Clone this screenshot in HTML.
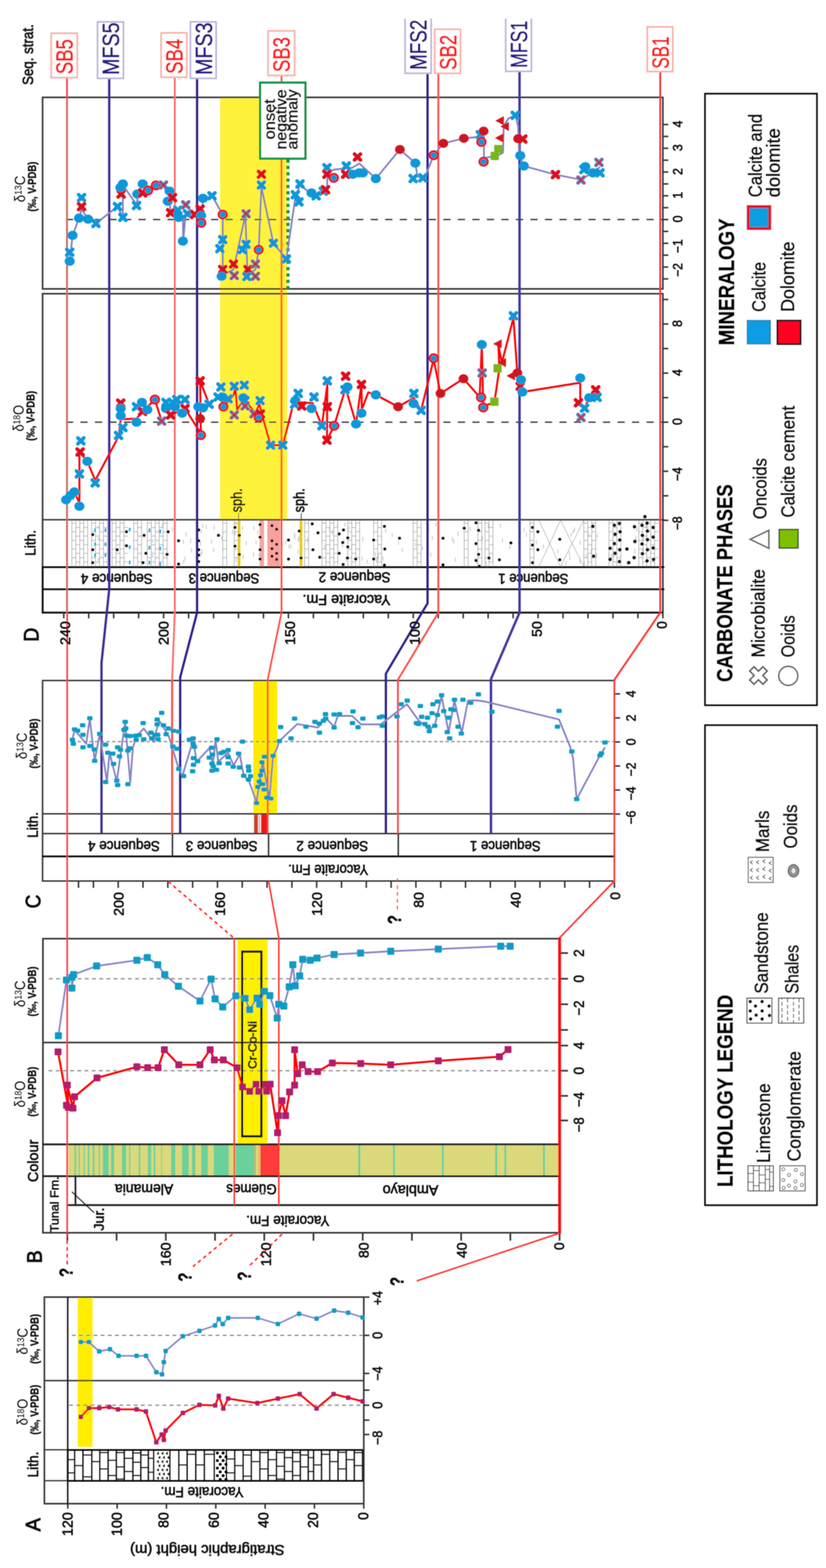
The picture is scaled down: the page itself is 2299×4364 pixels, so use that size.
<!DOCTYPE html>
<html lang="en">
<head>
<meta charset="utf-8">
<title>Stratigraphic isotope correlation</title>
<style>
html,body{margin:0;padding:0;background:#fff;}
body{width:2299px;height:4364px;overflow:hidden;}
svg{display:block;}
text{font-family:"Liberation Sans", "DejaVu Sans", sans-serif;}
</style>
</head>
<body>
<svg width="2299" height="4364" viewBox="0 0 2299 4364">
<defs><filter id="soft" x="0" y="0" width="2299" height="4364" filterUnits="userSpaceOnUse"><feGaussianBlur stdDeviation="1.3"/></filter></defs>
<rect x="0" y="0" width="2299" height="4364" fill="#ffffff"/>
<g filter="url(#soft)">
<rect x="612.5" y="271" width="186.5" height="1175.5" fill="#fff23a" stroke="none" stroke-width="0" />
<rect x="705" y="1894" width="66.5" height="371" fill="#ffea00" stroke="none" stroke-width="0" />
<rect x="661" y="2612.5" width="84" height="572.5" fill="#fff000" stroke="none" stroke-width="0" />
<rect x="216.5" y="3610" width="41" height="416.5" fill="#ffee00" stroke="none" stroke-width="0" />
<line x1="200" y1="1448" x2="200" y2="1577" stroke="#a4a4a4" stroke-width="1.7" />
<line x1="200" y1="1456" x2="211" y2="1456" stroke="#a4a4a4" stroke-width="1.6" />
<line x1="200" y1="1480" x2="211" y2="1480" stroke="#a4a4a4" stroke-width="1.6" />
<line x1="200" y1="1504" x2="211" y2="1504" stroke="#a4a4a4" stroke-width="1.6" />
<line x1="200" y1="1528" x2="211" y2="1528" stroke="#a4a4a4" stroke-width="1.6" />
<line x1="200" y1="1552" x2="211" y2="1552" stroke="#a4a4a4" stroke-width="1.6" />
<line x1="200" y1="1576" x2="211" y2="1576" stroke="#a4a4a4" stroke-width="1.6" />
<line x1="211" y1="1448" x2="211" y2="1577" stroke="#a4a4a4" stroke-width="1.7" />
<line x1="211" y1="1468" x2="222" y2="1468" stroke="#a4a4a4" stroke-width="1.6" />
<line x1="211" y1="1492" x2="222" y2="1492" stroke="#a4a4a4" stroke-width="1.6" />
<line x1="211" y1="1516" x2="222" y2="1516" stroke="#a4a4a4" stroke-width="1.6" />
<line x1="211" y1="1540" x2="222" y2="1540" stroke="#a4a4a4" stroke-width="1.6" />
<line x1="211" y1="1564" x2="222" y2="1564" stroke="#a4a4a4" stroke-width="1.6" />
<line x1="222" y1="1448" x2="222" y2="1577" stroke="#a4a4a4" stroke-width="1.7" />
<line x1="222" y1="1456" x2="233" y2="1456" stroke="#a4a4a4" stroke-width="1.6" />
<line x1="222" y1="1480" x2="233" y2="1480" stroke="#a4a4a4" stroke-width="1.6" />
<line x1="222" y1="1504" x2="233" y2="1504" stroke="#a4a4a4" stroke-width="1.6" />
<line x1="222" y1="1528" x2="233" y2="1528" stroke="#a4a4a4" stroke-width="1.6" />
<line x1="222" y1="1552" x2="233" y2="1552" stroke="#a4a4a4" stroke-width="1.6" />
<line x1="222" y1="1576" x2="233" y2="1576" stroke="#a4a4a4" stroke-width="1.6" />
<line x1="233" y1="1448" x2="233" y2="1577" stroke="#a4a4a4" stroke-width="1.7" />
<line x1="233" y1="1468" x2="244" y2="1468" stroke="#a4a4a4" stroke-width="1.6" />
<line x1="233" y1="1492" x2="244" y2="1492" stroke="#a4a4a4" stroke-width="1.6" />
<line x1="233" y1="1516" x2="244" y2="1516" stroke="#a4a4a4" stroke-width="1.6" />
<line x1="233" y1="1540" x2="244" y2="1540" stroke="#a4a4a4" stroke-width="1.6" />
<line x1="233" y1="1564" x2="244" y2="1564" stroke="#a4a4a4" stroke-width="1.6" />
<line x1="244" y1="1448" x2="244" y2="1577" stroke="#a4a4a4" stroke-width="1.7" />
<line x1="255" y1="1448" x2="255" y2="1577" stroke="#a4a4a4" stroke-width="1.7" />
<line x1="255" y1="1456" x2="266" y2="1456" stroke="#a4a4a4" stroke-width="1.6" />
<line x1="255" y1="1480" x2="266" y2="1480" stroke="#a4a4a4" stroke-width="1.6" />
<line x1="255" y1="1504" x2="266" y2="1504" stroke="#a4a4a4" stroke-width="1.6" />
<line x1="255" y1="1528" x2="266" y2="1528" stroke="#a4a4a4" stroke-width="1.6" />
<line x1="255" y1="1552" x2="266" y2="1552" stroke="#a4a4a4" stroke-width="1.6" />
<line x1="255" y1="1576" x2="266" y2="1576" stroke="#a4a4a4" stroke-width="1.6" />
<line x1="266" y1="1448" x2="266" y2="1577" stroke="#a4a4a4" stroke-width="1.7" />
<line x1="266" y1="1468" x2="277" y2="1468" stroke="#a4a4a4" stroke-width="1.6" />
<line x1="266" y1="1492" x2="277" y2="1492" stroke="#a4a4a4" stroke-width="1.6" />
<line x1="266" y1="1516" x2="277" y2="1516" stroke="#a4a4a4" stroke-width="1.6" />
<line x1="266" y1="1540" x2="277" y2="1540" stroke="#a4a4a4" stroke-width="1.6" />
<line x1="266" y1="1564" x2="277" y2="1564" stroke="#a4a4a4" stroke-width="1.6" />
<line x1="277" y1="1448" x2="277" y2="1577" stroke="#a4a4a4" stroke-width="1.7" />
<line x1="277" y1="1456" x2="288" y2="1456" stroke="#a4a4a4" stroke-width="1.6" />
<line x1="277" y1="1480" x2="288" y2="1480" stroke="#a4a4a4" stroke-width="1.6" />
<line x1="277" y1="1504" x2="288" y2="1504" stroke="#a4a4a4" stroke-width="1.6" />
<line x1="277" y1="1528" x2="288" y2="1528" stroke="#a4a4a4" stroke-width="1.6" />
<line x1="277" y1="1552" x2="288" y2="1552" stroke="#a4a4a4" stroke-width="1.6" />
<line x1="277" y1="1576" x2="288" y2="1576" stroke="#a4a4a4" stroke-width="1.6" />
<line x1="288" y1="1448" x2="288" y2="1577" stroke="#a4a4a4" stroke-width="1.7" />
<line x1="288" y1="1468" x2="299" y2="1468" stroke="#a4a4a4" stroke-width="1.6" />
<line x1="288" y1="1492" x2="299" y2="1492" stroke="#a4a4a4" stroke-width="1.6" />
<line x1="288" y1="1516" x2="299" y2="1516" stroke="#a4a4a4" stroke-width="1.6" />
<line x1="288" y1="1540" x2="299" y2="1540" stroke="#a4a4a4" stroke-width="1.6" />
<line x1="288" y1="1564" x2="299" y2="1564" stroke="#a4a4a4" stroke-width="1.6" />
<line x1="299" y1="1448" x2="299" y2="1577" stroke="#a4a4a4" stroke-width="1.7" />
<line x1="312" y1="1448" x2="312" y2="1577" stroke="#a4a4a4" stroke-width="1.7" />
<line x1="312" y1="1456" x2="323" y2="1456" stroke="#a4a4a4" stroke-width="1.6" />
<line x1="312" y1="1480" x2="323" y2="1480" stroke="#a4a4a4" stroke-width="1.6" />
<line x1="312" y1="1504" x2="323" y2="1504" stroke="#a4a4a4" stroke-width="1.6" />
<line x1="312" y1="1528" x2="323" y2="1528" stroke="#a4a4a4" stroke-width="1.6" />
<line x1="312" y1="1552" x2="323" y2="1552" stroke="#a4a4a4" stroke-width="1.6" />
<line x1="312" y1="1576" x2="323" y2="1576" stroke="#a4a4a4" stroke-width="1.6" />
<line x1="323" y1="1448" x2="323" y2="1577" stroke="#a4a4a4" stroke-width="1.7" />
<line x1="323" y1="1468" x2="334" y2="1468" stroke="#a4a4a4" stroke-width="1.6" />
<line x1="323" y1="1492" x2="334" y2="1492" stroke="#a4a4a4" stroke-width="1.6" />
<line x1="323" y1="1516" x2="334" y2="1516" stroke="#a4a4a4" stroke-width="1.6" />
<line x1="323" y1="1540" x2="334" y2="1540" stroke="#a4a4a4" stroke-width="1.6" />
<line x1="323" y1="1564" x2="334" y2="1564" stroke="#a4a4a4" stroke-width="1.6" />
<line x1="334" y1="1448" x2="334" y2="1577" stroke="#a4a4a4" stroke-width="1.7" />
<line x1="334" y1="1456" x2="345" y2="1456" stroke="#a4a4a4" stroke-width="1.6" />
<line x1="334" y1="1480" x2="345" y2="1480" stroke="#a4a4a4" stroke-width="1.6" />
<line x1="334" y1="1504" x2="345" y2="1504" stroke="#a4a4a4" stroke-width="1.6" />
<line x1="334" y1="1528" x2="345" y2="1528" stroke="#a4a4a4" stroke-width="1.6" />
<line x1="334" y1="1552" x2="345" y2="1552" stroke="#a4a4a4" stroke-width="1.6" />
<line x1="334" y1="1576" x2="345" y2="1576" stroke="#a4a4a4" stroke-width="1.6" />
<line x1="345" y1="1448" x2="345" y2="1577" stroke="#a4a4a4" stroke-width="1.7" />
<line x1="345" y1="1468" x2="356" y2="1468" stroke="#a4a4a4" stroke-width="1.6" />
<line x1="345" y1="1492" x2="356" y2="1492" stroke="#a4a4a4" stroke-width="1.6" />
<line x1="345" y1="1516" x2="356" y2="1516" stroke="#a4a4a4" stroke-width="1.6" />
<line x1="345" y1="1540" x2="356" y2="1540" stroke="#a4a4a4" stroke-width="1.6" />
<line x1="345" y1="1564" x2="356" y2="1564" stroke="#a4a4a4" stroke-width="1.6" />
<line x1="372" y1="1448" x2="372" y2="1577" stroke="#a4a4a4" stroke-width="1.7" />
<line x1="372" y1="1456" x2="383" y2="1456" stroke="#a4a4a4" stroke-width="1.6" />
<line x1="372" y1="1480" x2="383" y2="1480" stroke="#a4a4a4" stroke-width="1.6" />
<line x1="372" y1="1504" x2="383" y2="1504" stroke="#a4a4a4" stroke-width="1.6" />
<line x1="372" y1="1528" x2="383" y2="1528" stroke="#a4a4a4" stroke-width="1.6" />
<line x1="372" y1="1552" x2="383" y2="1552" stroke="#a4a4a4" stroke-width="1.6" />
<line x1="372" y1="1576" x2="383" y2="1576" stroke="#a4a4a4" stroke-width="1.6" />
<line x1="383" y1="1448" x2="383" y2="1577" stroke="#a4a4a4" stroke-width="1.7" />
<line x1="383" y1="1468" x2="394" y2="1468" stroke="#a4a4a4" stroke-width="1.6" />
<line x1="383" y1="1492" x2="394" y2="1492" stroke="#a4a4a4" stroke-width="1.6" />
<line x1="383" y1="1516" x2="394" y2="1516" stroke="#a4a4a4" stroke-width="1.6" />
<line x1="383" y1="1540" x2="394" y2="1540" stroke="#a4a4a4" stroke-width="1.6" />
<line x1="383" y1="1564" x2="394" y2="1564" stroke="#a4a4a4" stroke-width="1.6" />
<line x1="394" y1="1448" x2="394" y2="1577" stroke="#a4a4a4" stroke-width="1.7" />
<line x1="410" y1="1448" x2="410" y2="1577" stroke="#a4a4a4" stroke-width="1.7" />
<line x1="410" y1="1456" x2="421" y2="1456" stroke="#a4a4a4" stroke-width="1.6" />
<line x1="410" y1="1480" x2="421" y2="1480" stroke="#a4a4a4" stroke-width="1.6" />
<line x1="410" y1="1504" x2="421" y2="1504" stroke="#a4a4a4" stroke-width="1.6" />
<line x1="410" y1="1528" x2="421" y2="1528" stroke="#a4a4a4" stroke-width="1.6" />
<line x1="410" y1="1552" x2="421" y2="1552" stroke="#a4a4a4" stroke-width="1.6" />
<line x1="410" y1="1576" x2="421" y2="1576" stroke="#a4a4a4" stroke-width="1.6" />
<line x1="421" y1="1448" x2="421" y2="1577" stroke="#a4a4a4" stroke-width="1.7" />
<line x1="421" y1="1468" x2="432" y2="1468" stroke="#a4a4a4" stroke-width="1.6" />
<line x1="421" y1="1492" x2="432" y2="1492" stroke="#a4a4a4" stroke-width="1.6" />
<line x1="421" y1="1516" x2="432" y2="1516" stroke="#a4a4a4" stroke-width="1.6" />
<line x1="421" y1="1540" x2="432" y2="1540" stroke="#a4a4a4" stroke-width="1.6" />
<line x1="421" y1="1564" x2="432" y2="1564" stroke="#a4a4a4" stroke-width="1.6" />
<line x1="432" y1="1448" x2="432" y2="1577" stroke="#a4a4a4" stroke-width="1.7" />
<line x1="432" y1="1456" x2="443" y2="1456" stroke="#a4a4a4" stroke-width="1.6" />
<line x1="432" y1="1480" x2="443" y2="1480" stroke="#a4a4a4" stroke-width="1.6" />
<line x1="432" y1="1504" x2="443" y2="1504" stroke="#a4a4a4" stroke-width="1.6" />
<line x1="432" y1="1528" x2="443" y2="1528" stroke="#a4a4a4" stroke-width="1.6" />
<line x1="432" y1="1552" x2="443" y2="1552" stroke="#a4a4a4" stroke-width="1.6" />
<line x1="432" y1="1576" x2="443" y2="1576" stroke="#a4a4a4" stroke-width="1.6" />
<line x1="443" y1="1448" x2="443" y2="1577" stroke="#a4a4a4" stroke-width="1.7" />
<line x1="443" y1="1468" x2="454" y2="1468" stroke="#a4a4a4" stroke-width="1.6" />
<line x1="443" y1="1492" x2="454" y2="1492" stroke="#a4a4a4" stroke-width="1.6" />
<line x1="443" y1="1516" x2="454" y2="1516" stroke="#a4a4a4" stroke-width="1.6" />
<line x1="443" y1="1540" x2="454" y2="1540" stroke="#a4a4a4" stroke-width="1.6" />
<line x1="443" y1="1564" x2="454" y2="1564" stroke="#a4a4a4" stroke-width="1.6" />
<line x1="454" y1="1448" x2="454" y2="1577" stroke="#a4a4a4" stroke-width="1.7" />
<line x1="454" y1="1456" x2="465" y2="1456" stroke="#a4a4a4" stroke-width="1.6" />
<line x1="454" y1="1480" x2="465" y2="1480" stroke="#a4a4a4" stroke-width="1.6" />
<line x1="454" y1="1504" x2="465" y2="1504" stroke="#a4a4a4" stroke-width="1.6" />
<line x1="454" y1="1528" x2="465" y2="1528" stroke="#a4a4a4" stroke-width="1.6" />
<line x1="454" y1="1552" x2="465" y2="1552" stroke="#a4a4a4" stroke-width="1.6" />
<line x1="454" y1="1576" x2="465" y2="1576" stroke="#a4a4a4" stroke-width="1.6" />
<line x1="465" y1="1448" x2="465" y2="1577" stroke="#a4a4a4" stroke-width="1.7" />
<line x1="620" y1="1448" x2="620" y2="1577" stroke="#a4a4a4" stroke-width="1.7" />
<line x1="620" y1="1456" x2="631" y2="1456" stroke="#a4a4a4" stroke-width="1.6" />
<line x1="620" y1="1480" x2="631" y2="1480" stroke="#a4a4a4" stroke-width="1.6" />
<line x1="620" y1="1504" x2="631" y2="1504" stroke="#a4a4a4" stroke-width="1.6" />
<line x1="620" y1="1528" x2="631" y2="1528" stroke="#a4a4a4" stroke-width="1.6" />
<line x1="620" y1="1552" x2="631" y2="1552" stroke="#a4a4a4" stroke-width="1.6" />
<line x1="620" y1="1576" x2="631" y2="1576" stroke="#a4a4a4" stroke-width="1.6" />
<line x1="631" y1="1448" x2="631" y2="1577" stroke="#a4a4a4" stroke-width="1.7" />
<line x1="652" y1="1448" x2="652" y2="1577" stroke="#a4a4a4" stroke-width="1.7" />
<line x1="652" y1="1456" x2="663" y2="1456" stroke="#a4a4a4" stroke-width="1.6" />
<line x1="652" y1="1480" x2="663" y2="1480" stroke="#a4a4a4" stroke-width="1.6" />
<line x1="652" y1="1504" x2="663" y2="1504" stroke="#a4a4a4" stroke-width="1.6" />
<line x1="652" y1="1528" x2="663" y2="1528" stroke="#a4a4a4" stroke-width="1.6" />
<line x1="652" y1="1552" x2="663" y2="1552" stroke="#a4a4a4" stroke-width="1.6" />
<line x1="652" y1="1576" x2="663" y2="1576" stroke="#a4a4a4" stroke-width="1.6" />
<line x1="848" y1="1448" x2="848" y2="1577" stroke="#a4a4a4" stroke-width="1.7" />
<line x1="848" y1="1456" x2="859" y2="1456" stroke="#a4a4a4" stroke-width="1.6" />
<line x1="848" y1="1480" x2="859" y2="1480" stroke="#a4a4a4" stroke-width="1.6" />
<line x1="848" y1="1504" x2="859" y2="1504" stroke="#a4a4a4" stroke-width="1.6" />
<line x1="848" y1="1528" x2="859" y2="1528" stroke="#a4a4a4" stroke-width="1.6" />
<line x1="848" y1="1552" x2="859" y2="1552" stroke="#a4a4a4" stroke-width="1.6" />
<line x1="848" y1="1576" x2="859" y2="1576" stroke="#a4a4a4" stroke-width="1.6" />
<line x1="859" y1="1448" x2="859" y2="1577" stroke="#a4a4a4" stroke-width="1.7" />
<line x1="896" y1="1448" x2="896" y2="1577" stroke="#a4a4a4" stroke-width="1.7" />
<line x1="896" y1="1456" x2="907" y2="1456" stroke="#a4a4a4" stroke-width="1.6" />
<line x1="896" y1="1480" x2="907" y2="1480" stroke="#a4a4a4" stroke-width="1.6" />
<line x1="896" y1="1504" x2="907" y2="1504" stroke="#a4a4a4" stroke-width="1.6" />
<line x1="896" y1="1528" x2="907" y2="1528" stroke="#a4a4a4" stroke-width="1.6" />
<line x1="896" y1="1552" x2="907" y2="1552" stroke="#a4a4a4" stroke-width="1.6" />
<line x1="896" y1="1576" x2="907" y2="1576" stroke="#a4a4a4" stroke-width="1.6" />
<line x1="907" y1="1448" x2="907" y2="1577" stroke="#a4a4a4" stroke-width="1.7" />
<line x1="907" y1="1468" x2="918" y2="1468" stroke="#a4a4a4" stroke-width="1.6" />
<line x1="907" y1="1492" x2="918" y2="1492" stroke="#a4a4a4" stroke-width="1.6" />
<line x1="907" y1="1516" x2="918" y2="1516" stroke="#a4a4a4" stroke-width="1.6" />
<line x1="907" y1="1540" x2="918" y2="1540" stroke="#a4a4a4" stroke-width="1.6" />
<line x1="907" y1="1564" x2="918" y2="1564" stroke="#a4a4a4" stroke-width="1.6" />
<line x1="918" y1="1448" x2="918" y2="1577" stroke="#a4a4a4" stroke-width="1.7" />
<line x1="918" y1="1456" x2="929" y2="1456" stroke="#a4a4a4" stroke-width="1.6" />
<line x1="918" y1="1480" x2="929" y2="1480" stroke="#a4a4a4" stroke-width="1.6" />
<line x1="918" y1="1504" x2="929" y2="1504" stroke="#a4a4a4" stroke-width="1.6" />
<line x1="918" y1="1528" x2="929" y2="1528" stroke="#a4a4a4" stroke-width="1.6" />
<line x1="918" y1="1552" x2="929" y2="1552" stroke="#a4a4a4" stroke-width="1.6" />
<line x1="918" y1="1576" x2="929" y2="1576" stroke="#a4a4a4" stroke-width="1.6" />
<line x1="929" y1="1448" x2="929" y2="1577" stroke="#a4a4a4" stroke-width="1.7" />
<line x1="929" y1="1468" x2="940" y2="1468" stroke="#a4a4a4" stroke-width="1.6" />
<line x1="929" y1="1492" x2="940" y2="1492" stroke="#a4a4a4" stroke-width="1.6" />
<line x1="929" y1="1516" x2="940" y2="1516" stroke="#a4a4a4" stroke-width="1.6" />
<line x1="929" y1="1540" x2="940" y2="1540" stroke="#a4a4a4" stroke-width="1.6" />
<line x1="929" y1="1564" x2="940" y2="1564" stroke="#a4a4a4" stroke-width="1.6" />
<line x1="940" y1="1448" x2="940" y2="1577" stroke="#a4a4a4" stroke-width="1.7" />
<line x1="968" y1="1448" x2="968" y2="1577" stroke="#a4a4a4" stroke-width="1.7" />
<line x1="968" y1="1456" x2="979" y2="1456" stroke="#a4a4a4" stroke-width="1.6" />
<line x1="968" y1="1480" x2="979" y2="1480" stroke="#a4a4a4" stroke-width="1.6" />
<line x1="968" y1="1504" x2="979" y2="1504" stroke="#a4a4a4" stroke-width="1.6" />
<line x1="968" y1="1528" x2="979" y2="1528" stroke="#a4a4a4" stroke-width="1.6" />
<line x1="968" y1="1552" x2="979" y2="1552" stroke="#a4a4a4" stroke-width="1.6" />
<line x1="968" y1="1576" x2="979" y2="1576" stroke="#a4a4a4" stroke-width="1.6" />
<line x1="979" y1="1448" x2="979" y2="1577" stroke="#a4a4a4" stroke-width="1.7" />
<line x1="979" y1="1468" x2="990" y2="1468" stroke="#a4a4a4" stroke-width="1.6" />
<line x1="979" y1="1492" x2="990" y2="1492" stroke="#a4a4a4" stroke-width="1.6" />
<line x1="979" y1="1516" x2="990" y2="1516" stroke="#a4a4a4" stroke-width="1.6" />
<line x1="979" y1="1540" x2="990" y2="1540" stroke="#a4a4a4" stroke-width="1.6" />
<line x1="979" y1="1564" x2="990" y2="1564" stroke="#a4a4a4" stroke-width="1.6" />
<line x1="990" y1="1448" x2="990" y2="1577" stroke="#a4a4a4" stroke-width="1.7" />
<line x1="990" y1="1456" x2="1001" y2="1456" stroke="#a4a4a4" stroke-width="1.6" />
<line x1="990" y1="1480" x2="1001" y2="1480" stroke="#a4a4a4" stroke-width="1.6" />
<line x1="990" y1="1504" x2="1001" y2="1504" stroke="#a4a4a4" stroke-width="1.6" />
<line x1="990" y1="1528" x2="1001" y2="1528" stroke="#a4a4a4" stroke-width="1.6" />
<line x1="990" y1="1552" x2="1001" y2="1552" stroke="#a4a4a4" stroke-width="1.6" />
<line x1="990" y1="1576" x2="1001" y2="1576" stroke="#a4a4a4" stroke-width="1.6" />
<line x1="1001" y1="1448" x2="1001" y2="1577" stroke="#a4a4a4" stroke-width="1.7" />
<line x1="1040" y1="1448" x2="1040" y2="1577" stroke="#a4a4a4" stroke-width="1.7" />
<line x1="1040" y1="1456" x2="1051" y2="1456" stroke="#a4a4a4" stroke-width="1.6" />
<line x1="1040" y1="1480" x2="1051" y2="1480" stroke="#a4a4a4" stroke-width="1.6" />
<line x1="1040" y1="1504" x2="1051" y2="1504" stroke="#a4a4a4" stroke-width="1.6" />
<line x1="1040" y1="1528" x2="1051" y2="1528" stroke="#a4a4a4" stroke-width="1.6" />
<line x1="1040" y1="1552" x2="1051" y2="1552" stroke="#a4a4a4" stroke-width="1.6" />
<line x1="1040" y1="1576" x2="1051" y2="1576" stroke="#a4a4a4" stroke-width="1.6" />
<line x1="1051" y1="1448" x2="1051" y2="1577" stroke="#a4a4a4" stroke-width="1.7" />
<line x1="1051" y1="1468" x2="1062" y2="1468" stroke="#a4a4a4" stroke-width="1.6" />
<line x1="1051" y1="1492" x2="1062" y2="1492" stroke="#a4a4a4" stroke-width="1.6" />
<line x1="1051" y1="1516" x2="1062" y2="1516" stroke="#a4a4a4" stroke-width="1.6" />
<line x1="1051" y1="1540" x2="1062" y2="1540" stroke="#a4a4a4" stroke-width="1.6" />
<line x1="1051" y1="1564" x2="1062" y2="1564" stroke="#a4a4a4" stroke-width="1.6" />
<line x1="1062" y1="1448" x2="1062" y2="1577" stroke="#a4a4a4" stroke-width="1.7" />
<line x1="1150" y1="1448" x2="1150" y2="1577" stroke="#a4a4a4" stroke-width="1.7" />
<line x1="1150" y1="1456" x2="1161" y2="1456" stroke="#a4a4a4" stroke-width="1.6" />
<line x1="1150" y1="1480" x2="1161" y2="1480" stroke="#a4a4a4" stroke-width="1.6" />
<line x1="1150" y1="1504" x2="1161" y2="1504" stroke="#a4a4a4" stroke-width="1.6" />
<line x1="1150" y1="1528" x2="1161" y2="1528" stroke="#a4a4a4" stroke-width="1.6" />
<line x1="1150" y1="1552" x2="1161" y2="1552" stroke="#a4a4a4" stroke-width="1.6" />
<line x1="1150" y1="1576" x2="1161" y2="1576" stroke="#a4a4a4" stroke-width="1.6" />
<line x1="1161" y1="1448" x2="1161" y2="1577" stroke="#a4a4a4" stroke-width="1.7" />
<line x1="1161" y1="1468" x2="1172" y2="1468" stroke="#a4a4a4" stroke-width="1.6" />
<line x1="1161" y1="1492" x2="1172" y2="1492" stroke="#a4a4a4" stroke-width="1.6" />
<line x1="1161" y1="1516" x2="1172" y2="1516" stroke="#a4a4a4" stroke-width="1.6" />
<line x1="1161" y1="1540" x2="1172" y2="1540" stroke="#a4a4a4" stroke-width="1.6" />
<line x1="1161" y1="1564" x2="1172" y2="1564" stroke="#a4a4a4" stroke-width="1.6" />
<line x1="1172" y1="1448" x2="1172" y2="1577" stroke="#a4a4a4" stroke-width="1.7" />
<line x1="1292" y1="1448" x2="1292" y2="1577" stroke="#a4a4a4" stroke-width="1.7" />
<line x1="1292" y1="1456" x2="1303" y2="1456" stroke="#a4a4a4" stroke-width="1.6" />
<line x1="1292" y1="1480" x2="1303" y2="1480" stroke="#a4a4a4" stroke-width="1.6" />
<line x1="1292" y1="1504" x2="1303" y2="1504" stroke="#a4a4a4" stroke-width="1.6" />
<line x1="1292" y1="1528" x2="1303" y2="1528" stroke="#a4a4a4" stroke-width="1.6" />
<line x1="1292" y1="1552" x2="1303" y2="1552" stroke="#a4a4a4" stroke-width="1.6" />
<line x1="1292" y1="1576" x2="1303" y2="1576" stroke="#a4a4a4" stroke-width="1.6" />
<line x1="1303" y1="1448" x2="1303" y2="1577" stroke="#a4a4a4" stroke-width="1.7" />
<line x1="1330" y1="1448" x2="1330" y2="1577" stroke="#a4a4a4" stroke-width="1.7" />
<line x1="1330" y1="1456" x2="1341" y2="1456" stroke="#a4a4a4" stroke-width="1.6" />
<line x1="1330" y1="1480" x2="1341" y2="1480" stroke="#a4a4a4" stroke-width="1.6" />
<line x1="1330" y1="1504" x2="1341" y2="1504" stroke="#a4a4a4" stroke-width="1.6" />
<line x1="1330" y1="1528" x2="1341" y2="1528" stroke="#a4a4a4" stroke-width="1.6" />
<line x1="1330" y1="1552" x2="1341" y2="1552" stroke="#a4a4a4" stroke-width="1.6" />
<line x1="1330" y1="1576" x2="1341" y2="1576" stroke="#a4a4a4" stroke-width="1.6" />
<line x1="1341" y1="1448" x2="1341" y2="1577" stroke="#a4a4a4" stroke-width="1.7" />
<line x1="1350" y1="1448" x2="1350" y2="1577" stroke="#a4a4a4" stroke-width="1.7" />
<line x1="1350" y1="1456" x2="1361" y2="1456" stroke="#a4a4a4" stroke-width="1.6" />
<line x1="1350" y1="1480" x2="1361" y2="1480" stroke="#a4a4a4" stroke-width="1.6" />
<line x1="1350" y1="1504" x2="1361" y2="1504" stroke="#a4a4a4" stroke-width="1.6" />
<line x1="1350" y1="1528" x2="1361" y2="1528" stroke="#a4a4a4" stroke-width="1.6" />
<line x1="1350" y1="1552" x2="1361" y2="1552" stroke="#a4a4a4" stroke-width="1.6" />
<line x1="1350" y1="1576" x2="1361" y2="1576" stroke="#a4a4a4" stroke-width="1.6" />
<line x1="1361" y1="1448" x2="1361" y2="1577" stroke="#a4a4a4" stroke-width="1.7" />
<line x1="1361" y1="1468" x2="1372" y2="1468" stroke="#a4a4a4" stroke-width="1.6" />
<line x1="1361" y1="1492" x2="1372" y2="1492" stroke="#a4a4a4" stroke-width="1.6" />
<line x1="1361" y1="1516" x2="1372" y2="1516" stroke="#a4a4a4" stroke-width="1.6" />
<line x1="1361" y1="1540" x2="1372" y2="1540" stroke="#a4a4a4" stroke-width="1.6" />
<line x1="1361" y1="1564" x2="1372" y2="1564" stroke="#a4a4a4" stroke-width="1.6" />
<line x1="1372" y1="1448" x2="1372" y2="1577" stroke="#a4a4a4" stroke-width="1.7" />
<line x1="1475" y1="1448" x2="1475" y2="1577" stroke="#a4a4a4" stroke-width="1.7" />
<line x1="1475" y1="1456" x2="1486" y2="1456" stroke="#a4a4a4" stroke-width="1.6" />
<line x1="1475" y1="1480" x2="1486" y2="1480" stroke="#a4a4a4" stroke-width="1.6" />
<line x1="1475" y1="1504" x2="1486" y2="1504" stroke="#a4a4a4" stroke-width="1.6" />
<line x1="1475" y1="1528" x2="1486" y2="1528" stroke="#a4a4a4" stroke-width="1.6" />
<line x1="1475" y1="1552" x2="1486" y2="1552" stroke="#a4a4a4" stroke-width="1.6" />
<line x1="1475" y1="1576" x2="1486" y2="1576" stroke="#a4a4a4" stroke-width="1.6" />
<line x1="1486" y1="1448" x2="1486" y2="1577" stroke="#a4a4a4" stroke-width="1.7" />
<line x1="1625" y1="1448" x2="1625" y2="1577" stroke="#a4a4a4" stroke-width="1.7" />
<line x1="1625" y1="1456" x2="1636" y2="1456" stroke="#a4a4a4" stroke-width="1.6" />
<line x1="1625" y1="1480" x2="1636" y2="1480" stroke="#a4a4a4" stroke-width="1.6" />
<line x1="1625" y1="1504" x2="1636" y2="1504" stroke="#a4a4a4" stroke-width="1.6" />
<line x1="1625" y1="1528" x2="1636" y2="1528" stroke="#a4a4a4" stroke-width="1.6" />
<line x1="1625" y1="1552" x2="1636" y2="1552" stroke="#a4a4a4" stroke-width="1.6" />
<line x1="1625" y1="1576" x2="1636" y2="1576" stroke="#a4a4a4" stroke-width="1.6" />
<line x1="1636" y1="1448" x2="1636" y2="1577" stroke="#a4a4a4" stroke-width="1.7" />
<line x1="1636" y1="1468" x2="1647" y2="1468" stroke="#a4a4a4" stroke-width="1.6" />
<line x1="1636" y1="1492" x2="1647" y2="1492" stroke="#a4a4a4" stroke-width="1.6" />
<line x1="1636" y1="1516" x2="1647" y2="1516" stroke="#a4a4a4" stroke-width="1.6" />
<line x1="1636" y1="1540" x2="1647" y2="1540" stroke="#a4a4a4" stroke-width="1.6" />
<line x1="1636" y1="1564" x2="1647" y2="1564" stroke="#a4a4a4" stroke-width="1.6" />
<line x1="1647" y1="1448" x2="1647" y2="1577" stroke="#a4a4a4" stroke-width="1.7" />
<line x1="1647" y1="1456" x2="1658" y2="1456" stroke="#a4a4a4" stroke-width="1.6" />
<line x1="1647" y1="1480" x2="1658" y2="1480" stroke="#a4a4a4" stroke-width="1.6" />
<line x1="1647" y1="1504" x2="1658" y2="1504" stroke="#a4a4a4" stroke-width="1.6" />
<line x1="1647" y1="1528" x2="1658" y2="1528" stroke="#a4a4a4" stroke-width="1.6" />
<line x1="1647" y1="1552" x2="1658" y2="1552" stroke="#a4a4a4" stroke-width="1.6" />
<line x1="1647" y1="1576" x2="1658" y2="1576" stroke="#a4a4a4" stroke-width="1.6" />
<line x1="1658" y1="1448" x2="1658" y2="1577" stroke="#a4a4a4" stroke-width="1.7" />
<line x1="1695" y1="1448" x2="1695" y2="1577" stroke="#a4a4a4" stroke-width="1.7" />
<line x1="1695" y1="1456" x2="1706" y2="1456" stroke="#a4a4a4" stroke-width="1.6" />
<line x1="1695" y1="1480" x2="1706" y2="1480" stroke="#a4a4a4" stroke-width="1.6" />
<line x1="1695" y1="1504" x2="1706" y2="1504" stroke="#a4a4a4" stroke-width="1.6" />
<line x1="1695" y1="1528" x2="1706" y2="1528" stroke="#a4a4a4" stroke-width="1.6" />
<line x1="1695" y1="1552" x2="1706" y2="1552" stroke="#a4a4a4" stroke-width="1.6" />
<line x1="1695" y1="1576" x2="1706" y2="1576" stroke="#a4a4a4" stroke-width="1.6" />
<line x1="1706" y1="1448" x2="1706" y2="1577" stroke="#a4a4a4" stroke-width="1.7" />
<line x1="1706" y1="1468" x2="1717" y2="1468" stroke="#a4a4a4" stroke-width="1.6" />
<line x1="1706" y1="1492" x2="1717" y2="1492" stroke="#a4a4a4" stroke-width="1.6" />
<line x1="1706" y1="1516" x2="1717" y2="1516" stroke="#a4a4a4" stroke-width="1.6" />
<line x1="1706" y1="1540" x2="1717" y2="1540" stroke="#a4a4a4" stroke-width="1.6" />
<line x1="1706" y1="1564" x2="1717" y2="1564" stroke="#a4a4a4" stroke-width="1.6" />
<line x1="1717" y1="1448" x2="1717" y2="1577" stroke="#a4a4a4" stroke-width="1.7" />
<line x1="1717" y1="1456" x2="1728" y2="1456" stroke="#a4a4a4" stroke-width="1.6" />
<line x1="1717" y1="1480" x2="1728" y2="1480" stroke="#a4a4a4" stroke-width="1.6" />
<line x1="1717" y1="1504" x2="1728" y2="1504" stroke="#a4a4a4" stroke-width="1.6" />
<line x1="1717" y1="1528" x2="1728" y2="1528" stroke="#a4a4a4" stroke-width="1.6" />
<line x1="1717" y1="1552" x2="1728" y2="1552" stroke="#a4a4a4" stroke-width="1.6" />
<line x1="1717" y1="1576" x2="1728" y2="1576" stroke="#a4a4a4" stroke-width="1.6" />
<line x1="1728" y1="1448" x2="1728" y2="1577" stroke="#a4a4a4" stroke-width="1.7" />
<line x1="1778" y1="1448" x2="1778" y2="1577" stroke="#a4a4a4" stroke-width="1.7" />
<line x1="1778" y1="1456" x2="1789" y2="1456" stroke="#a4a4a4" stroke-width="1.6" />
<line x1="1778" y1="1480" x2="1789" y2="1480" stroke="#a4a4a4" stroke-width="1.6" />
<line x1="1778" y1="1504" x2="1789" y2="1504" stroke="#a4a4a4" stroke-width="1.6" />
<line x1="1778" y1="1528" x2="1789" y2="1528" stroke="#a4a4a4" stroke-width="1.6" />
<line x1="1778" y1="1552" x2="1789" y2="1552" stroke="#a4a4a4" stroke-width="1.6" />
<line x1="1778" y1="1576" x2="1789" y2="1576" stroke="#a4a4a4" stroke-width="1.6" />
<line x1="1789" y1="1448" x2="1789" y2="1577" stroke="#a4a4a4" stroke-width="1.7" />
<line x1="1789" y1="1468" x2="1800" y2="1468" stroke="#a4a4a4" stroke-width="1.6" />
<line x1="1789" y1="1492" x2="1800" y2="1492" stroke="#a4a4a4" stroke-width="1.6" />
<line x1="1789" y1="1516" x2="1800" y2="1516" stroke="#a4a4a4" stroke-width="1.6" />
<line x1="1789" y1="1540" x2="1800" y2="1540" stroke="#a4a4a4" stroke-width="1.6" />
<line x1="1789" y1="1564" x2="1800" y2="1564" stroke="#a4a4a4" stroke-width="1.6" />
<line x1="1800" y1="1448" x2="1800" y2="1577" stroke="#a4a4a4" stroke-width="1.7" />
<line x1="1800" y1="1456" x2="1811" y2="1456" stroke="#a4a4a4" stroke-width="1.6" />
<line x1="1800" y1="1480" x2="1811" y2="1480" stroke="#a4a4a4" stroke-width="1.6" />
<line x1="1800" y1="1504" x2="1811" y2="1504" stroke="#a4a4a4" stroke-width="1.6" />
<line x1="1800" y1="1528" x2="1811" y2="1528" stroke="#a4a4a4" stroke-width="1.6" />
<line x1="1800" y1="1552" x2="1811" y2="1552" stroke="#a4a4a4" stroke-width="1.6" />
<line x1="1800" y1="1576" x2="1811" y2="1576" stroke="#a4a4a4" stroke-width="1.6" />
<line x1="1811" y1="1448" x2="1811" y2="1577" stroke="#a4a4a4" stroke-width="1.7" />
<line x1="1811" y1="1468" x2="1822" y2="1468" stroke="#a4a4a4" stroke-width="1.6" />
<line x1="1811" y1="1492" x2="1822" y2="1492" stroke="#a4a4a4" stroke-width="1.6" />
<line x1="1811" y1="1516" x2="1822" y2="1516" stroke="#a4a4a4" stroke-width="1.6" />
<line x1="1811" y1="1540" x2="1822" y2="1540" stroke="#a4a4a4" stroke-width="1.6" />
<line x1="1811" y1="1564" x2="1822" y2="1564" stroke="#a4a4a4" stroke-width="1.6" />
<line x1="1822" y1="1448" x2="1822" y2="1577" stroke="#a4a4a4" stroke-width="1.7" />
<line x1="1822" y1="1456" x2="1833" y2="1456" stroke="#a4a4a4" stroke-width="1.6" />
<line x1="1822" y1="1480" x2="1833" y2="1480" stroke="#a4a4a4" stroke-width="1.6" />
<line x1="1822" y1="1504" x2="1833" y2="1504" stroke="#a4a4a4" stroke-width="1.6" />
<line x1="1822" y1="1528" x2="1833" y2="1528" stroke="#a4a4a4" stroke-width="1.6" />
<line x1="1822" y1="1552" x2="1833" y2="1552" stroke="#a4a4a4" stroke-width="1.6" />
<line x1="1822" y1="1576" x2="1833" y2="1576" stroke="#a4a4a4" stroke-width="1.6" />
<line x1="1500" y1="1448" x2="1560" y2="1577" stroke="#999" stroke-width="1.3" />
<line x1="1500" y1="1577" x2="1560" y2="1448" stroke="#999" stroke-width="1.3" />
<line x1="1560" y1="1448" x2="1625" y2="1577" stroke="#999" stroke-width="1.3" />
<line x1="1560" y1="1577" x2="1625" y2="1448" stroke="#999" stroke-width="1.3" />
<rect x="722.5" y="1448" width="12.5" height="129" fill="#f3a7a0" stroke="none" stroke-width="0" />
<rect x="744" y="1448" width="36" height="129" fill="#f9a19c" stroke="none" stroke-width="0" />
<rect x="661.5" y="1448" width="7.5" height="129" fill="#ecc915" stroke="none" stroke-width="0" />
<rect x="834" y="1448" width="7.5" height="129" fill="#ecc915" stroke="none" stroke-width="0" />
<line x1="917.1742325247692" y1="1467.0459566534687" x2="917.1742325247692" y2="1479.0459566534687" stroke="#aaa" stroke-width="1.6" />
<line x1="1358.7615386038026" y1="1458.1853003934323" x2="1358.7615386038026" y2="1470.1853003934323" stroke="#aaa" stroke-width="1.6" />
<line x1="1203.4407058140305" y1="1491.3228476111221" x2="1203.4407058140305" y2="1503.3228476111221" stroke="#aaa" stroke-width="1.6" />
<line x1="558.2985484458542" y1="1507.3402378504045" x2="558.2985484458542" y2="1519.3402378504045" stroke="#aaa" stroke-width="1.6" />
<line x1="530.6191388966796" y1="1499.0019622538496" x2="530.6191388966796" y2="1511.0019622538496" stroke="#aaa" stroke-width="1.6" />
<line x1="574.3048218257355" y1="1460.2505705078568" x2="574.3048218257355" y2="1472.2505705078568" stroke="#aaa" stroke-width="1.6" />
<line x1="1053.1009053423938" y1="1543.4342900879403" x2="1053.1009053423938" y2="1555.4342900879403" stroke="#aaa" stroke-width="1.6" />
<line x1="647.1326475520216" y1="1475.2260030005928" x2="647.1326475520216" y2="1487.2260030005928" stroke="#aaa" stroke-width="1.6" />
<line x1="1327.0348502475456" y1="1557.0911104976417" x2="1327.0348502475456" y2="1569.0911104976417" stroke="#aaa" stroke-width="1.6" />
<line x1="1259.0889806336231" y1="1494.824893635538" x2="1259.0889806336231" y2="1506.824893635538" stroke="#aaa" stroke-width="1.6" />
<line x1="1797.944392550442" y1="1455.2638429098065" x2="1797.944392550442" y2="1467.2638429098065" stroke="#aaa" stroke-width="1.6" />
<line x1="1638.9324197157173" y1="1482.7258493554793" x2="1638.9324197157173" y2="1494.7258493554793" stroke="#aaa" stroke-width="1.6" />
<line x1="674.7443625325407" y1="1463.3105229028556" x2="674.7443625325407" y2="1475.3105229028556" stroke="#aaa" stroke-width="1.6" />
<line x1="896.4504625376114" y1="1542.2222785805636" x2="896.4504625376114" y2="1554.2222785805636" stroke="#aaa" stroke-width="1.6" />
<line x1="723.9806128973156" y1="1515.7208184938586" x2="723.9806128973156" y2="1527.7208184938586" stroke="#aaa" stroke-width="1.6" />
<line x1="1342.5331830503485" y1="1492.0809223280075" x2="1342.5331830503485" y2="1504.0809223280075" stroke="#aaa" stroke-width="1.6" />
<line x1="1219.455028707903" y1="1457.0951541719855" x2="1219.455028707903" y2="1469.0951541719855" stroke="#aaa" stroke-width="1.6" />
<line x1="560.461579454414" y1="1473.273334548584" x2="560.461579454414" y2="1485.273334548584" stroke="#aaa" stroke-width="1.6" />
<line x1="1398.539963795411" y1="1498.3179305406425" x2="1398.539963795411" y2="1510.3179305406425" stroke="#aaa" stroke-width="1.6" />
<line x1="904.0986800086686" y1="1516.1684905763632" x2="904.0986800086686" y2="1528.1684905763632" stroke="#aaa" stroke-width="1.6" />
<line x1="1091.7989081005467" y1="1483.8736706455961" x2="1091.7989081005467" y2="1495.8736706455961" stroke="#aaa" stroke-width="1.6" />
<line x1="1552.4123000553632" y1="1528.9863710114416" x2="1552.4123000553632" y2="1540.9863710114416" stroke="#aaa" stroke-width="1.6" />
<line x1="809.5302894749063" y1="1514.90987925923" x2="809.5302894749063" y2="1526.90987925923" stroke="#aaa" stroke-width="1.6" />
<line x1="1189.0152801454594" y1="1548.8905369997974" x2="1189.0152801454594" y2="1560.8905369997974" stroke="#aaa" stroke-width="1.6" />
<line x1="1464.7511407429438" y1="1482.5369674325912" x2="1464.7511407429438" y2="1494.5369674325912" stroke="#aaa" stroke-width="1.6" />
<line x1="1803.2360441149858" y1="1463.3414329428108" x2="1803.2360441149858" y2="1475.3414329428108" stroke="#aaa" stroke-width="1.6" />
<line x1="1044.4658094100569" y1="1535.5569250408732" x2="1044.4658094100569" y2="1547.5569250408732" stroke="#aaa" stroke-width="1.6" />
<line x1="685.1791217916814" y1="1505.252830353766" x2="685.1791217916814" y2="1517.252830353766" stroke="#aaa" stroke-width="1.6" />
<line x1="532.9297970140408" y1="1525.5083917883867" x2="532.9297970140408" y2="1537.5083917883867" stroke="#aaa" stroke-width="1.6" />
<line x1="1512.1706693872977" y1="1514.7519312513443" x2="1512.1706693872977" y2="1526.7519312513443" stroke="#aaa" stroke-width="1.6" />
<line x1="1661.8950459716991" y1="1485.453468951835" x2="1661.8950459716991" y2="1497.453468951835" stroke="#aaa" stroke-width="1.6" />
<line x1="1418.64874446944" y1="1517.1637961128672" x2="1418.64874446944" y2="1529.1637961128672" stroke="#aaa" stroke-width="1.6" />
<line x1="1262.8585257813645" y1="1501.5512024370596" x2="1262.8585257813645" y2="1513.5512024370596" stroke="#aaa" stroke-width="1.6" />
<line x1="1613.956503691931" y1="1556.748963747197" x2="1613.956503691931" y2="1568.748963747197" stroke="#aaa" stroke-width="1.6" />
<line x1="1120.03275551652" y1="1525.0491992186383" x2="1120.03275551652" y2="1537.0491992186383" stroke="#aaa" stroke-width="1.6" />
<line x1="561.9037272562466" y1="1529.2685984073998" x2="561.9037272562466" y2="1541.2685984073998" stroke="#aaa" stroke-width="1.6" />
<line x1="1353.6239536123528" y1="1562.2198411597296" x2="1353.6239536123528" y2="1574.2198411597296" stroke="#aaa" stroke-width="1.6" />
<line x1="1589.598461923115" y1="1482.1592951266389" x2="1589.598461923115" y2="1494.1592951266389" stroke="#aaa" stroke-width="1.6" />
<line x1="1000.8184473030597" y1="1525.5577568949134" x2="1000.8184473030597" y2="1537.5577568949134" stroke="#aaa" stroke-width="1.6" />
<line x1="510.45995287504456" y1="1502.1715673518736" x2="510.45995287504456" y2="1514.1715673518736" stroke="#aaa" stroke-width="1.6" />
<line x1="706.8653115238351" y1="1463.2318247764358" x2="706.8653115238351" y2="1475.2318247764358" stroke="#aaa" stroke-width="1.6" />
<line x1="559.588466097269" y1="1536.8103276973948" x2="559.588466097269" y2="1548.8103276973948" stroke="#aaa" stroke-width="1.6" />
<line x1="654.6092997252238" y1="1477.9804762077513" x2="654.6092997252238" y2="1489.9804762077513" stroke="#aaa" stroke-width="1.6" />
<line x1="1007.7820992298565" y1="1548.4706830762718" x2="1007.7820992298565" y2="1560.4706830762718" stroke="#aaa" stroke-width="1.6" />
<line x1="588.7847566201872" y1="1500.7581763072744" x2="588.7847566201872" y2="1512.7581763072744" stroke="#aaa" stroke-width="1.6" />
<line x1="1221.7438773444505" y1="1549.822372387891" x2="1221.7438773444505" y2="1561.822372387891" stroke="#aaa" stroke-width="1.6" />
<line x1="1586.0277810782509" y1="1547.6302450759322" x2="1586.0277810782509" y2="1559.6302450759322" stroke="#aaa" stroke-width="1.6" />
<line x1="855.8684370937611" y1="1496.9285064449218" x2="855.8684370937611" y2="1508.9285064449218" stroke="#aaa" stroke-width="1.6" />
<line x1="964.3410731976935" y1="1549.9137894733985" x2="964.3410731976935" y2="1561.9137894733985" stroke="#aaa" stroke-width="1.6" />
<line x1="1772.9371253513882" y1="1467.0540623543952" x2="1772.9371253513882" y2="1479.0540623543952" stroke="#aaa" stroke-width="1.6" />
<line x1="717.893933462" y1="1476.2111259506075" x2="717.893933462" y2="1488.2111259506075" stroke="#aaa" stroke-width="1.6" />
<line x1="795.0037129691625" y1="1504.8007885285733" x2="795.0037129691625" y2="1516.8007885285733" stroke="#aaa" stroke-width="1.6" />
<line x1="1275.316730038545" y1="1479.690367980735" x2="1275.316730038545" y2="1491.690367980735" stroke="#aaa" stroke-width="1.6" />
<line x1="485.5263645698363" y1="1497.340954627162" x2="485.5263645698363" y2="1509.340954627162" stroke="#aaa" stroke-width="1.6" />
<line x1="978.4923234078792" y1="1513.9965582788222" x2="978.4923234078792" y2="1525.9965582788222" stroke="#aaa" stroke-width="1.6" />
<line x1="1766.6821994588786" y1="1528.0257832563655" x2="1766.6821994588786" y2="1540.0257832563655" stroke="#aaa" stroke-width="1.6" />
<line x1="1175.9134346455508" y1="1519.7879806832314" x2="1175.9134346455508" y2="1531.7879806832314" stroke="#aaa" stroke-width="1.6" />
<line x1="1392.8701113068269" y1="1456.1011969342883" x2="1392.8701113068269" y2="1468.1011969342883" stroke="#aaa" stroke-width="1.6" />
<line x1="1694.3695635782353" y1="1538.1365524497862" x2="1694.3695635782353" y2="1550.1365524497862" stroke="#aaa" stroke-width="1.6" />
<line x1="1660.5927985815433" y1="1540.1596626952119" x2="1660.5927985815433" y2="1552.1596626952119" stroke="#aaa" stroke-width="1.6" />
<line x1="1009.7115243032126" y1="1495.0846080521908" x2="1009.7115243032126" y2="1507.0846080521908" stroke="#aaa" stroke-width="1.6" />
<line x1="619.7750765089378" y1="1521.6747209224852" x2="619.7750765089378" y2="1533.6747209224852" stroke="#aaa" stroke-width="1.6" />
<line x1="564.0345591852282" y1="1457.6102805902617" x2="564.0345591852282" y2="1469.6102805902617" stroke="#aaa" stroke-width="1.6" />
<line x1="761.830300352322" y1="1468.340260218247" x2="761.830300352322" y2="1480.340260218247" stroke="#aaa" stroke-width="1.6" />
<line x1="939.0724305136637" y1="1455.9410432396003" x2="939.0724305136637" y2="1467.9410432396003" stroke="#aaa" stroke-width="1.6" />
<line x1="480.31493056683144" y1="1467.0929373475753" x2="480.31493056683144" y2="1479.0929373475753" stroke="#aaa" stroke-width="1.6" />
<line x1="616.9768968305053" y1="1491.0879211899064" x2="616.9768968305053" y2="1503.0879211899064" stroke="#aaa" stroke-width="1.6" />
<line x1="514.4261969992967" y1="1548.7995586432417" x2="514.4261969992967" y2="1560.7995586432417" stroke="#aaa" stroke-width="1.6" />
<line x1="1308.9931335144463" y1="1466.7862048423908" x2="1308.9931335144463" y2="1478.7862048423908" stroke="#aaa" stroke-width="1.6" />
<line x1="820.5479713520543" y1="1489.2550187040683" x2="820.5479713520543" y2="1501.2550187040683" stroke="#aaa" stroke-width="1.6" />
<line x1="971.6206433631813" y1="1463.881172076128" x2="971.6206433631813" y2="1475.881172076128" stroke="#aaa" stroke-width="1.6" />
<line x1="1626.06485075423" y1="1562.2206075526326" x2="1626.06485075423" y2="1574.2206075526326" stroke="#aaa" stroke-width="1.6" />
<line x1="1109.0857698659106" y1="1504.6733161750385" x2="1109.0857698659106" y2="1516.6733161750385" stroke="#aaa" stroke-width="1.6" />
<line x1="595.9442931008235" y1="1461.5472006925431" x2="595.9442931008235" y2="1473.5472006925431" stroke="#aaa" stroke-width="1.6" />
<line x1="942.5583816280525" y1="1479.9175287640414" x2="942.5583816280525" y2="1491.9175287640414" stroke="#aaa" stroke-width="1.6" />
<line x1="1598.9547604641066" y1="1468.2425629894867" x2="1598.9547604641066" y2="1480.2425629894867" stroke="#aaa" stroke-width="1.6" />
<line x1="511.179223411085" y1="1557.4613697348414" x2="511.179223411085" y2="1569.4613697348414" stroke="#aaa" stroke-width="1.6" />
<line x1="1193.1474833068685" y1="1466.5660868955972" x2="1193.1474833068685" y2="1478.5660868955972" stroke="#aaa" stroke-width="1.6" />
<line x1="1213.2827749408543" y1="1453.0558015307051" x2="1213.2827749408543" y2="1465.0558015307051" stroke="#aaa" stroke-width="1.6" />
<line x1="1192.9477452667138" y1="1560.570640427244" x2="1192.9477452667138" y2="1572.570640427244" stroke="#aaa" stroke-width="1.6" />
<line x1="1645.488790891053" y1="1528.6702368075817" x2="1645.488790891053" y2="1540.6702368075817" stroke="#aaa" stroke-width="1.6" />
<line x1="832.5055162596386" y1="1491.4370764690132" x2="832.5055162596386" y2="1503.4370764690132" stroke="#aaa" stroke-width="1.6" />
<line x1="705.5067466213541" y1="1537.2289836494294" x2="705.5067466213541" y2="1549.2289836494294" stroke="#aaa" stroke-width="1.6" />
<line x1="1198.9997366153866" y1="1538.033202721214" x2="1198.9997366153866" y2="1550.033202721214" stroke="#aaa" stroke-width="1.6" />
<line x1="925.0477433144792" y1="1475.20370906066" x2="925.0477433144792" y2="1487.20370906066" stroke="#aaa" stroke-width="1.6" />
<line x1="1575.5401831443533" y1="1561.2966437167706" x2="1575.5401831443533" y2="1573.2966437167706" stroke="#aaa" stroke-width="1.6" />
<line x1="1631.0488783079918" y1="1541.0868800807805" x2="1631.0488783079918" y2="1553.0868800807805" stroke="#aaa" stroke-width="1.6" />
<line x1="1584.749473489254" y1="1533.6056513024557" x2="1584.749473489254" y2="1545.6056513024557" stroke="#aaa" stroke-width="1.6" />
<line x1="786.0983115426395" y1="1508.4931758395162" x2="786.0983115426395" y2="1520.4931758395162" stroke="#aaa" stroke-width="1.6" />
<line x1="960.0094335291935" y1="1453.2747570337742" x2="960.0094335291935" y2="1465.2747570337742" stroke="#aaa" stroke-width="1.6" />
<line x1="517.715051819787" y1="1481.5742949125404" x2="517.715051819787" y2="1493.5742949125404" stroke="#aaa" stroke-width="1.6" />
<line x1="829.8853904114713" y1="1528.254979412114" x2="829.8853904114713" y2="1540.254979412114" stroke="#aaa" stroke-width="1.6" />
<line x1="1771.295353060806" y1="1500.5367275876397" x2="1771.295353060806" y2="1512.5367275876397" stroke="#aaa" stroke-width="1.6" />
<line x1="1744.978621722927" y1="1561.6483005769232" x2="1744.978621722927" y2="1573.6483005769232" stroke="#aaa" stroke-width="1.6" />
<line x1="1769.2508522837998" y1="1491.2038550458908" x2="1769.2508522837998" y2="1503.2038550458908" stroke="#aaa" stroke-width="1.6" />
<line x1="777.6241360449205" y1="1475.6335784205723" x2="777.6241360449205" y2="1487.6335784205723" stroke="#aaa" stroke-width="1.6" />
<line x1="745.5533206160783" y1="1473.0941900502132" x2="745.5533206160783" y2="1485.0941900502132" stroke="#aaa" stroke-width="1.6" />
<line x1="1322.4896365410546" y1="1551.734842180905" x2="1322.4896365410546" y2="1563.734842180905" stroke="#aaa" stroke-width="1.6" />
<line x1="1614.5879618270412" y1="1504.1804971675538" x2="1614.5879618270412" y2="1516.1804971675538" stroke="#aaa" stroke-width="1.6" />
<line x1="1361.5203578353621" y1="1540.3597431680116" x2="1361.5203578353621" y2="1552.3597431680116" stroke="#aaa" stroke-width="1.6" />
<line x1="594.4509567080131" y1="1524.646178473153" x2="594.4509567080131" y2="1536.646178473153" stroke="#aaa" stroke-width="1.6" />
<line x1="1708.199135694826" y1="1538.4002259030842" x2="1708.199135694826" y2="1550.4002259030842" stroke="#aaa" stroke-width="1.6" />
<line x1="1492.6896207711188" y1="1504.017700139122" x2="1492.6896207711188" y2="1516.017700139122" stroke="#aaa" stroke-width="1.6" />
<line x1="721.0043197557243" y1="1539.1723037052911" x2="721.0043197557243" y2="1551.1723037052911" stroke="#aaa" stroke-width="1.6" />
<line x1="928.8982198172234" y1="1540.4930632853261" x2="928.8982198172234" y2="1552.4930632853261" stroke="#aaa" stroke-width="1.6" />
<line x1="1791.7373401259138" y1="1494.7297499428475" x2="1791.7373401259138" y2="1506.7297499428475" stroke="#aaa" stroke-width="1.6" />
<line x1="1021.872204121397" y1="1556.988061730533" x2="1021.872204121397" y2="1568.988061730533" stroke="#aaa" stroke-width="1.6" />
<line x1="1458.4781986061907" y1="1469.2104135768243" x2="1458.4781986061907" y2="1481.2104135768243" stroke="#aaa" stroke-width="1.6" />
<line x1="651.5017958521169" y1="1467.0800291431083" x2="651.5017958521169" y2="1479.0800291431083" stroke="#aaa" stroke-width="1.6" />
<line x1="1701.550329239873" y1="1541.1347239696381" x2="1701.550329239873" y2="1553.1347239696381" stroke="#aaa" stroke-width="1.6" />
<line x1="677.3353168042302" y1="1543.3956840733688" x2="677.3353168042302" y2="1555.3956840733688" stroke="#aaa" stroke-width="1.6" />
<line x1="1803.413023653491" y1="1524.2713170791703" x2="1803.413023653491" y2="1536.2713170791703" stroke="#aaa" stroke-width="1.6" />
<line x1="953.0501414126288" y1="1511.998584970506" x2="953.0501414126288" y2="1523.998584970506" stroke="#aaa" stroke-width="1.6" />
<line x1="656.828200212758" y1="1451.6094520116399" x2="656.828200212758" y2="1463.6094520116399" stroke="#aaa" stroke-width="1.6" />
<line x1="1790.701739270982" y1="1523.413237673143" x2="1790.701739270982" y2="1535.413237673143" stroke="#aaa" stroke-width="1.6" />
<line x1="1190.8844135837248" y1="1555.4996029714891" x2="1190.8844135837248" y2="1567.4996029714891" stroke="#aaa" stroke-width="1.6" />
<line x1="1065.6427396226056" y1="1548.5069508628026" x2="1065.6427396226056" y2="1560.5069508628026" stroke="#aaa" stroke-width="1.6" />
<line x1="1595.3095899505486" y1="1473.8477841180809" x2="1595.3095899505486" y2="1485.8477841180809" stroke="#aaa" stroke-width="1.6" />
<line x1="819.9769953433627" y1="1483.1052317517347" x2="819.9769953433627" y2="1495.1052317517347" stroke="#aaa" stroke-width="1.6" />
<line x1="804.7281799537516" y1="1516.2674000027537" x2="804.7281799537516" y2="1528.2674000027537" stroke="#aaa" stroke-width="1.6" />
<line x1="830.1424736147837" y1="1497.3484184612635" x2="830.1424736147837" y2="1509.3484184612635" stroke="#aaa" stroke-width="1.6" />
<line x1="656.9494632797025" y1="1552.831927363658" x2="656.9494632797025" y2="1564.831927363658" stroke="#aaa" stroke-width="1.6" />
<line x1="957.6084323368996" y1="1501.7721914713059" x2="957.6084323368996" y2="1513.7721914713059" stroke="#aaa" stroke-width="1.6" />
<line x1="1267.5208422564974" y1="1552.1855355232506" x2="1267.5208422564974" y2="1564.1855355232506" stroke="#aaa" stroke-width="1.6" />
<line x1="1047.8481654572379" y1="1553.702482530721" x2="1047.8481654572379" y2="1565.702482530721" stroke="#aaa" stroke-width="1.6" />
<line x1="1157.2260705123126" y1="1510.0962207552604" x2="1157.2260705123126" y2="1522.0962207552604" stroke="#aaa" stroke-width="1.6" />
<line x1="1186.7338905426745" y1="1452.1136500733126" x2="1186.7338905426745" y2="1464.1136500733126" stroke="#aaa" stroke-width="1.6" />
<line x1="1074.1686317196736" y1="1470.6911912617584" x2="1074.1686317196736" y2="1482.6911912617584" stroke="#aaa" stroke-width="1.6" />
<line x1="485.3088504646167" y1="1540.306260905621" x2="485.3088504646167" y2="1552.306260905621" stroke="#aaa" stroke-width="1.6" />
<line x1="712.668061488156" y1="1503.504701368201" x2="712.668061488156" y2="1515.504701368201" stroke="#aaa" stroke-width="1.6" />
<line x1="264.7" y1="1470.7" x2="264.7" y2="1480.7" stroke="#1fb0e0" stroke-width="4.6" />
<line x1="264.7" y1="1509.7" x2="264.7" y2="1519.7" stroke="#1fb0e0" stroke-width="4.6" />
<line x1="264.7" y1="1540.2" x2="264.7" y2="1550.2" stroke="#1fb0e0" stroke-width="4.6" />
<line x1="293.5" y1="1470.7" x2="293.5" y2="1480.7" stroke="#1fb0e0" stroke-width="4.6" />
<line x1="293.5" y1="1509.7" x2="293.5" y2="1519.7" stroke="#1fb0e0" stroke-width="4.6" />
<line x1="293.5" y1="1540.2" x2="293.5" y2="1550.2" stroke="#1fb0e0" stroke-width="4.6" />
<line x1="361" y1="1469" x2="361" y2="1479" stroke="#1fb0e0" stroke-width="4.6" />
<line x1="361" y1="1518" x2="361" y2="1528" stroke="#1fb0e0" stroke-width="4.6" />
<line x1="361" y1="1560.5" x2="361" y2="1570.5" stroke="#1fb0e0" stroke-width="4.6" />
<line x1="416" y1="1470.7" x2="416" y2="1480.7" stroke="#1fb0e0" stroke-width="4.6" />
<line x1="416" y1="1518.8" x2="416" y2="1528.8" stroke="#1fb0e0" stroke-width="4.6" />
<line x1="416" y1="1560.5" x2="416" y2="1570.5" stroke="#1fb0e0" stroke-width="4.6" />
<line x1="446" y1="1474" x2="446" y2="1484" stroke="#1fb0e0" stroke-width="4.6" />
<line x1="446" y1="1521.5" x2="446" y2="1531.5" stroke="#1fb0e0" stroke-width="4.6" />
<line x1="446" y1="1565.6" x2="446" y2="1575.6" stroke="#1fb0e0" stroke-width="4.6" />
<line x1="274" y1="1464" x2="274" y2="1472" stroke="#9cd8ee" stroke-width="3" />
<line x1="274" y1="1496" x2="274" y2="1504" stroke="#9cd8ee" stroke-width="3" />
<line x1="274" y1="1554" x2="274" y2="1562" stroke="#9cd8ee" stroke-width="3" />
<line x1="425" y1="1501" x2="425" y2="1509" stroke="#9cd8ee" stroke-width="3" />
<line x1="425" y1="1544" x2="425" y2="1552" stroke="#9cd8ee" stroke-width="3" />
<line x1="452" y1="1458" x2="452" y2="1466" stroke="#9cd8ee" stroke-width="3" />
<line x1="452" y1="1514" x2="452" y2="1522" stroke="#9cd8ee" stroke-width="3" />
<circle cx="258" cy="1488" r="4.1" fill="#0a0a0a"/>
<circle cx="258" cy="1530" r="4.1" fill="#0a0a0a"/>
<circle cx="258" cy="1566" r="4.1" fill="#0a0a0a"/>
<circle cx="326" cy="1530" r="4.1" fill="#0a0a0a"/>
<circle cx="352" cy="1480" r="4.1" fill="#0a0a0a"/>
<circle cx="352" cy="1519" r="4.1" fill="#0a0a0a"/>
<circle cx="398" cy="1566" r="4.1" fill="#0a0a0a"/>
<circle cx="401" cy="1490" r="4.1" fill="#0a0a0a"/>
<circle cx="406" cy="1540" r="4.1" fill="#0a0a0a"/>
<circle cx="468" cy="1480" r="4.1" fill="#0a0a0a"/>
<circle cx="465" cy="1543" r="4.1" fill="#0a0a0a"/>
<circle cx="497" cy="1505" r="4.1" fill="#0a0a0a"/>
<circle cx="497" cy="1570" r="4.1" fill="#0a0a0a"/>
<circle cx="553" cy="1475" r="4.1" fill="#0a0a0a"/>
<circle cx="553" cy="1505" r="4.1" fill="#0a0a0a"/>
<circle cx="553" cy="1530" r="4.1" fill="#0a0a0a"/>
<circle cx="553" cy="1545" r="4.1" fill="#0a0a0a"/>
<circle cx="553" cy="1563" r="4.1" fill="#0a0a0a"/>
<circle cx="608" cy="1490" r="4.1" fill="#0a0a0a"/>
<circle cx="654" cy="1468" r="4.1" fill="#0a0a0a"/>
<circle cx="654" cy="1520" r="4.1" fill="#0a0a0a"/>
<circle cx="666" cy="1490" r="4.1" fill="#0a0a0a"/>
<circle cx="666" cy="1543" r="4.1" fill="#0a0a0a"/>
<circle cx="724" cy="1460" r="4.1" fill="#0a0a0a"/>
<circle cx="724" cy="1495" r="4.1" fill="#0a0a0a"/>
<circle cx="724" cy="1530" r="4.1" fill="#0a0a0a"/>
<circle cx="724" cy="1556" r="4.1" fill="#0a0a0a"/>
<circle cx="757" cy="1463" r="4.1" fill="#0a0a0a"/>
<circle cx="770" cy="1473" r="4.1" fill="#0a0a0a"/>
<circle cx="757" cy="1505" r="4.1" fill="#0a0a0a"/>
<circle cx="770" cy="1515" r="4.1" fill="#0a0a0a"/>
<circle cx="757" cy="1527" r="4.1" fill="#0a0a0a"/>
<circle cx="770" cy="1540" r="4.1" fill="#0a0a0a"/>
<circle cx="757" cy="1548" r="4.1" fill="#0a0a0a"/>
<circle cx="770" cy="1557" r="4.1" fill="#0a0a0a"/>
<circle cx="803" cy="1503" r="4.1" fill="#0a0a0a"/>
<circle cx="803" cy="1556" r="4.1" fill="#0a0a0a"/>
<circle cx="833" cy="1478" r="4.1" fill="#0a0a0a"/>
<circle cx="838" cy="1553" r="4.1" fill="#0a0a0a"/>
<circle cx="869" cy="1458" r="4.1" fill="#0a0a0a"/>
<circle cx="885" cy="1483" r="4.1" fill="#0a0a0a"/>
<circle cx="871" cy="1530" r="4.1" fill="#0a0a0a"/>
<circle cx="890" cy="1551" r="4.1" fill="#0a0a0a"/>
<circle cx="944" cy="1486" r="4.1" fill="#0a0a0a"/>
<circle cx="956" cy="1475" r="4.1" fill="#0a0a0a"/>
<circle cx="954" cy="1510" r="4.1" fill="#0a0a0a"/>
<circle cx="968" cy="1497" r="4.1" fill="#0a0a0a"/>
<circle cx="968" cy="1522" r="4.1" fill="#0a0a0a"/>
<circle cx="944" cy="1540" r="4.1" fill="#0a0a0a"/>
<circle cx="967" cy="1553" r="4.1" fill="#0a0a0a"/>
<circle cx="955" cy="1571" r="4.1" fill="#0a0a0a"/>
<circle cx="990" cy="1556" r="4.1" fill="#0a0a0a"/>
<circle cx="1040" cy="1556" r="4.1" fill="#0a0a0a"/>
<circle cx="1070" cy="1465" r="4.1" fill="#0a0a0a"/>
<circle cx="1040" cy="1503" r="4.1" fill="#0a0a0a"/>
<circle cx="1071" cy="1528" r="4.1" fill="#0a0a0a"/>
<circle cx="1070" cy="1573" r="4.1" fill="#0a0a0a"/>
<circle cx="1112" cy="1498" r="4.1" fill="#0a0a0a"/>
<circle cx="1233" cy="1498" r="4.1" fill="#0a0a0a"/>
<circle cx="1233" cy="1572" r="4.1" fill="#0a0a0a"/>
<circle cx="1325" cy="1455" r="4.1" fill="#0a0a0a"/>
<circle cx="1332" cy="1476" r="4.1" fill="#0a0a0a"/>
<circle cx="1325" cy="1513" r="4.1" fill="#0a0a0a"/>
<circle cx="1332" cy="1543" r="4.1" fill="#0a0a0a"/>
<circle cx="1325" cy="1560" r="4.1" fill="#0a0a0a"/>
<circle cx="1334" cy="1576" r="4.1" fill="#0a0a0a"/>
<circle cx="1292" cy="1470" r="4.1" fill="#0a0a0a"/>
<circle cx="1361" cy="1553" r="4.1" fill="#0a0a0a"/>
<circle cx="1422" cy="1511" r="4.1" fill="#0a0a0a"/>
<circle cx="1390" cy="1558" r="4.1" fill="#0a0a0a"/>
<circle cx="1482" cy="1468" r="4.1" fill="#0a0a0a"/>
<circle cx="1497" cy="1480" r="4.1" fill="#0a0a0a"/>
<circle cx="1482" cy="1517" r="4.1" fill="#0a0a0a"/>
<circle cx="1497" cy="1530" r="4.1" fill="#0a0a0a"/>
<circle cx="1482" cy="1566" r="4.1" fill="#0a0a0a"/>
<circle cx="1558" cy="1501" r="4.1" fill="#0a0a0a"/>
<circle cx="1558" cy="1558" r="4.1" fill="#0a0a0a"/>
<circle cx="1650" cy="1465" r="4.7" fill="#0a0a0a"/>
<circle cx="1652" cy="1548" r="4.7" fill="#0a0a0a"/>
<circle cx="1710" cy="1462" r="4.7" fill="#0a0a0a"/>
<circle cx="1724" cy="1457" r="4.7" fill="#0a0a0a"/>
<circle cx="1712" cy="1487" r="4.7" fill="#0a0a0a"/>
<circle cx="1726" cy="1480" r="4.7" fill="#0a0a0a"/>
<circle cx="1698" cy="1526" r="4.7" fill="#0a0a0a"/>
<circle cx="1710" cy="1513" r="4.7" fill="#0a0a0a"/>
<circle cx="1725" cy="1503" r="4.7" fill="#0a0a0a"/>
<circle cx="1712" cy="1540" r="4.7" fill="#0a0a0a"/>
<circle cx="1698" cy="1557" r="4.7" fill="#0a0a0a"/>
<circle cx="1725" cy="1530" r="4.7" fill="#0a0a0a"/>
<circle cx="1724" cy="1563" r="4.7" fill="#0a0a0a"/>
<circle cx="1745" cy="1528" r="4.7" fill="#0a0a0a"/>
<circle cx="1750" cy="1566" r="4.7" fill="#0a0a0a"/>
<circle cx="1766" cy="1466" r="4.7" fill="#0a0a0a"/>
<circle cx="1767" cy="1507" r="4.7" fill="#0a0a0a"/>
<circle cx="1765" cy="1552" r="4.7" fill="#0a0a0a"/>
<circle cx="1787" cy="1462" r="4.7" fill="#0a0a0a"/>
<circle cx="1801" cy="1456" r="4.7" fill="#0a0a0a"/>
<circle cx="1788" cy="1490" r="4.7" fill="#0a0a0a"/>
<circle cx="1802" cy="1478" r="4.7" fill="#0a0a0a"/>
<circle cx="1787" cy="1514" r="4.7" fill="#0a0a0a"/>
<circle cx="1802" cy="1502" r="4.7" fill="#0a0a0a"/>
<circle cx="1788" cy="1541" r="4.7" fill="#0a0a0a"/>
<circle cx="1802" cy="1530" r="4.7" fill="#0a0a0a"/>
<circle cx="1801" cy="1561" r="4.7" fill="#0a0a0a"/>
<circle cx="1818" cy="1468" r="4.7" fill="#0a0a0a"/>
<circle cx="1818" cy="1495" r="4.7" fill="#0a0a0a"/>
<circle cx="1818" cy="1525" r="4.7" fill="#0a0a0a"/>
<circle cx="1819" cy="1557" r="4.7" fill="#0a0a0a"/>
<circle cx="1795" cy="1438" r="4.7" fill="#0a0a0a"/>
<rect x="190" y="3186" width="1366" height="87" fill="#dcd87b" stroke="none" stroke-width="0" />
<rect x="207.1" y="3186" width="4.6" height="87" fill="#6bd19b" stroke="none" stroke-width="0" />
<rect x="218.7" y="3186" width="3.2" height="87" fill="#6bd19b" stroke="none" stroke-width="0" />
<rect x="232.7" y="3186" width="3.2" height="87" fill="#6bd19b" stroke="none" stroke-width="0" />
<rect x="244.3" y="3186" width="4.6" height="87" fill="#6bd19b" stroke="none" stroke-width="0" />
<rect x="258.2" y="3186" width="4.6" height="87" fill="#6bd19b" stroke="none" stroke-width="0" />
<rect x="274.5" y="3186" width="3.2" height="87" fill="#6bd19b" stroke="none" stroke-width="0" />
<rect x="286.1" y="3186" width="16.2" height="87" fill="#6bd19b" stroke="none" stroke-width="0" />
<rect x="309.3" y="3186" width="8.4" height="87" fill="#6bd19b" stroke="none" stroke-width="0" />
<rect x="339.5" y="3186" width="11.6" height="87" fill="#6bd19b" stroke="none" stroke-width="0" />
<rect x="359.4" y="3186" width="3.2" height="87" fill="#6bd19b" stroke="none" stroke-width="0" />
<rect x="385.9" y="3186" width="4.6" height="87" fill="#6bd19b" stroke="none" stroke-width="0" />
<rect x="411.4" y="3186" width="9.3" height="87" fill="#6bd19b" stroke="none" stroke-width="0" />
<rect x="427.7" y="3186" width="4.6" height="87" fill="#6bd19b" stroke="none" stroke-width="0" />
<rect x="448.6" y="3186" width="2.3" height="87" fill="#6bd19b" stroke="none" stroke-width="0" />
<rect x="476.4" y="3186" width="11.6" height="87" fill="#6bd19b" stroke="none" stroke-width="0" />
<rect x="506.6" y="3186" width="18.6" height="87" fill="#6bd19b" stroke="none" stroke-width="0" />
<rect x="534.4" y="3186" width="9.3" height="87" fill="#6bd19b" stroke="none" stroke-width="0" />
<rect x="560.0" y="3186" width="18.6" height="87" fill="#6bd19b" stroke="none" stroke-width="0" />
<rect x="594.8" y="3186" width="41.8" height="87" fill="#6bd19b" stroke="none" stroke-width="0" />
<rect x="655.1" y="3186" width="53.4" height="87" fill="#6bd19b" stroke="none" stroke-width="0" />
<rect x="709" y="3186" width="2.5" height="87" fill="#f08a3c" stroke="none" stroke-width="0" />
<rect x="719.5" y="3186" width="2" height="87" fill="#f0a050" stroke="none" stroke-width="0" />
<rect x="724.5" y="3186" width="52.5" height="87" fill="#ff3a3a" stroke="none" stroke-width="0" />
<rect x="997.4" y="3186" width="5.2" height="87" fill="#62d2a0" stroke="none" stroke-width="0" />
<rect x="1093.9" y="3186" width="5.2" height="87" fill="#62d2a0" stroke="none" stroke-width="0" />
<rect x="1229.9" y="3186" width="5.2" height="87" fill="#62d2a0" stroke="none" stroke-width="0" />
<rect x="1378.4" y="3186" width="5.2" height="87" fill="#62d2a0" stroke="none" stroke-width="0" />
<rect x="1403.9" y="3186" width="5.2" height="87" fill="#62d2a0" stroke="none" stroke-width="0" />
<rect x="1511.4" y="3186" width="5.2" height="87" fill="#62d2a0" stroke="none" stroke-width="0" />
<rect x="707.5" y="2267" width="10" height="52" fill="#e0301e" stroke="#9a8a80" stroke-width="1.5" />
<rect x="720" y="2267" width="5" height="52" fill="#c9c9c9" stroke="none" stroke-width="0" />
<rect x="727" y="2267" width="20" height="52" fill="#f01818" stroke="none" stroke-width="0" />
<line x1="188.1" y1="4036" x2="188.1" y2="4121" stroke="#0c0c0c" stroke-width="3.2" />
<line x1="207.6" y1="4036" x2="207.6" y2="4121" stroke="#0c0c0c" stroke-width="3.2" />
<line x1="188.1" y1="4062.4" x2="207.6" y2="4062.4" stroke="#0c0c0c" stroke-width="2.8" />
<line x1="188.1" y1="4099.2" x2="207.6" y2="4099.2" stroke="#0c0c0c" stroke-width="2.8" />
<line x1="207.6" y1="4036" x2="207.6" y2="4121" stroke="#0c0c0c" stroke-width="3.2" />
<line x1="230.8" y1="4036" x2="230.8" y2="4121" stroke="#0c0c0c" stroke-width="3.2" />
<line x1="207.6" y1="4079.0" x2="230.8" y2="4079.0" stroke="#0c0c0c" stroke-width="2.8" />
<line x1="230.8" y1="4036" x2="230.8" y2="4121" stroke="#0c0c0c" stroke-width="3.2" />
<line x1="255.5" y1="4036" x2="255.5" y2="4121" stroke="#0c0c0c" stroke-width="3.2" />
<line x1="230.8" y1="4049.5" x2="255.5" y2="4049.5" stroke="#0c0c0c" stroke-width="2.8" />
<line x1="230.8" y1="4110.3" x2="255.5" y2="4110.3" stroke="#0c0c0c" stroke-width="2.8" />
<line x1="255.5" y1="4036" x2="255.5" y2="4121" stroke="#0c0c0c" stroke-width="3.2" />
<line x1="277.6" y1="4036" x2="277.6" y2="4121" stroke="#0c0c0c" stroke-width="3.2" />
<line x1="255.5" y1="4067.9" x2="277.6" y2="4067.9" stroke="#0c0c0c" stroke-width="2.8" />
<line x1="277.6" y1="4036" x2="277.6" y2="4121" stroke="#0c0c0c" stroke-width="3.2" />
<line x1="300.9" y1="4036" x2="300.9" y2="4121" stroke="#0c0c0c" stroke-width="3.2" />
<line x1="277.6" y1="4042.8" x2="300.9" y2="4042.8" stroke="#0c0c0c" stroke-width="2.8" />
<line x1="277.6" y1="4088.2" x2="300.9" y2="4088.2" stroke="#0c0c0c" stroke-width="2.8" />
<line x1="300.9" y1="4036" x2="300.9" y2="4121" stroke="#0c0c0c" stroke-width="3.2" />
<line x1="323.7" y1="4036" x2="323.7" y2="4121" stroke="#0c0c0c" stroke-width="3.2" />
<line x1="300.9" y1="4064.2" x2="323.7" y2="4064.2" stroke="#0c0c0c" stroke-width="2.8" />
<line x1="300.9" y1="4106.6" x2="323.7" y2="4106.6" stroke="#0c0c0c" stroke-width="2.8" />
<line x1="323.7" y1="4036" x2="323.7" y2="4121" stroke="#0c0c0c" stroke-width="3.2" />
<line x1="345.8" y1="4036" x2="345.8" y2="4121" stroke="#0c0c0c" stroke-width="3.2" />
<line x1="323.7" y1="4042.8" x2="345.8" y2="4042.8" stroke="#0c0c0c" stroke-width="2.8" />
<line x1="323.7" y1="4082.6" x2="345.8" y2="4082.6" stroke="#0c0c0c" stroke-width="2.8" />
<line x1="323.7" y1="4116.5" x2="345.8" y2="4116.5" stroke="#0c0c0c" stroke-width="2.8" />
<line x1="345.8" y1="4036" x2="345.8" y2="4121" stroke="#0c0c0c" stroke-width="3.2" />
<line x1="369.8" y1="4036" x2="369.8" y2="4121" stroke="#0c0c0c" stroke-width="3.2" />
<line x1="345.8" y1="4058.7" x2="369.8" y2="4058.7" stroke="#0c0c0c" stroke-width="2.8" />
<line x1="345.8" y1="4095.5" x2="369.8" y2="4095.5" stroke="#0c0c0c" stroke-width="2.8" />
<line x1="369.8" y1="4036" x2="369.8" y2="4121" stroke="#0c0c0c" stroke-width="3.2" />
<line x1="391.9" y1="4036" x2="391.9" y2="4121" stroke="#0c0c0c" stroke-width="3.2" />
<line x1="369.8" y1="4043.9" x2="391.9" y2="4043.9" stroke="#0c0c0c" stroke-width="2.8" />
<line x1="369.8" y1="4069.7" x2="391.9" y2="4069.7" stroke="#0c0c0c" stroke-width="2.8" />
<line x1="369.8" y1="4106.6" x2="391.9" y2="4106.6" stroke="#0c0c0c" stroke-width="2.8" />
<line x1="391.9" y1="4036" x2="391.9" y2="4121" stroke="#0c0c0c" stroke-width="3.2" />
<line x1="412.9" y1="4036" x2="412.9" y2="4121" stroke="#0c0c0c" stroke-width="3.2" />
<line x1="391.9" y1="4049.5" x2="412.9" y2="4049.5" stroke="#0c0c0c" stroke-width="2.8" />
<line x1="391.9" y1="4084.5" x2="412.9" y2="4084.5" stroke="#0c0c0c" stroke-width="2.8" />
<line x1="412.9" y1="4036" x2="412.9" y2="4121" stroke="#0c0c0c" stroke-width="3.2" />
<line x1="427.6" y1="4036" x2="427.6" y2="4121" stroke="#0c0c0c" stroke-width="3.2" />
<line x1="412.9" y1="4058.7" x2="427.6" y2="4058.7" stroke="#0c0c0c" stroke-width="2.8" />
<line x1="412.9" y1="4097.4" x2="427.6" y2="4097.4" stroke="#0c0c0c" stroke-width="2.8" />
<line x1="472.9" y1="4036" x2="472.9" y2="4121" stroke="#0c0c0c" stroke-width="3.2" />
<line x1="497.6" y1="4036" x2="497.6" y2="4121" stroke="#0c0c0c" stroke-width="3.2" />
<line x1="497.6" y1="4036" x2="497.6" y2="4121" stroke="#0c0c0c" stroke-width="3.2" />
<line x1="520.8" y1="4036" x2="520.8" y2="4121" stroke="#0c0c0c" stroke-width="3.2" />
<line x1="497.6" y1="4077.1" x2="520.8" y2="4077.1" stroke="#0c0c0c" stroke-width="2.8" />
<line x1="520.8" y1="4036" x2="520.8" y2="4121" stroke="#0c0c0c" stroke-width="3.2" />
<line x1="544.8" y1="4036" x2="544.8" y2="4121" stroke="#0c0c0c" stroke-width="3.2" />
<line x1="520.8" y1="4047.6" x2="544.8" y2="4047.6" stroke="#0c0c0c" stroke-width="2.8" />
<line x1="544.8" y1="4036" x2="544.8" y2="4121" stroke="#0c0c0c" stroke-width="3.2" />
<line x1="568.7" y1="4036" x2="568.7" y2="4121" stroke="#0c0c0c" stroke-width="3.2" />
<line x1="544.8" y1="4077.1" x2="568.7" y2="4077.1" stroke="#0c0c0c" stroke-width="2.8" />
<line x1="568.7" y1="4036" x2="568.7" y2="4121" stroke="#0c0c0c" stroke-width="3.2" />
<line x1="596.4" y1="4036" x2="596.4" y2="4121" stroke="#0c0c0c" stroke-width="3.2" />
<line x1="568.7" y1="4047.6" x2="596.4" y2="4047.6" stroke="#0c0c0c" stroke-width="2.8" />
<line x1="630.2" y1="4036" x2="630.2" y2="4121" stroke="#0c0c0c" stroke-width="3.2" />
<line x1="653.4" y1="4036" x2="653.4" y2="4121" stroke="#0c0c0c" stroke-width="3.2" />
<line x1="630.2" y1="4060.5" x2="653.4" y2="4060.5" stroke="#0c0c0c" stroke-width="2.8" />
<line x1="630.2" y1="4099.2" x2="653.4" y2="4099.2" stroke="#0c0c0c" stroke-width="2.8" />
<line x1="653.4" y1="4036" x2="653.4" y2="4121" stroke="#0c0c0c" stroke-width="3.2" />
<line x1="676.6" y1="4036" x2="676.6" y2="4121" stroke="#0c0c0c" stroke-width="3.2" />
<line x1="653.4" y1="4079.0" x2="676.6" y2="4079.0" stroke="#0c0c0c" stroke-width="2.8" />
<line x1="676.6" y1="4036" x2="676.6" y2="4121" stroke="#0c0c0c" stroke-width="3.2" />
<line x1="699.5" y1="4036" x2="699.5" y2="4121" stroke="#0c0c0c" stroke-width="3.2" />
<line x1="676.6" y1="4049.5" x2="699.5" y2="4049.5" stroke="#0c0c0c" stroke-width="2.8" />
<line x1="676.6" y1="4108.4" x2="699.5" y2="4108.4" stroke="#0c0c0c" stroke-width="2.8" />
<line x1="699.5" y1="4036" x2="699.5" y2="4121" stroke="#0c0c0c" stroke-width="3.2" />
<line x1="723.4" y1="4036" x2="723.4" y2="4121" stroke="#0c0c0c" stroke-width="3.2" />
<line x1="699.5" y1="4067.9" x2="723.4" y2="4067.9" stroke="#0c0c0c" stroke-width="2.8" />
<line x1="723.4" y1="4036" x2="723.4" y2="4121" stroke="#0c0c0c" stroke-width="3.2" />
<line x1="746.3" y1="4036" x2="746.3" y2="4121" stroke="#0c0c0c" stroke-width="3.2" />
<line x1="723.4" y1="4042.8" x2="746.3" y2="4042.8" stroke="#0c0c0c" stroke-width="2.8" />
<line x1="723.4" y1="4088.2" x2="746.3" y2="4088.2" stroke="#0c0c0c" stroke-width="2.8" />
<line x1="746.3" y1="4036" x2="746.3" y2="4121" stroke="#0c0c0c" stroke-width="3.2" />
<line x1="769.5" y1="4036" x2="769.5" y2="4121" stroke="#0c0c0c" stroke-width="3.2" />
<line x1="746.3" y1="4062.4" x2="769.5" y2="4062.4" stroke="#0c0c0c" stroke-width="2.8" />
<line x1="746.3" y1="4106.6" x2="769.5" y2="4106.6" stroke="#0c0c0c" stroke-width="2.8" />
<line x1="769.5" y1="4036" x2="769.5" y2="4121" stroke="#0c0c0c" stroke-width="3.2" />
<line x1="791.6" y1="4036" x2="791.6" y2="4121" stroke="#0c0c0c" stroke-width="3.2" />
<line x1="769.5" y1="4042.8" x2="791.6" y2="4042.8" stroke="#0c0c0c" stroke-width="2.8" />
<line x1="769.5" y1="4080.8" x2="791.6" y2="4080.8" stroke="#0c0c0c" stroke-width="2.8" />
<line x1="769.5" y1="4116.5" x2="791.6" y2="4116.5" stroke="#0c0c0c" stroke-width="2.8" />
<line x1="791.6" y1="4036" x2="791.6" y2="4121" stroke="#0c0c0c" stroke-width="3.2" />
<line x1="814.4" y1="4036" x2="814.4" y2="4121" stroke="#0c0c0c" stroke-width="3.2" />
<line x1="791.6" y1="4056.8" x2="814.4" y2="4056.8" stroke="#0c0c0c" stroke-width="2.8" />
<line x1="791.6" y1="4095.5" x2="814.4" y2="4095.5" stroke="#0c0c0c" stroke-width="2.8" />
<line x1="814.4" y1="4036" x2="814.4" y2="4121" stroke="#0c0c0c" stroke-width="3.2" />
<line x1="835.8" y1="4036" x2="835.8" y2="4121" stroke="#0c0c0c" stroke-width="3.2" />
<line x1="814.4" y1="4042.8" x2="835.8" y2="4042.8" stroke="#0c0c0c" stroke-width="2.8" />
<line x1="814.4" y1="4067.9" x2="835.8" y2="4067.9" stroke="#0c0c0c" stroke-width="2.8" />
<line x1="814.4" y1="4106.6" x2="835.8" y2="4106.6" stroke="#0c0c0c" stroke-width="2.8" />
<line x1="835.8" y1="4036" x2="835.8" y2="4121" stroke="#0c0c0c" stroke-width="3.2" />
<line x1="857.9" y1="4036" x2="857.9" y2="4121" stroke="#0c0c0c" stroke-width="3.2" />
<line x1="835.8" y1="4049.5" x2="857.9" y2="4049.5" stroke="#0c0c0c" stroke-width="2.8" />
<line x1="835.8" y1="4082.6" x2="857.9" y2="4082.6" stroke="#0c0c0c" stroke-width="2.8" />
<line x1="857.9" y1="4036" x2="857.9" y2="4121" stroke="#0c0c0c" stroke-width="3.2" />
<line x1="872.7" y1="4036" x2="872.7" y2="4121" stroke="#0c0c0c" stroke-width="3.2" />
<line x1="857.9" y1="4056.8" x2="872.7" y2="4056.8" stroke="#0c0c0c" stroke-width="2.8" />
<line x1="857.9" y1="4095.5" x2="872.7" y2="4095.5" stroke="#0c0c0c" stroke-width="2.8" />
<line x1="872.7" y1="4036" x2="872.7" y2="4121" stroke="#0c0c0c" stroke-width="3.2" />
<line x1="894.8" y1="4036" x2="894.8" y2="4121" stroke="#0c0c0c" stroke-width="3.2" />
<line x1="872.7" y1="4077.1" x2="894.8" y2="4077.1" stroke="#0c0c0c" stroke-width="2.8" />
<line x1="894.8" y1="4036" x2="894.8" y2="4121" stroke="#0c0c0c" stroke-width="3.2" />
<line x1="917.6" y1="4036" x2="917.6" y2="4121" stroke="#0c0c0c" stroke-width="3.2" />
<line x1="894.8" y1="4047.6" x2="917.6" y2="4047.6" stroke="#0c0c0c" stroke-width="2.8" />
<line x1="917.6" y1="4036" x2="917.6" y2="4121" stroke="#0c0c0c" stroke-width="3.2" />
<line x1="940.8" y1="4036" x2="940.8" y2="4121" stroke="#0c0c0c" stroke-width="3.2" />
<line x1="917.6" y1="4067.9" x2="940.8" y2="4067.9" stroke="#0c0c0c" stroke-width="2.8" />
<line x1="940.8" y1="4036" x2="940.8" y2="4121" stroke="#0c0c0c" stroke-width="3.2" />
<line x1="963.7" y1="4036" x2="963.7" y2="4121" stroke="#0c0c0c" stroke-width="3.2" />
<line x1="940.8" y1="4042.1" x2="963.7" y2="4042.1" stroke="#0c0c0c" stroke-width="2.8" />
<line x1="940.8" y1="4088.2" x2="963.7" y2="4088.2" stroke="#0c0c0c" stroke-width="2.8" />
<line x1="963.7" y1="4036" x2="963.7" y2="4121" stroke="#0c0c0c" stroke-width="3.2" />
<line x1="986.1" y1="4036" x2="986.1" y2="4121" stroke="#0c0c0c" stroke-width="3.2" />
<line x1="963.7" y1="4062.4" x2="986.1" y2="4062.4" stroke="#0c0c0c" stroke-width="2.8" />
<line x1="986.1" y1="4036" x2="986.1" y2="4121" stroke="#0c0c0c" stroke-width="3.2" />
<line x1="1009.0" y1="4036" x2="1009.0" y2="4121" stroke="#0c0c0c" stroke-width="3.2" />
<line x1="986.1" y1="4042.8" x2="1009.0" y2="4042.8" stroke="#0c0c0c" stroke-width="2.8" />
<line x1="986.1" y1="4079.0" x2="1009.0" y2="4079.0" stroke="#0c0c0c" stroke-width="2.8" />
<path d="M442.0,4040.5L436.0,4045.0L442.0,4049.5Z" fill="#111"/>
<path d="M454.5,4040.5L448.5,4045.0L454.5,4049.5Z" fill="#111"/>
<path d="M467.0,4040.5L461.0,4045.0L467.0,4049.5Z" fill="#111"/>
<path d="M446.0,4052.0L440.0,4056.5L446.0,4061.0Z" fill="#111"/>
<path d="M458.5,4052.0L452.5,4056.5L458.5,4061.0Z" fill="#111"/>
<path d="M471.0,4052.0L465.0,4056.5L471.0,4061.0Z" fill="#111"/>
<path d="M442.0,4063.5L436.0,4068.0L442.0,4072.5Z" fill="#111"/>
<path d="M454.5,4063.5L448.5,4068.0L454.5,4072.5Z" fill="#111"/>
<path d="M467.0,4063.5L461.0,4068.0L467.0,4072.5Z" fill="#111"/>
<path d="M446.0,4075.0L440.0,4079.5L446.0,4084.0Z" fill="#111"/>
<path d="M458.5,4075.0L452.5,4079.5L458.5,4084.0Z" fill="#111"/>
<path d="M471.0,4075.0L465.0,4079.5L471.0,4084.0Z" fill="#111"/>
<path d="M442.0,4086.5L436.0,4091.0L442.0,4095.5Z" fill="#111"/>
<path d="M454.5,4086.5L448.5,4091.0L454.5,4095.5Z" fill="#111"/>
<path d="M467.0,4086.5L461.0,4091.0L467.0,4095.5Z" fill="#111"/>
<path d="M446.0,4098.0L440.0,4102.5L446.0,4107.0Z" fill="#111"/>
<path d="M458.5,4098.0L452.5,4102.5L458.5,4107.0Z" fill="#111"/>
<path d="M471.0,4098.0L465.0,4102.5L471.0,4107.0Z" fill="#111"/>
<path d="M442.0,4109.5L436.0,4114.0L442.0,4118.5Z" fill="#111"/>
<path d="M454.5,4109.5L448.5,4114.0L454.5,4118.5Z" fill="#111"/>
<path d="M467.0,4109.5L461.0,4114.0L467.0,4118.5Z" fill="#111"/>
<circle cx="605" cy="4044.0" r="4" fill="#000"/>
<circle cx="621" cy="4044.0" r="4" fill="#000"/>
<circle cx="613" cy="4054.5" r="4" fill="#000"/>
<circle cx="629" cy="4054.5" r="4" fill="#000"/>
<circle cx="605" cy="4065.0" r="4" fill="#000"/>
<circle cx="621" cy="4065.0" r="4" fill="#000"/>
<circle cx="613" cy="4075.5" r="4" fill="#000"/>
<circle cx="629" cy="4075.5" r="4" fill="#000"/>
<circle cx="605" cy="4086.0" r="4" fill="#000"/>
<circle cx="621" cy="4086.0" r="4" fill="#000"/>
<circle cx="613" cy="4096.5" r="4" fill="#000"/>
<circle cx="629" cy="4096.5" r="4" fill="#000"/>
<circle cx="605" cy="4107.0" r="4" fill="#000"/>
<circle cx="621" cy="4107.0" r="4" fill="#000"/>
<circle cx="613" cy="4117.5" r="4" fill="#000"/>
<circle cx="629" cy="4117.5" r="4" fill="#000"/>
<rect x="188.5" y="4035.5" width="822" height="86" fill="none" stroke="#000" stroke-width="4.5" />
<rect x="118.5" y="271" width="1726.5" height="533" fill="none" stroke="#363636" stroke-width="4.4" />
<rect x="118.5" y="817.5" width="1726.5" height="887.5" fill="none" stroke="#363636" stroke-width="4.4" />
<line x1="118.5" y1="1446.5" x2="1849" y2="1446.5" stroke="#363636" stroke-width="4.2" />
<line x1="116.5" y1="1578.5" x2="1849" y2="1578.5" stroke="#111" stroke-width="5" />
<line x1="118.8" y1="1576" x2="118.8" y2="1707.5" stroke="#111" stroke-width="5" />
<line x1="116.5" y1="1705" x2="1847" y2="1705" stroke="#111" stroke-width="5" />
<line x1="118.5" y1="1640" x2="1849" y2="1640" stroke="#111" stroke-width="5" />
<line x1="1845.0" y1="1705" x2="1845.0" y2="1721" stroke="#363636" stroke-width="4.2" />
<line x1="1775.5" y1="1705" x2="1775.5" y2="1721" stroke="#363636" stroke-width="4.2" />
<line x1="1706.0" y1="1705" x2="1706.0" y2="1721" stroke="#363636" stroke-width="4.2" />
<line x1="1636.6" y1="1705" x2="1636.6" y2="1721" stroke="#363636" stroke-width="4.2" />
<line x1="1567.1" y1="1705" x2="1567.1" y2="1721" stroke="#363636" stroke-width="4.2" />
<line x1="1497.6" y1="1705" x2="1497.6" y2="1721" stroke="#363636" stroke-width="4.2" />
<line x1="1428.1" y1="1705" x2="1428.1" y2="1721" stroke="#363636" stroke-width="4.2" />
<line x1="1358.6" y1="1705" x2="1358.6" y2="1721" stroke="#363636" stroke-width="4.2" />
<line x1="1289.2" y1="1705" x2="1289.2" y2="1721" stroke="#363636" stroke-width="4.2" />
<line x1="1219.7" y1="1705" x2="1219.7" y2="1721" stroke="#363636" stroke-width="4.2" />
<line x1="1150.2" y1="1705" x2="1150.2" y2="1721" stroke="#363636" stroke-width="4.2" />
<line x1="1080.7" y1="1705" x2="1080.7" y2="1721" stroke="#363636" stroke-width="4.2" />
<line x1="1011.2" y1="1705" x2="1011.2" y2="1721" stroke="#363636" stroke-width="4.2" />
<line x1="941.8" y1="1705" x2="941.8" y2="1721" stroke="#363636" stroke-width="4.2" />
<line x1="872.3" y1="1705" x2="872.3" y2="1721" stroke="#363636" stroke-width="4.2" />
<line x1="802.8" y1="1705" x2="802.8" y2="1721" stroke="#363636" stroke-width="4.2" />
<line x1="733.3" y1="1705" x2="733.3" y2="1721" stroke="#363636" stroke-width="4.2" />
<line x1="663.8" y1="1705" x2="663.8" y2="1721" stroke="#363636" stroke-width="4.2" />
<line x1="594.4" y1="1705" x2="594.4" y2="1721" stroke="#363636" stroke-width="4.2" />
<line x1="524.9" y1="1705" x2="524.9" y2="1721" stroke="#363636" stroke-width="4.2" />
<line x1="455.4" y1="1705" x2="455.4" y2="1721" stroke="#363636" stroke-width="4.2" />
<line x1="385.9" y1="1705" x2="385.9" y2="1721" stroke="#363636" stroke-width="4.2" />
<line x1="316.4" y1="1705" x2="316.4" y2="1721" stroke="#363636" stroke-width="4.2" />
<line x1="247.0" y1="1705" x2="247.0" y2="1721" stroke="#363636" stroke-width="4.2" />
<line x1="177.5" y1="1705" x2="177.5" y2="1721" stroke="#363636" stroke-width="4.2" />
<line x1="1845" y1="776.2" x2="1860" y2="776.2" stroke="#363636" stroke-width="4.2" />
<line x1="1845" y1="743.2" x2="1860" y2="743.2" stroke="#363636" stroke-width="4.2" />
<line x1="1845" y1="710.1" x2="1860" y2="710.1" stroke="#363636" stroke-width="4.2" />
<line x1="1845" y1="677.1" x2="1860" y2="677.1" stroke="#363636" stroke-width="4.2" />
<line x1="1845" y1="644.0" x2="1860" y2="644.0" stroke="#363636" stroke-width="4.2" />
<line x1="1845" y1="611.0" x2="1860" y2="611.0" stroke="#363636" stroke-width="4.2" />
<line x1="1845" y1="578.0" x2="1860" y2="578.0" stroke="#363636" stroke-width="4.2" />
<line x1="1845" y1="544.9" x2="1860" y2="544.9" stroke="#363636" stroke-width="4.2" />
<line x1="1845" y1="511.9" x2="1860" y2="511.9" stroke="#363636" stroke-width="4.2" />
<line x1="1845" y1="478.8" x2="1860" y2="478.8" stroke="#363636" stroke-width="4.2" />
<line x1="1845" y1="445.8" x2="1860" y2="445.8" stroke="#363636" stroke-width="4.2" />
<line x1="1845" y1="412.7" x2="1860" y2="412.7" stroke="#363636" stroke-width="4.2" />
<line x1="1845" y1="379.7" x2="1860" y2="379.7" stroke="#363636" stroke-width="4.2" />
<line x1="1845" y1="346.6" x2="1860" y2="346.6" stroke="#363636" stroke-width="4.2" />
<line x1="1845" y1="1448.2" x2="1860" y2="1448.2" stroke="#363636" stroke-width="4.2" />
<line x1="1845" y1="1379.9" x2="1860" y2="1379.9" stroke="#363636" stroke-width="4.2" />
<line x1="1845" y1="1311.6" x2="1860" y2="1311.6" stroke="#363636" stroke-width="4.2" />
<line x1="1845" y1="1243.3" x2="1860" y2="1243.3" stroke="#363636" stroke-width="4.2" />
<line x1="1845" y1="1175.0" x2="1860" y2="1175.0" stroke="#363636" stroke-width="4.2" />
<line x1="1845" y1="1106.7" x2="1860" y2="1106.7" stroke="#363636" stroke-width="4.2" />
<line x1="1845" y1="1038.4" x2="1860" y2="1038.4" stroke="#363636" stroke-width="4.2" />
<line x1="1845" y1="970.1" x2="1860" y2="970.1" stroke="#363636" stroke-width="4.2" />
<line x1="1845" y1="901.8" x2="1860" y2="901.8" stroke="#363636" stroke-width="4.2" />
<line x1="1845" y1="833.5" x2="1860" y2="833.5" stroke="#363636" stroke-width="4.2" />
<line x1="118.5" y1="1892.5" x2="118.5" y2="2454" stroke="#363636" stroke-width="4.2" />
<line x1="117" y1="1894" x2="1710" y2="1894" stroke="#363636" stroke-width="4.2" />
<line x1="117" y1="2265" x2="1710" y2="2265" stroke="#363636" stroke-width="4.2" />
<line x1="117" y1="2320" x2="1710" y2="2320" stroke="#363636" stroke-width="4.2" />
<line x1="117" y1="2452" x2="1710" y2="2452" stroke="#363636" stroke-width="4.2" />
<line x1="117" y1="2383.5" x2="1710" y2="2383.5" stroke="#111" stroke-width="5" />
<line x1="480" y1="2320" x2="480" y2="2383.5" stroke="#363636" stroke-width="4.2" />
<line x1="747.5" y1="2320" x2="747.5" y2="2383.5" stroke="#363636" stroke-width="4.2" />
<line x1="1108.5" y1="2320" x2="1108.5" y2="2383.5" stroke="#363636" stroke-width="4.2" />
<line x1="1710.0" y1="2452" x2="1710.0" y2="2471" stroke="#363636" stroke-width="4.2" />
<line x1="1641.0" y1="2452" x2="1641.0" y2="2471" stroke="#363636" stroke-width="4.2" />
<line x1="1571.9" y1="2452" x2="1571.9" y2="2471" stroke="#363636" stroke-width="4.2" />
<line x1="1502.8" y1="2452" x2="1502.8" y2="2471" stroke="#363636" stroke-width="4.2" />
<line x1="1433.8" y1="2452" x2="1433.8" y2="2471" stroke="#363636" stroke-width="4.2" />
<line x1="1364.8" y1="2452" x2="1364.8" y2="2471" stroke="#363636" stroke-width="4.2" />
<line x1="1295.7" y1="2452" x2="1295.7" y2="2471" stroke="#363636" stroke-width="4.2" />
<line x1="1226.7" y1="2452" x2="1226.7" y2="2471" stroke="#363636" stroke-width="4.2" />
<line x1="1157.6" y1="2452" x2="1157.6" y2="2471" stroke="#363636" stroke-width="4.2" />
<line x1="1088.6" y1="2452" x2="1088.6" y2="2471" stroke="#363636" stroke-width="4.2" />
<line x1="1019.5" y1="2452" x2="1019.5" y2="2471" stroke="#363636" stroke-width="4.2" />
<line x1="950.5" y1="2452" x2="950.5" y2="2471" stroke="#363636" stroke-width="4.2" />
<line x1="881.4" y1="2452" x2="881.4" y2="2471" stroke="#363636" stroke-width="4.2" />
<line x1="812.4" y1="2452" x2="812.4" y2="2471" stroke="#363636" stroke-width="4.2" />
<line x1="743.3" y1="2452" x2="743.3" y2="2471" stroke="#363636" stroke-width="4.2" />
<line x1="674.2" y1="2452" x2="674.2" y2="2471" stroke="#363636" stroke-width="4.2" />
<line x1="605.2" y1="2452" x2="605.2" y2="2471" stroke="#363636" stroke-width="4.2" />
<line x1="536.2" y1="2452" x2="536.2" y2="2471" stroke="#363636" stroke-width="4.2" />
<line x1="467.1" y1="2452" x2="467.1" y2="2471" stroke="#363636" stroke-width="4.2" />
<line x1="398.0" y1="2452" x2="398.0" y2="2471" stroke="#363636" stroke-width="4.2" />
<line x1="329.0" y1="2452" x2="329.0" y2="2471" stroke="#363636" stroke-width="4.2" />
<line x1="260.0" y1="2452" x2="260.0" y2="2471" stroke="#363636" stroke-width="4.2" />
<line x1="218.5" y1="2452" x2="218.5" y2="2471" stroke="#363636" stroke-width="4.2" />
<line x1="1710" y1="2265.7" x2="1726" y2="2265.7" stroke="#363636" stroke-width="4.2" />
<line x1="1710" y1="2198.8" x2="1726" y2="2198.8" stroke="#363636" stroke-width="4.2" />
<line x1="1710" y1="2131.9" x2="1726" y2="2131.9" stroke="#363636" stroke-width="4.2" />
<line x1="1710" y1="2065.0" x2="1726" y2="2065.0" stroke="#363636" stroke-width="4.2" />
<line x1="1710" y1="1998.1" x2="1726" y2="1998.1" stroke="#363636" stroke-width="4.2" />
<line x1="1710" y1="1931.2" x2="1726" y2="1931.2" stroke="#363636" stroke-width="4.2" />
<line x1="119.5" y1="2611" x2="119.5" y2="3433" stroke="#363636" stroke-width="4.6" />
<line x1="118.5" y1="2612.5" x2="1557" y2="2612.5" stroke="#363636" stroke-width="4.6" />
<line x1="118.5" y1="2901.5" x2="1557" y2="2901.5" stroke="#363636" stroke-width="4.6" />
<line x1="118.5" y1="3431" x2="1557" y2="3431" stroke="#363636" stroke-width="4.6" />
<line x1="118.5" y1="3185" x2="1557" y2="3185" stroke="#1a1a1a" stroke-width="5" />
<line x1="118.5" y1="3273.5" x2="1557" y2="3273.5" stroke="#1a1a1a" stroke-width="5" />
<line x1="189" y1="3354" x2="1557" y2="3354" stroke="#1a1a1a" stroke-width="5" />
<line x1="210" y1="3273.5" x2="210" y2="3354" stroke="#1a1a1a" stroke-width="4.6" />
<line x1="1557.5" y1="3431" x2="1557.5" y2="3453" stroke="#363636" stroke-width="4.6" />
<line x1="1420.5" y1="3431" x2="1420.5" y2="3453" stroke="#363636" stroke-width="4.6" />
<line x1="1283.5" y1="3431" x2="1283.5" y2="3453" stroke="#363636" stroke-width="4.6" />
<line x1="1146.5" y1="3431" x2="1146.5" y2="3453" stroke="#363636" stroke-width="4.6" />
<line x1="1009.5" y1="3431" x2="1009.5" y2="3453" stroke="#363636" stroke-width="4.6" />
<line x1="872.5" y1="3431" x2="872.5" y2="3453" stroke="#363636" stroke-width="4.6" />
<line x1="735.5" y1="3431" x2="735.5" y2="3453" stroke="#363636" stroke-width="4.6" />
<line x1="598.5" y1="3431" x2="598.5" y2="3453" stroke="#363636" stroke-width="4.6" />
<line x1="461.5" y1="3431" x2="461.5" y2="3453" stroke="#363636" stroke-width="4.6" />
<line x1="324.5" y1="3431" x2="324.5" y2="3453" stroke="#363636" stroke-width="4.6" />
<line x1="187.5" y1="3431" x2="187.5" y2="3453" stroke="#363636" stroke-width="4.6" />
<line x1="1557" y1="2652.5" x2="1581" y2="2652.5" stroke="#363636" stroke-width="4.6" />
<line x1="1557" y1="2724" x2="1581" y2="2724" stroke="#363636" stroke-width="4.6" />
<line x1="1557" y1="2795" x2="1581" y2="2795" stroke="#363636" stroke-width="4.6" />
<line x1="1557" y1="2866.5" x2="1581" y2="2866.5" stroke="#363636" stroke-width="4.6" />
<line x1="1557" y1="2910" x2="1581" y2="2910" stroke="#363636" stroke-width="4.6" />
<line x1="1557" y1="2980" x2="1581" y2="2980" stroke="#363636" stroke-width="4.6" />
<line x1="1557" y1="3050" x2="1581" y2="3050" stroke="#363636" stroke-width="4.6" />
<line x1="1557" y1="3118.5" x2="1581" y2="3118.5" stroke="#363636" stroke-width="4.6" />
<rect x="123.5" y="3610" width="889" height="575" fill="none" stroke="#363636" stroke-width="4.4" />
<line x1="123.5" y1="3842.5" x2="1012.5" y2="3842.5" stroke="#363636" stroke-width="4.2" />
<line x1="123.5" y1="4035" x2="190" y2="4035" stroke="#363636" stroke-width="3.6" />
<line x1="123.5" y1="4121" x2="190" y2="4121" stroke="#363636" stroke-width="3.6" />
<line x1="188.5" y1="3610" x2="188.5" y2="4190" stroke="#111" stroke-width="4" />
<line x1="1012.5" y1="4185" x2="1012.5" y2="4199" stroke="#363636" stroke-width="4.2" />
<line x1="875.2" y1="4185" x2="875.2" y2="4199" stroke="#363636" stroke-width="4.2" />
<line x1="737.9" y1="4185" x2="737.9" y2="4199" stroke="#363636" stroke-width="4.2" />
<line x1="600.6" y1="4185" x2="600.6" y2="4199" stroke="#363636" stroke-width="4.2" />
<line x1="463.3" y1="4185" x2="463.3" y2="4199" stroke="#363636" stroke-width="4.2" />
<line x1="326.0" y1="4185" x2="326.0" y2="4199" stroke="#363636" stroke-width="4.2" />
<line x1="188.7" y1="4185" x2="188.7" y2="4199" stroke="#363636" stroke-width="4.2" />
<line x1="1012.5" y1="3610" x2="1028" y2="3610" stroke="#363636" stroke-width="4.2" />
<line x1="1012.5" y1="3716.5" x2="1028" y2="3716.5" stroke="#363636" stroke-width="4.2" />
<line x1="1012.5" y1="3822.5" x2="1028" y2="3822.5" stroke="#363636" stroke-width="4.2" />
<line x1="1012.5" y1="3869" x2="1028" y2="3869" stroke="#363636" stroke-width="4.2" />
<line x1="1012.5" y1="3911" x2="1028" y2="3911" stroke="#363636" stroke-width="4.2" />
<line x1="1012.5" y1="3952.5" x2="1028" y2="3952.5" stroke="#363636" stroke-width="4.2" />
<line x1="1012.5" y1="3992.5" x2="1028" y2="3992.5" stroke="#363636" stroke-width="4.2" />
<line x1="183.5" y1="611" x2="1845" y2="611" stroke="#333" stroke-width="3.4" stroke-dasharray="20 20.4"/>
<line x1="183.5" y1="1175" x2="1845" y2="1175" stroke="#333" stroke-width="3.4" stroke-dasharray="20 20.4"/>
<line x1="200" y1="2064" x2="1710" y2="2064" stroke="#808080" stroke-width="3" stroke-dasharray="9 7"/>
<line x1="136" y1="2724" x2="1557" y2="2724" stroke="#808080" stroke-width="3.2" stroke-dasharray="11 9"/>
<line x1="135" y1="2980" x2="1557" y2="2980" stroke="#808080" stroke-width="3.2" stroke-dasharray="11 9"/>
<line x1="200" y1="3716.5" x2="1012" y2="3716.5" stroke="#808080" stroke-width="3.2" stroke-dasharray="11 9"/>
<line x1="192" y1="3911" x2="1012" y2="3911" stroke="#808080" stroke-width="3.2" stroke-dasharray="11 9"/>
<g font-family='"Liberation Sans", "DejaVu Sans", sans-serif'>
<text transform="translate(425,1597.0) rotate(180)" font-size="41" fill="#111" stroke="#111" stroke-width="1.48" font-weight="normal" text-anchor="start" textLength="200" lengthAdjust="spacingAndGlyphs" >Sequence 4</text>
<text transform="translate(722,1596.0) rotate(180)" font-size="41" fill="#111" stroke="#111" stroke-width="1.48" font-weight="normal" text-anchor="start" textLength="197" lengthAdjust="spacingAndGlyphs" >Sequence 3</text>
<text transform="translate(1087,1593.0) rotate(180)" font-size="41" fill="#111" stroke="#111" stroke-width="1.48" font-weight="normal" text-anchor="start" textLength="200" lengthAdjust="spacingAndGlyphs" >Sequence 2</text>
<text transform="translate(1582,1597.0) rotate(180)" font-size="41" fill="#111" stroke="#111" stroke-width="1.48" font-weight="normal" text-anchor="start" textLength="195" lengthAdjust="spacingAndGlyphs" >Sequence 1</text>
<text transform="translate(1087,1656.0) rotate(180)" font-size="41" fill="#111" stroke="#111" stroke-width="1.48" font-weight="normal" text-anchor="start" textLength="245" lengthAdjust="spacingAndGlyphs" >Yacoraite Fm.</text>
<text transform="translate(445,2340.5) rotate(180)" font-size="41" fill="#111" stroke="#111" stroke-width="1.48" font-weight="normal" text-anchor="start" textLength="200" lengthAdjust="spacingAndGlyphs" >Sequence 4</text>
<text transform="translate(717,2340.5) rotate(180)" font-size="41" fill="#111" stroke="#111" stroke-width="1.48" font-weight="normal" text-anchor="start" textLength="200" lengthAdjust="spacingAndGlyphs" >Sequence 3</text>
<text transform="translate(1025,2340.5) rotate(180)" font-size="41" fill="#111" stroke="#111" stroke-width="1.48" font-weight="normal" text-anchor="start" textLength="200" lengthAdjust="spacingAndGlyphs" >Sequence 2</text>
<text transform="translate(1505,2341.0) rotate(180)" font-size="41" fill="#111" stroke="#111" stroke-width="1.48" font-weight="normal" text-anchor="start" textLength="197" lengthAdjust="spacingAndGlyphs" >Sequence 1</text>
<text transform="translate(1025,2407.0) rotate(180)" font-size="41" fill="#111" stroke="#111" stroke-width="1.48" font-weight="normal" text-anchor="start" textLength="223" lengthAdjust="spacingAndGlyphs" >Yacoraite Fm.</text>
<text transform="translate(482,3296.0) rotate(180)" font-size="41" fill="#111" stroke="#111" stroke-width="1.48" font-weight="normal" text-anchor="start" textLength="162" lengthAdjust="spacingAndGlyphs" >Alemania</text>
<text transform="translate(770,3296.0) rotate(180)" font-size="41" fill="#111" stroke="#111" stroke-width="1.48" font-weight="normal" text-anchor="start" textLength="140" lengthAdjust="spacingAndGlyphs" >Güemes</text>
<text transform="translate(1220,3299.0) rotate(180)" font-size="41" fill="#111" stroke="#111" stroke-width="1.48" font-weight="normal" text-anchor="start" textLength="155" lengthAdjust="spacingAndGlyphs" >Amblayo</text>
<text transform="translate(917,3384.0) rotate(180)" font-size="41" fill="#111" stroke="#111" stroke-width="1.48" font-weight="normal" text-anchor="start" textLength="232" lengthAdjust="spacingAndGlyphs" >Yacoraite Fm.</text>
<text transform="translate(163,3430) rotate(-90)" font-size="34" fill="#111" stroke="#111" stroke-width="1.22" font-weight="normal" text-anchor="start" textLength="156" lengthAdjust="spacingAndGlyphs" >Tunal Fm.</text>
<text transform="translate(289,3425) rotate(-90)" font-size="38" fill="#111" stroke="#111" stroke-width="1.37" font-weight="normal" text-anchor="start" textLength="64" lengthAdjust="spacingAndGlyphs" >Jur.</text>
<line x1="200" y1="3317" x2="262" y2="3375" stroke="#111" stroke-width="2.5" />
<text transform="translate(678,4139.0) rotate(180)" font-size="41" fill="#111" stroke="#111" stroke-width="1.48" font-weight="normal" text-anchor="start" textLength="231" lengthAdjust="spacingAndGlyphs" >Yacoraite Fm.</text>
<text transform="translate(792,4300) rotate(180)" font-size="41" fill="#111" stroke="#111" stroke-width="1.48" font-weight="normal" text-anchor="start" textLength="430" lengthAdjust="spacingAndGlyphs" >Stratigraphic height (m)</text>
</g>
<line x1="186.5" y1="217" x2="186.5" y2="272" stroke="#ff3a44" stroke-width="4.6" />
<line x1="186.5" y1="272" x2="186.5" y2="1705" stroke="#c8705e" stroke-width="5.2" />
<line x1="187" y1="1705" x2="187" y2="3431" stroke="#ff3a44" stroke-width="4.4" />
<line x1="187" y1="3433" x2="187" y2="3522" stroke="#ff3030" stroke-width="4.4" stroke-dasharray="10 9"/>
<polyline points="304,218 304,1640 282.5,1845 282.5,2318" fill="none" stroke="#3a2f92" stroke-width="6.4" stroke-linejoin="round" />
<polyline points="486.5,216 486.5,1705 479,1892 479,2320" fill="none" stroke="#ff6a6a" stroke-width="5" stroke-linejoin="round" />
<line x1="479" y1="1892" x2="479" y2="2320" stroke="#ff4a40" stroke-width="5" />
<line x1="468" y1="2453" x2="650" y2="2610" stroke="#ff3030" stroke-width="4.4" stroke-dasharray="10 9"/>
<line x1="652" y1="2611" x2="652" y2="3354" stroke="#ff3030" stroke-width="4" />
<line x1="647" y1="3435" x2="537" y2="3525" stroke="#ff3030" stroke-width="4.4" stroke-dasharray="10 9"/>
<polyline points="548.5,218 548.5,1705 501.5,1885 501.5,2318" fill="none" stroke="#2a2088" stroke-width="6.2" stroke-linejoin="round" />
<polyline points="783.5,210 783.5,1705 745,1892 745,2320" fill="none" stroke="#ff4a3a" stroke-width="4.6" stroke-linejoin="round" />
<polyline points="747.5,2452 776,2610 776,3354" fill="none" stroke="#ff3030" stroke-width="4.2" stroke-linejoin="round" />
<line x1="785" y1="3435" x2="692" y2="3525" stroke="#ff3030" stroke-width="4.4" stroke-dasharray="10 9"/>
<line x1="783.5" y1="271" x2="783.5" y2="1446" stroke="#ff6a1e" stroke-width="5.4" />
<polyline points="1190,204 1190,1679 1074,1875 1074,2318" fill="none" stroke="#2a2088" stroke-width="6.2" stroke-linejoin="round" />
<polyline points="1220,204 1220,1705 1107.5,1892 1107.5,2320" fill="none" stroke="#ff4a4a" stroke-width="5" stroke-linejoin="round" />
<line x1="1106" y1="2445" x2="1106" y2="2537" stroke="#ff3030" stroke-width="2.6" stroke-dasharray="10 9"/>
<polyline points="1446,198 1446,1705 1366.5,1890 1366.5,2318" fill="none" stroke="#4038a0" stroke-width="6.8" stroke-linejoin="round" />
<polyline points="1837.5,199 1837.5,1705 1710,1892" fill="none" stroke="#ff3030" stroke-width="5" stroke-linejoin="round" />
<polyline points="1710,1890 1710,2452 1557.5,2610" fill="none" stroke="#ff3030" stroke-width="4.6" stroke-linejoin="round" />
<line x1="1557.5" y1="2609" x2="1557.5" y2="3434" stroke="#ff0000" stroke-width="7.5" />
<line x1="1557.5" y1="3432" x2="1160" y2="3565" stroke="#ff3030" stroke-width="4.2" />
<line x1="801.3" y1="444" x2="801.3" y2="804" stroke="#0f9a38" stroke-width="9" stroke-dasharray="9 8.6"/>
<rect x="674" y="2648.5" width="53.5" height="514" fill="none" stroke="#0a0a0a" stroke-width="6" />
<polyline points="194,727 202,655 220,607 227,582 245,610 267,622 327,575 342,605 342,515 380,570 385,540 397,512 412,530 434,516 455,517 470,545 475,590 497,605 509,600 510,670 517,590 542,597 560,610 565,552 590,545 620,597 620,765 650,750 683,598 689,765 711,750 720,695 727.5,520 761,677 797,721 822,550 835,515 867,540 885,542 910,525 912,480 930,472 980,467 1000,455 1046,497 1113,416 1156,454 1162,492 1182,495 1207,432 1234,399 1291,385 1342,380 1347,395 1347,440 1387,432 1400,425 1402,350 1415,330 1434,321 1442,350 1445,430 1458,462 1546,486 1617,500 1650,480 1670,465" fill="none" stroke="#8280bf" stroke-width="4.8" stroke-linejoin="round" />
<polyline points="184,1391 207,1369 221,1400 221,1257 243,1284 265,1337 330,1215 336,1167 380,1165 397,1145 431,1112 450,1172 475,1155 515,1137 555,1200 559,1211 557,1060 582,1125 607,1105 615,1110 622,1132 650,1100 655,1080 660,1140 680,1110 710,1150 722,1125 735,1175 753,1239 787,1239 815,1130 835,1120 870,1122 896,1185 911,1070 910,1225 930,1185 962,1080 991,1180 1006,1070 1007,1140 1025,1092 1046,1099 1108,1132 1152,1107 1172,1142 1207,1000 1226,1095 1290,1054 1335,1105 1341,960 1345,1130 1376,1120 1390,1025 1387,960 1397,1009 1429,885 1440,1040 1454,1091 1615,1065 1615,1125 1627,1136 1640,1107 1662,1095" fill="none" stroke="#ff0000" stroke-width="5.4" stroke-linejoin="round" />
<ellipse cx="194" cy="727" rx="14.0" ry="12.7" fill="#0a97d9"/>
<path d="M185.7,693.7L202.3,710.3M185.7,710.3L202.3,693.7" stroke="#0a97d9" stroke-width="10" stroke-linecap="round" fill="none"/>
<ellipse cx="202" cy="655" rx="14.0" ry="12.7" fill="#0a97d9"/>
<ellipse cx="220" cy="607" rx="14.0" ry="12.7" fill="#0a97d9"/>
<path d="M218.7,541.7L235.3,558.3M218.7,558.3L235.3,541.7" stroke="#0a97d9" stroke-width="10" stroke-linecap="round" fill="none"/>
<path d="M218.7,566.7L235.3,583.3M218.7,583.3L235.3,566.7" stroke="#dc101e" stroke-width="10" stroke-linecap="round" fill="none"/>
<ellipse cx="245" cy="610" rx="14.0" ry="12.7" fill="#0a97d9"/>
<path d="M258.7,613.7L275.3,630.3M258.7,630.3L275.3,613.7" stroke="#0a97d9" stroke-width="10" stroke-linecap="round" fill="none"/>
<path d="M318.7,566.7L335.3,583.3M318.7,583.3L335.3,566.7" stroke="#0a97d9" stroke-width="10" stroke-linecap="round" fill="none"/>
<path d="M328.7,531.7L345.3,548.3M328.7,548.3L345.3,531.7" stroke="#dc101e" stroke-width="10" stroke-linecap="round" fill="none"/>
<ellipse cx="335" cy="522" rx="14.0" ry="12.7" fill="#0a97d9"/>
<ellipse cx="342" cy="512" rx="14.0" ry="12.7" fill="#0a97d9"/>
<path d="M333.7,596.7L350.3,613.3M333.7,613.3L350.3,596.7" stroke="#0a97d9" stroke-width="10" stroke-linecap="round" fill="none"/>
<path d="M371.7,563.7L388.3,580.3M371.7,580.3L388.3,563.7" stroke="#0a97d9" stroke-width="10" stroke-linecap="round" fill="none"/>
<ellipse cx="382" cy="540" rx="14.0" ry="12.7" fill="#0a97d9"/>
<path d="M388.7,528.7L405.3,545.3M388.7,545.3L405.3,528.7" stroke="#dc101e" stroke-width="10" stroke-linecap="round" fill="none"/>
<ellipse cx="397" cy="512" rx="14.0" ry="12.7" fill="#0a97d9"/>
<ellipse cx="412" cy="530" rx="11.5" ry="11" fill="#0a97d9" stroke="#ee1020" stroke-width="5.5"/>
<ellipse cx="434" cy="516" rx="11.5" ry="11" fill="#0a97d9" stroke="#ee1020" stroke-width="5.5"/>
<path d="M446.7,506.7L463.3,523.3M446.7,523.3L463.3,506.7" stroke="#0a97d9" stroke-width="10" stroke-linecap="round" fill="none"/>
<path d="M445,505L465,525M445,525L465,505" stroke="#e0101e" stroke-width="4" stroke-linecap="round" fill="none"/>
<ellipse cx="472" cy="532" rx="14.0" ry="12.7" fill="#0a97d9"/>
<ellipse cx="467" cy="560" rx="14.0" ry="12.7" fill="#0a97d9"/>
<path d="M466.7,583.7L483.3,600.3M466.7,600.3L483.3,583.7" stroke="#dc101e" stroke-width="10" stroke-linecap="round" fill="none"/>
<path d="M471.7,541.7L488.3,558.3M471.7,558.3L488.3,541.7" stroke="#dc101e" stroke-width="10" stroke-linecap="round" fill="none"/>
<path d="M486.7,576.7L503.3,593.3M486.7,593.3L503.3,576.7" stroke="#0a97d9" stroke-width="10" stroke-linecap="round" fill="none"/>
<ellipse cx="497" cy="605" rx="14.0" ry="12.7" fill="#0a97d9"/>
<ellipse cx="509" cy="671" rx="14.0" ry="12.7" fill="#0a97d9"/>
<path d="M508.7,561.7L525.3,578.3M508.7,578.3L525.3,561.7" stroke="#0a97d9" stroke-width="10" stroke-linecap="round" fill="none"/>
<path d="M507,560L527,580M507,580L527,560" stroke="#e0101e" stroke-width="4" stroke-linecap="round" fill="none"/>
<path d="M513.7,586.7L530.3,603.3M513.7,603.3L530.3,586.7" stroke="#0a97d9" stroke-width="10" stroke-linecap="round" fill="none"/>
<path d="M533.7,588.7L550.3,605.3M533.7,605.3L550.3,588.7" stroke="#dc101e" stroke-width="10" stroke-linecap="round" fill="none"/>
<path d="M548.7,573.7L565.3,590.3M548.7,590.3L565.3,573.7" stroke="#dc101e" stroke-width="10" stroke-linecap="round" fill="none"/>
<ellipse cx="560" cy="600" rx="14.0" ry="12.7" fill="#0a97d9"/>
<ellipse cx="560" cy="620" rx="11.5" ry="11" fill="#0a97d9" stroke="#ee1020" stroke-width="5.5"/>
<ellipse cx="565" cy="552" rx="14.0" ry="12.7" fill="#0a97d9"/>
<path d="M581.7,536.7L598.3,553.3M581.7,553.3L598.3,536.7" stroke="#0a97d9" stroke-width="10" stroke-linecap="round" fill="none"/>
<ellipse cx="620" cy="597" rx="11.5" ry="11" fill="#0a97d9" stroke="#ee1020" stroke-width="5.5"/>
<path d="M611.7,658.7L628.3,675.3M611.7,675.3L628.3,658.7" stroke="#0a97d9" stroke-width="10" stroke-linecap="round" fill="none"/>
<path d="M603.7,683.7L620.3,700.3M603.7,700.3L620.3,683.7" stroke="#0a97d9" stroke-width="10" stroke-linecap="round" fill="none"/>
<path d="M611.7,741.7L628.3,758.3M611.7,758.3L628.3,741.7" stroke="#dc101e" stroke-width="10" stroke-linecap="round" fill="none"/>
<ellipse cx="617" cy="769" rx="14.0" ry="12.7" fill="#0a97d9"/>
<path d="M641.7,726.7L658.3,743.3M641.7,743.3L658.3,726.7" stroke="#dc101e" stroke-width="10" stroke-linecap="round" fill="none"/>
<path d="M643.7,758.7L660.3,775.3M643.7,775.3L660.3,758.7" stroke="#0a97d9" stroke-width="10" stroke-linecap="round" fill="none"/>
<path d="M642,757L662,777M642,777L662,757" stroke="#e0101e" stroke-width="4" stroke-linecap="round" fill="none"/>
<path d="M676.7,671.7L693.3,688.3M676.7,688.3L693.3,671.7" stroke="#0a97d9" stroke-width="10" stroke-linecap="round" fill="none"/>
<path d="M666.7,686.7L683.3,703.3M666.7,703.3L683.3,686.7" stroke="#0a97d9" stroke-width="10" stroke-linecap="round" fill="none"/>
<path d="M681.7,741.7L698.3,758.3M681.7,758.3L698.3,741.7" stroke="#dc101e" stroke-width="10" stroke-linecap="round" fill="none"/>
<path d="M678.7,761.7L695.3,778.3M678.7,778.3L695.3,761.7" stroke="#0a97d9" stroke-width="10" stroke-linecap="round" fill="none"/>
<path d="M702.7,726.7L719.3,743.3M702.7,743.3L719.3,726.7" stroke="#0a97d9" stroke-width="10" stroke-linecap="round" fill="none"/>
<path d="M701,725L721,745M701,745L721,725" stroke="#e0101e" stroke-width="4" stroke-linecap="round" fill="none"/>
<path d="M702.7,760.7L719.3,777.3M702.7,777.3L719.3,760.7" stroke="#0a97d9" stroke-width="10" stroke-linecap="round" fill="none"/>
<path d="M701,759L721,779M701,779L721,759" stroke="#e0101e" stroke-width="4" stroke-linecap="round" fill="none"/>
<ellipse cx="720" cy="695" rx="11.5" ry="11" fill="#0a97d9" stroke="#ee1020" stroke-width="5.5"/>
<path d="M752.7,668.7L769.3,685.3M752.7,685.3L769.3,668.7" stroke="#0a97d9" stroke-width="10" stroke-linecap="round" fill="none"/>
<path d="M788.7,712.7L805.3,729.3M788.7,729.3L805.3,712.7" stroke="#0a97d9" stroke-width="10" stroke-linecap="round" fill="none"/>
<path d="M676.7,586.7L693.3,603.3M676.7,603.3L693.3,586.7" stroke="#0a97d9" stroke-width="10" stroke-linecap="round" fill="none"/>
<path d="M675,585L695,605M675,605L695,585" stroke="#e0101e" stroke-width="4" stroke-linecap="round" fill="none"/>
<path d="M719.2,506.7L735.8,523.3M719.2,523.3L735.8,506.7" stroke="#0a97d9" stroke-width="10" stroke-linecap="round" fill="none"/>
<path d="M719.2,476.7L735.8,493.3M719.2,493.3L735.8,476.7" stroke="#dc101e" stroke-width="10" stroke-linecap="round" fill="none"/>
<path d="M813.7,533.7L830.3,550.3M813.7,550.3L830.3,533.7" stroke="#0a97d9" stroke-width="10" stroke-linecap="round" fill="none"/>
<path d="M823.7,553.7L840.3,570.3M823.7,570.3L840.3,553.7" stroke="#0a97d9" stroke-width="10" stroke-linecap="round" fill="none"/>
<path d="M826.7,503.7L843.3,520.3M826.7,520.3L843.3,503.7" stroke="#0a97d9" stroke-width="10" stroke-linecap="round" fill="none"/>
<ellipse cx="867" cy="537" rx="14.0" ry="12.7" fill="#0a97d9"/>
<path d="M871.7,536.7L888.3,553.3M871.7,553.3L888.3,536.7" stroke="#0a97d9" stroke-width="10" stroke-linecap="round" fill="none"/>
<path d="M891.7,523.7L908.3,540.3M891.7,540.3L908.3,523.7" stroke="#0a97d9" stroke-width="10" stroke-linecap="round" fill="none"/>
<path d="M897.7,519.7L914.3,536.3M897.7,536.3L914.3,519.7" stroke="#dc101e" stroke-width="10" stroke-linecap="round" fill="none"/>
<path d="M901.7,458.7L918.3,475.3M901.7,475.3L918.3,458.7" stroke="#0a97d9" stroke-width="10" stroke-linecap="round" fill="none"/>
<path d="M901.7,476.7L918.3,493.3M901.7,493.3L918.3,476.7" stroke="#dc101e" stroke-width="10" stroke-linecap="round" fill="none"/>
<ellipse cx="929" cy="495" rx="11.5" ry="11" fill="#0a97d9" stroke="#ee1020" stroke-width="5.5"/>
<path d="M955.7,453.7L972.3,470.3M955.7,470.3L972.3,453.7" stroke="#0a97d9" stroke-width="10" stroke-linecap="round" fill="none"/>
<path d="M953.7,476.7L970.3,493.3M953.7,493.3L970.3,476.7" stroke="#dc101e" stroke-width="10" stroke-linecap="round" fill="none"/>
<ellipse cx="982" cy="485" rx="14.0" ry="12.7" fill="#0a97d9"/>
<path d="M986.7,428.7L1003.3,445.3M986.7,445.3L1003.3,428.7" stroke="#dc101e" stroke-width="10" stroke-linecap="round" fill="none"/>
<ellipse cx="1000" cy="481" rx="14.0" ry="12.7" fill="#0a97d9"/>
<ellipse cx="1010" cy="481" rx="14.0" ry="12.7" fill="#0a97d9"/>
<ellipse cx="1046" cy="497" rx="14.0" ry="12.7" fill="#0a97d9"/>
<ellipse cx="1113" cy="416" rx="13.5" ry="12.5" fill="#cc1622"/>
<ellipse cx="1156" cy="454" rx="14.0" ry="12.7" fill="#0a97d9"/>
<path d="M1141.7,488.7L1158.3,505.3M1141.7,505.3L1158.3,488.7" stroke="#0a97d9" stroke-width="10" stroke-linecap="round" fill="none"/>
<path d="M1168.7,486.7L1185.3,503.3M1168.7,503.3L1185.3,486.7" stroke="#0a97d9" stroke-width="10" stroke-linecap="round" fill="none"/>
<ellipse cx="1207" cy="432" rx="11.5" ry="11" fill="#0a97d9" stroke="#ee1020" stroke-width="5.5"/>
<ellipse cx="1234" cy="399" rx="13.5" ry="12.5" fill="#cc1622"/>
<ellipse cx="1291" cy="385" rx="13.5" ry="12.5" fill="#cc1622"/>
<path d="M1328.7,366.7L1345.3,383.3M1328.7,383.3L1345.3,366.7" stroke="#0a97d9" stroke-width="10" stroke-linecap="round" fill="none"/>
<ellipse cx="1346" cy="365" rx="13.5" ry="12.5" fill="#cc1622"/>
<ellipse cx="1340" cy="395" rx="11.5" ry="11" fill="#0a97d9" stroke="#ee1020" stroke-width="5.5"/>
<ellipse cx="1346" cy="450" rx="11.5" ry="11" fill="#0a97d9" stroke="#ee1020" stroke-width="5.5"/>
<rect x="1375.5" y="403.5" width="23.0" height="23.0" fill="#79b51c"/>
<rect x="1365.5" y="422.5" width="23.0" height="23.0" fill="#79b51c"/>
<path d="M1378.5,336L1402.25,323.5L1402.25,348.5Z" fill="#d4141f"/>
<path d="M1392.5,352L1416.25,339.5L1416.25,364.5Z" fill="#d4141f"/>
<path d="M1377.5,384L1401.25,371.5L1401.25,396.5Z" fill="#d4141f"/>
<path d="M1425.7,312.7L1442.3,329.3M1425.7,329.3L1442.3,312.7" stroke="#0a97d9" stroke-width="10" stroke-linecap="round" fill="none"/>
<ellipse cx="1442" cy="386" rx="13.5" ry="12.5" fill="#cc1622"/>
<path d="M1446.7,378.7L1463.3,395.3M1446.7,395.3L1463.3,378.7" stroke="#dc101e" stroke-width="10" stroke-linecap="round" fill="none"/>
<ellipse cx="1448" cy="433" rx="14.0" ry="12.7" fill="#0a97d9"/>
<ellipse cx="1458" cy="462" rx="14.0" ry="12.7" fill="#0a97d9"/>
<path d="M1537.7,477.7L1554.3,494.3M1537.7,494.3L1554.3,477.7" stroke="#dc101e" stroke-width="10" stroke-linecap="round" fill="none"/>
<path d="M1608.7,492.7L1625.3,509.3M1608.7,509.3L1625.3,492.7" stroke="#0a97d9" stroke-width="10" stroke-linecap="round" fill="none"/>
<path d="M1607,491L1627,511M1607,511L1627,491" stroke="#e0101e" stroke-width="4" stroke-linecap="round" fill="none"/>
<path d="M1616.7,463.7L1633.3,480.3M1616.7,480.3L1633.3,463.7" stroke="#0a97d9" stroke-width="10" stroke-linecap="round" fill="none"/>
<ellipse cx="1629" cy="464" rx="14.0" ry="12.7" fill="#0a97d9"/>
<ellipse cx="1650" cy="481" rx="14.0" ry="12.7" fill="#0a97d9"/>
<path d="M1661.7,472.7L1678.3,489.3M1661.7,489.3L1678.3,472.7" stroke="#0a97d9" stroke-width="10" stroke-linecap="round" fill="none"/>
<path d="M1658.7,443.7L1675.3,460.3M1658.7,460.3L1675.3,443.7" stroke="#0a97d9" stroke-width="10" stroke-linecap="round" fill="none"/>
<path d="M1657,442L1677,462M1657,462L1677,442" stroke="#e0101e" stroke-width="4" stroke-linecap="round" fill="none"/>
<path d="M216.7,1218.7L233.3,1235.3M216.7,1235.3L233.3,1218.7" stroke="#0a97d9" stroke-width="10" stroke-linecap="round" fill="none"/>
<path d="M214.7,1249.7L231.3,1266.3M214.7,1266.3L231.3,1249.7" stroke="#dc101e" stroke-width="10" stroke-linecap="round" fill="none"/>
<ellipse cx="243" cy="1284" rx="14.0" ry="12.7" fill="#0a97d9"/>
<path d="M212.7,1310.7L229.3,1327.3M212.7,1327.3L229.3,1310.7" stroke="#0a97d9" stroke-width="10" stroke-linecap="round" fill="none"/>
<path d="M256.7,1335.7L273.3,1352.3M256.7,1352.3L273.3,1335.7" stroke="#0a97d9" stroke-width="10" stroke-linecap="round" fill="none"/>
<ellipse cx="207" cy="1369" rx="14.0" ry="12.7" fill="#0a97d9"/>
<ellipse cx="196" cy="1379" rx="14.0" ry="12.7" fill="#0a97d9"/>
<ellipse cx="184" cy="1391" rx="14.0" ry="12.7" fill="#0a97d9"/>
<ellipse cx="221" cy="1409" rx="14.0" ry="12.7" fill="#0a97d9"/>
<path d="M321.7,1203.7L338.3,1220.3M321.7,1220.3L338.3,1203.7" stroke="#0a97d9" stroke-width="10" stroke-linecap="round" fill="none"/>
<path d="M333.7,1181.7L350.3,1198.3M333.7,1198.3L350.3,1181.7" stroke="#0a97d9" stroke-width="10" stroke-linecap="round" fill="none"/>
<ellipse cx="336" cy="1157" rx="14.0" ry="12.7" fill="#0a97d9"/>
<path d="M327.7,1113.7L344.3,1130.3M327.7,1130.3L344.3,1113.7" stroke="#dc101e" stroke-width="10" stroke-linecap="round" fill="none"/>
<ellipse cx="336" cy="1137" rx="14.0" ry="12.7" fill="#0a97d9"/>
<ellipse cx="380" cy="1175" rx="14.0" ry="12.7" fill="#0a97d9"/>
<path d="M371.7,1123.7L388.3,1140.3M371.7,1140.3L388.3,1123.7" stroke="#0a97d9" stroke-width="10" stroke-linecap="round" fill="none"/>
<path d="M388.7,1136.7L405.3,1153.3M388.7,1153.3L405.3,1136.7" stroke="#dc101e" stroke-width="10" stroke-linecap="round" fill="none"/>
<ellipse cx="395" cy="1120" rx="14.0" ry="12.7" fill="#0a97d9"/>
<ellipse cx="410" cy="1140" rx="14.0" ry="12.7" fill="#0a97d9"/>
<ellipse cx="431" cy="1112" rx="11.5" ry="11" fill="#0a97d9" stroke="#ee1020" stroke-width="5.5"/>
<path d="M441.7,1163.7L458.3,1180.3M441.7,1180.3L458.3,1163.7" stroke="#0a97d9" stroke-width="10" stroke-linecap="round" fill="none"/>
<path d="M440,1162L460,1182M440,1182L460,1162" stroke="#e0101e" stroke-width="4" stroke-linecap="round" fill="none"/>
<path d="M453.7,1111.7L470.3,1128.3M453.7,1128.3L470.3,1111.7" stroke="#0a97d9" stroke-width="10" stroke-linecap="round" fill="none"/>
<ellipse cx="462" cy="1137" rx="14.0" ry="12.7" fill="#0a97d9"/>
<path d="M466.7,1146.7L483.3,1163.3M466.7,1163.3L483.3,1146.7" stroke="#dc101e" stroke-width="10" stroke-linecap="round" fill="none"/>
<path d="M471.7,1111.7L488.3,1128.3M471.7,1128.3L488.3,1111.7" stroke="#0a97d9" stroke-width="10" stroke-linecap="round" fill="none"/>
<path d="M483.7,1103.7L500.3,1120.3M483.7,1120.3L500.3,1103.7" stroke="#0a97d9" stroke-width="10" stroke-linecap="round" fill="none"/>
<ellipse cx="487" cy="1132" rx="14.0" ry="12.7" fill="#0a97d9"/>
<path d="M506.7,1128.7L523.3,1145.3M506.7,1145.3L523.3,1128.7" stroke="#dc101e" stroke-width="10" stroke-linecap="round" fill="none"/>
<path d="M506.7,1103.7L523.3,1120.3M506.7,1120.3L523.3,1103.7" stroke="#0a97d9" stroke-width="10" stroke-linecap="round" fill="none"/>
<ellipse cx="507" cy="1150" rx="14.0" ry="12.7" fill="#0a97d9"/>
<path d="M548.7,1051.7L565.3,1068.3M548.7,1068.3L565.3,1051.7" stroke="#dc101e" stroke-width="10" stroke-linecap="round" fill="none"/>
<ellipse cx="552" cy="1132" rx="14.0" ry="12.7" fill="#0a97d9"/>
<ellipse cx="565" cy="1135" rx="14.0" ry="12.7" fill="#0a97d9"/>
<ellipse cx="557" cy="1165" rx="13.5" ry="12.5" fill="#cc1622"/>
<ellipse cx="559" cy="1211" rx="11.5" ry="11" fill="#0a97d9" stroke="#ee1020" stroke-width="5.5"/>
<path d="M573.7,1116.7L590.3,1133.3M573.7,1133.3L590.3,1116.7" stroke="#0a97d9" stroke-width="10" stroke-linecap="round" fill="none"/>
<path d="M606.7,1068.7L623.3,1085.3M606.7,1085.3L623.3,1068.7" stroke="#0a97d9" stroke-width="10" stroke-linecap="round" fill="none"/>
<path d="M643.7,1066.7L660.3,1083.3M643.7,1083.3L660.3,1066.7" stroke="#0a97d9" stroke-width="10" stroke-linecap="round" fill="none"/>
<path d="M671.7,1063.7L688.3,1080.3M671.7,1080.3L688.3,1063.7" stroke="#0a97d9" stroke-width="10" stroke-linecap="round" fill="none"/>
<path d="M598.7,1096.7L615.3,1113.3M598.7,1113.3L615.3,1096.7" stroke="#0a97d9" stroke-width="10" stroke-linecap="round" fill="none"/>
<ellipse cx="620" cy="1105" rx="14.0" ry="12.7" fill="#0a97d9"/>
<path d="M626.7,1101.7L643.3,1118.3M626.7,1118.3L643.3,1101.7" stroke="#0a97d9" stroke-width="10" stroke-linecap="round" fill="none"/>
<ellipse cx="677" cy="1107" rx="14.0" ry="12.7" fill="#0a97d9"/>
<path d="M673.7,1106.7L690.3,1123.3M673.7,1123.3L690.3,1106.7" stroke="#0a97d9" stroke-width="10" stroke-linecap="round" fill="none"/>
<ellipse cx="622" cy="1132" rx="11.5" ry="11" fill="#0a97d9" stroke="#ee1020" stroke-width="5.5"/>
<path d="M643.7,1146.7L660.3,1163.3M643.7,1163.3L660.3,1146.7" stroke="#0a97d9" stroke-width="10" stroke-linecap="round" fill="none"/>
<path d="M642,1145L662,1165M642,1165L662,1145" stroke="#e0101e" stroke-width="4" stroke-linecap="round" fill="none"/>
<path d="M673.7,1121.7L690.3,1138.3M673.7,1138.3L690.3,1121.7" stroke="#0a97d9" stroke-width="10" stroke-linecap="round" fill="none"/>
<path d="M672,1120L692,1140M672,1140L692,1120" stroke="#e0101e" stroke-width="4" stroke-linecap="round" fill="none"/>
<path d="M698.7,1143.7L715.3,1160.3M698.7,1160.3L715.3,1143.7" stroke="#0a97d9" stroke-width="10" stroke-linecap="round" fill="none"/>
<path d="M697,1142L717,1162M697,1162L717,1142" stroke="#e0101e" stroke-width="4" stroke-linecap="round" fill="none"/>
<path d="M715.7,1106.7L732.3,1123.3M715.7,1123.3L732.3,1106.7" stroke="#0a97d9" stroke-width="10" stroke-linecap="round" fill="none"/>
<path d="M716.7,1143.7L733.3,1160.3M716.7,1160.3L733.3,1143.7" stroke="#dc101e" stroke-width="10" stroke-linecap="round" fill="none"/>
<ellipse cx="720" cy="1162" rx="11.5" ry="11" fill="#0a97d9" stroke="#ee1020" stroke-width="5.5"/>
<path d="M744.7,1230.7L761.3,1247.3M744.7,1247.3L761.3,1230.7" stroke="#0a97d9" stroke-width="10" stroke-linecap="round" fill="none"/>
<path d="M778.7,1230.7L795.3,1247.3M778.7,1247.3L795.3,1230.7" stroke="#0a97d9" stroke-width="10" stroke-linecap="round" fill="none"/>
<path d="M821.7,1086.7L838.3,1103.3M821.7,1103.3L838.3,1086.7" stroke="#0a97d9" stroke-width="10" stroke-linecap="round" fill="none"/>
<path d="M811.7,1116.7L828.3,1133.3M811.7,1133.3L828.3,1116.7" stroke="#0a97d9" stroke-width="10" stroke-linecap="round" fill="none"/>
<ellipse cx="822" cy="1115" rx="14.0" ry="12.7" fill="#0a97d9"/>
<path d="M831.7,1121.7L848.3,1138.3M831.7,1138.3L848.3,1121.7" stroke="#dc101e" stroke-width="10" stroke-linecap="round" fill="none"/>
<ellipse cx="867" cy="1137" rx="14.0" ry="12.7" fill="#0a97d9"/>
<path d="M865.7,1096.7L882.3,1113.3M865.7,1113.3L882.3,1096.7" stroke="#0a97d9" stroke-width="10" stroke-linecap="round" fill="none"/>
<path d="M887.7,1176.7L904.3,1193.3M887.7,1193.3L904.3,1176.7" stroke="#0a97d9" stroke-width="10" stroke-linecap="round" fill="none"/>
<path d="M902.7,1123.7L919.3,1140.3M902.7,1140.3L919.3,1123.7" stroke="#dc101e" stroke-width="10" stroke-linecap="round" fill="none"/>
<path d="M902.7,1051.7L919.3,1068.3M902.7,1068.3L919.3,1051.7" stroke="#0a97d9" stroke-width="10" stroke-linecap="round" fill="none"/>
<path d="M901.7,1216.7L918.3,1233.3M901.7,1233.3L918.3,1216.7" stroke="#dc101e" stroke-width="10" stroke-linecap="round" fill="none"/>
<ellipse cx="930" cy="1185" rx="11.5" ry="11" fill="#0a97d9" stroke="#ee1020" stroke-width="5.5"/>
<path d="M953.7,1038.7L970.3,1055.3M953.7,1055.3L970.3,1038.7" stroke="#dc101e" stroke-width="10" stroke-linecap="round" fill="none"/>
<path d="M951.7,1076.7L968.3,1093.3M951.7,1093.3L968.3,1076.7" stroke="#0a97d9" stroke-width="10" stroke-linecap="round" fill="none"/>
<ellipse cx="967" cy="1077" rx="14.0" ry="12.7" fill="#0a97d9"/>
<ellipse cx="991" cy="1180" rx="14.0" ry="12.7" fill="#0a97d9"/>
<path d="M997.7,1061.7L1014.3,1078.3M997.7,1078.3L1014.3,1061.7" stroke="#dc101e" stroke-width="10" stroke-linecap="round" fill="none"/>
<ellipse cx="1006" cy="1150" rx="14.0" ry="12.7" fill="#0a97d9"/>
<ellipse cx="1046" cy="1099" rx="14.0" ry="12.7" fill="#0a97d9"/>
<ellipse cx="1108" cy="1132" rx="13.5" ry="12.5" fill="#cc1622"/>
<path d="M1143.7,1086.7L1160.3,1103.3M1143.7,1103.3L1160.3,1086.7" stroke="#0a97d9" stroke-width="10" stroke-linecap="round" fill="none"/>
<ellipse cx="1151" cy="1123" rx="14.0" ry="12.7" fill="#0a97d9"/>
<path d="M1163.7,1133.7L1180.3,1150.3M1163.7,1150.3L1180.3,1133.7" stroke="#0a97d9" stroke-width="10" stroke-linecap="round" fill="none"/>
<ellipse cx="1207" cy="997" rx="11.5" ry="11" fill="#0a97d9" stroke="#ee1020" stroke-width="5.5"/>
<ellipse cx="1226" cy="1095" rx="13.5" ry="12.5" fill="#cc1622"/>
<ellipse cx="1290" cy="1054" rx="13.5" ry="12.5" fill="#cc1622"/>
<ellipse cx="1341" cy="959" rx="14.0" ry="12.7" fill="#0a97d9"/>
<path d="M1333.7,1029.7L1350.3,1046.3M1333.7,1046.3L1350.3,1029.7" stroke="#0a97d9" stroke-width="10" stroke-linecap="round" fill="none"/>
<path d="M1332,1028L1352,1048M1332,1048L1352,1028" stroke="#e0101e" stroke-width="4" stroke-linecap="round" fill="none"/>
<ellipse cx="1339" cy="1106" rx="11.5" ry="11" fill="#0a97d9" stroke="#ee1020" stroke-width="5.5"/>
<ellipse cx="1345" cy="1134" rx="11.5" ry="11" fill="#0a97d9" stroke="#ee1020" stroke-width="5.5"/>
<rect x="1373.5" y="1013.5" width="23.0" height="23.0" fill="#79b51c"/>
<rect x="1364.5" y="1106.5" width="23.0" height="23.0" fill="#79b51c"/>
<path d="M1372.5,957L1396.25,944.5L1396.25,969.5Z" fill="#d4141f"/>
<path d="M1384.5,1009L1408.25,996.5L1408.25,1021.5Z" fill="#d4141f"/>
<path d="M1409.5,1046L1433.25,1033.5L1433.25,1058.5Z" fill="#d4141f"/>
<path d="M1420.7,870.7L1437.3,887.3M1420.7,887.3L1437.3,870.7" stroke="#0a97d9" stroke-width="10" stroke-linecap="round" fill="none"/>
<ellipse cx="1440" cy="1038" rx="13.5" ry="12.5" fill="#cc1622"/>
<path d="M1439.7,1066.7L1456.3,1083.3M1439.7,1083.3L1456.3,1066.7" stroke="#dc101e" stroke-width="10" stroke-linecap="round" fill="none"/>
<ellipse cx="1450" cy="1057" rx="14.0" ry="12.7" fill="#0a97d9"/>
<ellipse cx="1454" cy="1091" rx="14.0" ry="12.7" fill="#0a97d9"/>
<ellipse cx="1615" cy="1052" rx="14.0" ry="12.7" fill="#0a97d9"/>
<path d="M1601.7,1112.7L1618.3,1129.3M1601.7,1129.3L1618.3,1112.7" stroke="#dc101e" stroke-width="10" stroke-linecap="round" fill="none"/>
<path d="M1618.7,1127.7L1635.3,1144.3M1618.7,1144.3L1635.3,1127.7" stroke="#0a97d9" stroke-width="10" stroke-linecap="round" fill="none"/>
<path d="M1608.7,1153.7L1625.3,1170.3M1608.7,1170.3L1625.3,1153.7" stroke="#0a97d9" stroke-width="10" stroke-linecap="round" fill="none"/>
<path d="M1607,1152L1627,1172M1607,1172L1627,1152" stroke="#e0101e" stroke-width="4" stroke-linecap="round" fill="none"/>
<ellipse cx="1640" cy="1107" rx="14.0" ry="12.7" fill="#0a97d9"/>
<path d="M1649.7,1076.7L1666.3,1093.3M1649.7,1093.3L1666.3,1076.7" stroke="#dc101e" stroke-width="10" stroke-linecap="round" fill="none"/>
<path d="M1653.7,1097.7L1670.3,1114.3M1653.7,1114.3L1670.3,1097.7" stroke="#0a97d9" stroke-width="10" stroke-linecap="round" fill="none"/>
<polyline points="201.5,2059.0 207.5,2031.0 240.0,2070.0 250.0,2000.0 263.5,2117.5 277.5,2042.5 297.5,2175.0 305.0,2095.0 325.0,2175.0 342.5,2050.0 348.5,2010.0 355.0,2090.0 362.5,2177.5 370.0,2080.0 380.0,2050.0 400.0,2027.5 427.5,2065.0 442.5,2005.0 452.5,2020.0 470.0,2050.0 497.5,2140.0 507.5,2160.0 537.5,2060.0 547.5,2120.0 582.5,2082.5 592.5,2125.0 600.0,2060.0 607.5,2120.0 635.0,2095.0 650.0,2130.0 667.5,2100.0 678.5,2159.0 692.5,2172.5 714.0,2232.5 731.0,2120.0 750.0,2222.5 760.0,2103.5 770.0,2085.0 777.5,2062.5 827.5,2015.0 885.0,2025.0 906.0,1997.5 930.0,2022.5 940.0,1992.5 980.0,1992.5 1005.0,2016.0 1060.0,2016.0 1132.5,1960.0 1165.0,2005.0 1195.0,2030.0 1210.0,2020.0 1229.0,1937.5 1248.5,2037.5 1265.0,1950.0 1285.0,2040.0 1302.5,1950.0 1325.0,1949.0 1350.0,1952.5 1556.0,2002.5 1587.5,2080.0 1595.0,2110.0 1605.0,2224.0 1670.0,2102.5 1684.0,2080.0" fill="none" stroke="#8583c3" stroke-width="4.8" stroke-linejoin="round" />
<rect x="194.1" y="2053.2" width="14.8" height="11.6" rx="3" fill="#0a9cc6"/>
<rect x="196.6" y="2064.2" width="14.8" height="11.6" rx="3" fill="#0a9cc6"/>
<rect x="200.1" y="2024.2" width="14.8" height="11.6" rx="3" fill="#0a9cc6"/>
<rect x="208.6" y="2027.7" width="14.8" height="11.6" rx="3" fill="#0a9cc6"/>
<rect x="222.6" y="2012.7" width="14.8" height="11.6" rx="3" fill="#0a9cc6"/>
<rect x="223.6" y="2039.2" width="14.8" height="11.6" rx="3" fill="#0a9cc6"/>
<rect x="223.6" y="2074.2" width="14.8" height="11.6" rx="3" fill="#0a9cc6"/>
<rect x="242.6" y="1993.2" width="14.8" height="11.6" rx="3" fill="#0a9cc6"/>
<rect x="242.6" y="2070.2" width="14.8" height="11.6" rx="3" fill="#0a9cc6"/>
<rect x="255.1" y="2080.2" width="14.8" height="11.6" rx="3" fill="#0a9cc6"/>
<rect x="256.1" y="2111.7" width="14.8" height="11.6" rx="3" fill="#0a9cc6"/>
<rect x="270.1" y="2036.7" width="14.8" height="11.6" rx="3" fill="#0a9cc6"/>
<rect x="286.6" y="2066.7" width="14.8" height="11.6" rx="3" fill="#0a9cc6"/>
<rect x="286.6" y="2170.7" width="14.8" height="11.6" rx="3" fill="#0a9cc6"/>
<rect x="292.6" y="2089.2" width="14.8" height="11.6" rx="3" fill="#0a9cc6"/>
<rect x="306.6" y="2091.7" width="14.8" height="11.6" rx="3" fill="#0a9cc6"/>
<rect x="308.6" y="2120.2" width="14.8" height="11.6" rx="3" fill="#0a9cc6"/>
<rect x="317.6" y="2166.7" width="14.8" height="11.6" rx="3" fill="#0a9cc6"/>
<rect x="320.1" y="2179.2" width="14.8" height="11.6" rx="3" fill="#0a9cc6"/>
<rect x="320.1" y="2074.2" width="14.8" height="11.6" rx="3" fill="#0a9cc6"/>
<rect x="325.1" y="2099.2" width="14.8" height="11.6" rx="3" fill="#0a9cc6"/>
<rect x="327.6" y="2080.7" width="14.8" height="11.6" rx="3" fill="#0a9cc6"/>
<rect x="341.1" y="2003.2" width="14.8" height="11.6" rx="3" fill="#0a9cc6"/>
<rect x="337.6" y="2025.2" width="14.8" height="11.6" rx="3" fill="#0a9cc6"/>
<rect x="342.6" y="2021.7" width="14.8" height="11.6" rx="3" fill="#0a9cc6"/>
<rect x="345.1" y="2041.7" width="14.8" height="11.6" rx="3" fill="#0a9cc6"/>
<rect x="348.6" y="2083.2" width="14.8" height="11.6" rx="3" fill="#0a9cc6"/>
<rect x="348.6" y="2176.7" width="14.8" height="11.6" rx="3" fill="#0a9cc6"/>
<rect x="353.6" y="2076.7" width="14.8" height="11.6" rx="3" fill="#0a9cc6"/>
<rect x="355.1" y="2042.7" width="14.8" height="11.6" rx="3" fill="#0a9cc6"/>
<rect x="370.1" y="2041.7" width="14.8" height="11.6" rx="3" fill="#0a9cc6"/>
<rect x="371.6" y="2053.2" width="14.8" height="11.6" rx="3" fill="#0a9cc6"/>
<rect x="380.1" y="2040.2" width="14.8" height="11.6" rx="3" fill="#0a9cc6"/>
<rect x="391.1" y="2006.7" width="14.8" height="11.6" rx="3" fill="#0a9cc6"/>
<rect x="392.6" y="2051.7" width="14.8" height="11.6" rx="3" fill="#0a9cc6"/>
<rect x="412.6" y="2033.2" width="14.8" height="11.6" rx="3" fill="#0a9cc6"/>
<rect x="415.1" y="2049.2" width="14.8" height="11.6" rx="3" fill="#0a9cc6"/>
<rect x="423.6" y="2039.2" width="14.8" height="11.6" rx="3" fill="#0a9cc6"/>
<rect x="430.1" y="1996.7" width="14.8" height="11.6" rx="3" fill="#0a9cc6"/>
<rect x="430.1" y="2010.2" width="14.8" height="11.6" rx="3" fill="#0a9cc6"/>
<rect x="431.6" y="2039.2" width="14.8" height="11.6" rx="3" fill="#0a9cc6"/>
<rect x="432.6" y="2051.7" width="14.8" height="11.6" rx="3" fill="#0a9cc6"/>
<rect x="442.6" y="1978.2" width="14.8" height="11.6" rx="3" fill="#0a9cc6"/>
<rect x="447.6" y="2012.7" width="14.8" height="11.6" rx="3" fill="#0a9cc6"/>
<rect x="455.1" y="2037.7" width="14.8" height="11.6" rx="3" fill="#0a9cc6"/>
<rect x="461.1" y="2021.7" width="14.8" height="11.6" rx="3" fill="#0a9cc6"/>
<rect x="475.1" y="2028.2" width="14.8" height="11.6" rx="3" fill="#0a9cc6"/>
<rect x="473.6" y="2071.7" width="14.8" height="11.6" rx="3" fill="#0a9cc6"/>
<rect x="485.1" y="2078.2" width="14.8" height="11.6" rx="3" fill="#0a9cc6"/>
<rect x="490.1" y="2030.2" width="14.8" height="11.6" rx="3" fill="#0a9cc6"/>
<rect x="490.1" y="2134.2" width="14.8" height="11.6" rx="3" fill="#0a9cc6"/>
<rect x="503.6" y="2154.2" width="14.8" height="11.6" rx="3" fill="#0a9cc6"/>
<rect x="520.1" y="2052.7" width="14.8" height="11.6" rx="3" fill="#0a9cc6"/>
<rect x="530.1" y="2049.2" width="14.8" height="11.6" rx="3" fill="#0a9cc6"/>
<rect x="530.1" y="2064.2" width="14.8" height="11.6" rx="3" fill="#0a9cc6"/>
<rect x="533.6" y="2072.7" width="14.8" height="11.6" rx="3" fill="#0a9cc6"/>
<rect x="531.1" y="2104.2" width="14.8" height="11.6" rx="3" fill="#0a9cc6"/>
<rect x="531.1" y="2122.7" width="14.8" height="11.6" rx="3" fill="#0a9cc6"/>
<rect x="528.6" y="2140.7" width="14.8" height="11.6" rx="3" fill="#0a9cc6"/>
<rect x="542.6" y="2112.7" width="14.8" height="11.6" rx="3" fill="#0a9cc6"/>
<rect x="575.1" y="2102.7" width="14.8" height="11.6" rx="3" fill="#0a9cc6"/>
<rect x="581.6" y="2075.2" width="14.8" height="11.6" rx="3" fill="#0a9cc6"/>
<rect x="584.1" y="2094.2" width="14.8" height="11.6" rx="3" fill="#0a9cc6"/>
<rect x="582.6" y="2119.2" width="14.8" height="11.6" rx="3" fill="#0a9cc6"/>
<rect x="582.6" y="2139.2" width="14.8" height="11.6" rx="3" fill="#0a9cc6"/>
<rect x="586.1" y="2126.7" width="14.8" height="11.6" rx="3" fill="#0a9cc6"/>
<rect x="596.6" y="2051.7" width="14.8" height="11.6" rx="3" fill="#0a9cc6"/>
<rect x="595.1" y="2136.7" width="14.8" height="11.6" rx="3" fill="#0a9cc6"/>
<rect x="602.6" y="2118.2" width="14.8" height="11.6" rx="3" fill="#0a9cc6"/>
<rect x="607.6" y="2090.2" width="14.8" height="11.6" rx="3" fill="#0a9cc6"/>
<rect x="615.1" y="2086.7" width="14.8" height="11.6" rx="3" fill="#0a9cc6"/>
<rect x="627.6" y="2081.7" width="14.8" height="11.6" rx="3" fill="#0a9cc6"/>
<rect x="627.6" y="2101.7" width="14.8" height="11.6" rx="3" fill="#0a9cc6"/>
<rect x="627.6" y="2119.2" width="14.8" height="11.6" rx="3" fill="#0a9cc6"/>
<rect x="641.6" y="2128.2" width="14.8" height="11.6" rx="3" fill="#0a9cc6"/>
<rect x="656.6" y="2091.7" width="14.8" height="11.6" rx="3" fill="#0a9cc6"/>
<rect x="659.1" y="2130.2" width="14.8" height="11.6" rx="3" fill="#0a9cc6"/>
<rect x="667.6" y="2058.2" width="14.8" height="11.6" rx="3" fill="#0a9cc6"/>
<rect x="671.1" y="2153.2" width="14.8" height="11.6" rx="3" fill="#0a9cc6"/>
<rect x="684.1" y="2127.7" width="14.8" height="11.6" rx="3" fill="#0a9cc6"/>
<rect x="685.1" y="2139.2" width="14.8" height="11.6" rx="3" fill="#0a9cc6"/>
<rect x="684.1" y="2164.2" width="14.8" height="11.6" rx="3" fill="#0a9cc6"/>
<rect x="690.1" y="2154.2" width="14.8" height="11.6" rx="3" fill="#0a9cc6"/>
<rect x="706.6" y="2229.2" width="14.8" height="11.6" rx="3" fill="#0a9cc6"/>
<rect x="710.1" y="2184.2" width="14.8" height="11.6" rx="3" fill="#0a9cc6"/>
<rect x="714.1" y="2169.2" width="14.8" height="11.6" rx="3" fill="#0a9cc6"/>
<rect x="717.6" y="2151.7" width="14.8" height="11.6" rx="3" fill="#0a9cc6"/>
<rect x="721.6" y="2139.2" width="14.8" height="11.6" rx="3" fill="#0a9cc6"/>
<rect x="721.6" y="2115.7" width="14.8" height="11.6" rx="3" fill="#0a9cc6"/>
<rect x="723.6" y="2176.7" width="14.8" height="11.6" rx="3" fill="#0a9cc6"/>
<rect x="727.6" y="2191.7" width="14.8" height="11.6" rx="3" fill="#0a9cc6"/>
<rect x="728.6" y="2100.2" width="14.8" height="11.6" rx="3" fill="#0a9cc6"/>
<rect x="735.1" y="2214.2" width="14.8" height="11.6" rx="3" fill="#0a9cc6"/>
<rect x="746.6" y="2216.7" width="14.8" height="11.6" rx="3" fill="#0a9cc6"/>
<rect x="752.6" y="2097.7" width="14.8" height="11.6" rx="3" fill="#0a9cc6"/>
<rect x="770.1" y="2056.7" width="14.8" height="11.6" rx="3" fill="#0a9cc6"/>
<rect x="773.6" y="2017.7" width="14.8" height="11.6" rx="3" fill="#0a9cc6"/>
<rect x="802.6" y="2049.2" width="14.8" height="11.6" rx="3" fill="#0a9cc6"/>
<rect x="812.6" y="1994.2" width="14.8" height="11.6" rx="3" fill="#0a9cc6"/>
<rect x="844.1" y="2016.7" width="14.8" height="11.6" rx="3" fill="#0a9cc6"/>
<rect x="869.1" y="2003.2" width="14.8" height="11.6" rx="3" fill="#0a9cc6"/>
<rect x="881.1" y="2008.2" width="14.8" height="11.6" rx="3" fill="#0a9cc6"/>
<rect x="881.6" y="2033.2" width="14.8" height="11.6" rx="3" fill="#0a9cc6"/>
<rect x="892.6" y="2000.2" width="14.8" height="11.6" rx="3" fill="#0a9cc6"/>
<rect x="898.6" y="1981.7" width="14.8" height="11.6" rx="3" fill="#0a9cc6"/>
<rect x="899.1" y="1994.2" width="14.8" height="11.6" rx="3" fill="#0a9cc6"/>
<rect x="922.6" y="1982.7" width="14.8" height="11.6" rx="3" fill="#0a9cc6"/>
<rect x="922.6" y="2019.2" width="14.8" height="11.6" rx="3" fill="#0a9cc6"/>
<rect x="937.6" y="1981.7" width="14.8" height="11.6" rx="3" fill="#0a9cc6"/>
<rect x="973.6" y="2006.7" width="14.8" height="11.6" rx="3" fill="#0a9cc6"/>
<rect x="975.1" y="1974.2" width="14.8" height="11.6" rx="3" fill="#0a9cc6"/>
<rect x="989.1" y="2018.2" width="14.8" height="11.6" rx="3" fill="#0a9cc6"/>
<rect x="1002.6" y="1994.2" width="14.8" height="11.6" rx="3" fill="#0a9cc6"/>
<rect x="1048.6" y="1990.7" width="14.8" height="11.6" rx="3" fill="#0a9cc6"/>
<rect x="1056.6" y="1988.2" width="14.8" height="11.6" rx="3" fill="#0a9cc6"/>
<rect x="1056.6" y="2014.2" width="14.8" height="11.6" rx="3" fill="#0a9cc6"/>
<rect x="1097.6" y="1988.2" width="14.8" height="11.6" rx="3" fill="#0a9cc6"/>
<rect x="1109.1" y="1954.2" width="14.8" height="11.6" rx="3" fill="#0a9cc6"/>
<rect x="1126.1" y="1944.2" width="14.8" height="11.6" rx="3" fill="#0a9cc6"/>
<rect x="1151.6" y="2006.7" width="14.8" height="11.6" rx="3" fill="#0a9cc6"/>
<rect x="1157.6" y="2009.2" width="14.8" height="11.6" rx="3" fill="#0a9cc6"/>
<rect x="1162.6" y="1959.2" width="14.8" height="11.6" rx="3" fill="#0a9cc6"/>
<rect x="1166.1" y="1989.2" width="14.8" height="11.6" rx="3" fill="#0a9cc6"/>
<rect x="1175.1" y="2009.2" width="14.8" height="11.6" rx="3" fill="#0a9cc6"/>
<rect x="1182.6" y="1991.7" width="14.8" height="11.6" rx="3" fill="#0a9cc6"/>
<rect x="1184.1" y="2016.7" width="14.8" height="11.6" rx="3" fill="#0a9cc6"/>
<rect x="1187.6" y="2029.2" width="14.8" height="11.6" rx="3" fill="#0a9cc6"/>
<rect x="1197.6" y="1954.2" width="14.8" height="11.6" rx="3" fill="#0a9cc6"/>
<rect x="1195.1" y="1979.2" width="14.8" height="11.6" rx="3" fill="#0a9cc6"/>
<rect x="1202.6" y="2014.2" width="14.8" height="11.6" rx="3" fill="#0a9cc6"/>
<rect x="1210.1" y="1946.7" width="14.8" height="11.6" rx="3" fill="#0a9cc6"/>
<rect x="1210.1" y="1984.2" width="14.8" height="11.6" rx="3" fill="#0a9cc6"/>
<rect x="1221.6" y="1929.2" width="14.8" height="11.6" rx="3" fill="#0a9cc6"/>
<rect x="1227.6" y="1973.2" width="14.8" height="11.6" rx="3" fill="#0a9cc6"/>
<rect x="1237.6" y="2031.7" width="14.8" height="11.6" rx="3" fill="#0a9cc6"/>
<rect x="1241.1" y="1991.7" width="14.8" height="11.6" rx="3" fill="#0a9cc6"/>
<rect x="1244.1" y="2049.2" width="14.8" height="11.6" rx="3" fill="#0a9cc6"/>
<rect x="1247.6" y="1968.2" width="14.8" height="11.6" rx="3" fill="#0a9cc6"/>
<rect x="1257.6" y="1941.7" width="14.8" height="11.6" rx="3" fill="#0a9cc6"/>
<rect x="1255.1" y="1970.2" width="14.8" height="11.6" rx="3" fill="#0a9cc6"/>
<rect x="1267.6" y="2016.7" width="14.8" height="11.6" rx="3" fill="#0a9cc6"/>
<rect x="1276.6" y="2035.7" width="14.8" height="11.6" rx="3" fill="#0a9cc6"/>
<rect x="1281.1" y="1941.7" width="14.8" height="11.6" rx="3" fill="#0a9cc6"/>
<rect x="1302.6" y="1950.2" width="14.8" height="11.6" rx="3" fill="#0a9cc6"/>
<rect x="1324.1" y="1926.7" width="14.8" height="11.6" rx="3" fill="#0a9cc6"/>
<rect x="1361.6" y="1975.2" width="14.8" height="11.6" rx="3" fill="#0a9cc6"/>
<rect x="1548.6" y="1972.7" width="14.8" height="11.6" rx="3" fill="#0a9cc6"/>
<rect x="1544.1" y="2016.7" width="14.8" height="11.6" rx="3" fill="#0a9cc6"/>
<rect x="1584.1" y="2085.7" width="14.8" height="11.6" rx="3" fill="#0a9cc6"/>
<rect x="1597.6" y="2218.2" width="14.8" height="11.6" rx="3" fill="#0a9cc6"/>
<rect x="1662.6" y="2096.7" width="14.8" height="11.6" rx="3" fill="#0a9cc6"/>
<rect x="1666.6" y="2090.7" width="14.8" height="11.6" rx="3" fill="#0a9cc6"/>
<rect x="1676.6" y="2060.7" width="14.8" height="11.6" rx="3" fill="#0a9cc6"/>
<polyline points="162.5,2882.5 185.0,2727.5 200.0,2720.0 200.0,2750.0 205.0,2712.5 269.0,2688.5 381.0,2672.5 410.0,2665.0 439.0,2685.0 458.5,2712.5 496.5,2745.0 556.5,2786.0 587.5,2725.0 598.5,2780.0 620.0,2802.5 656.5,2771.5 682.5,2778.5 695.0,2810.0 715.0,2777.5 722.5,2795.0 736.0,2759.0 751.0,2771.0 771.5,2833.5 776.0,2795.0 790.0,2800.0 805.0,2746.5 815.0,2685.0 821.5,2743.5 834.0,2716.0 842.5,2670.0 863.5,2672.5 882.5,2666.5 930.0,2656.5 1003.5,2652.5 1087.5,2647.5 1220.0,2641.5 1393.5,2633.5 1420.0,2633.5" fill="none" stroke="#8886c6" stroke-width="4.8" stroke-linejoin="round" />
<rect x="152.8" y="2872.8" width="19.5" height="19.5" rx="2.5" fill="#0a9cc6"/>
<rect x="175.2" y="2717.8" width="19.5" height="19.5" rx="2.5" fill="#0a9cc6"/>
<rect x="190.2" y="2710.2" width="19.5" height="19.5" rx="2.5" fill="#0a9cc6"/>
<rect x="190.2" y="2740.2" width="19.5" height="19.5" rx="2.5" fill="#0a9cc6"/>
<rect x="195.2" y="2702.8" width="19.5" height="19.5" rx="2.5" fill="#0a9cc6"/>
<rect x="259.2" y="2678.8" width="19.5" height="19.5" rx="2.5" fill="#0a9cc6"/>
<rect x="371.2" y="2662.8" width="19.5" height="19.5" rx="2.5" fill="#0a9cc6"/>
<rect x="400.2" y="2655.2" width="19.5" height="19.5" rx="2.5" fill="#0a9cc6"/>
<rect x="429.2" y="2675.2" width="19.5" height="19.5" rx="2.5" fill="#0a9cc6"/>
<rect x="448.8" y="2702.8" width="19.5" height="19.5" rx="2.5" fill="#0a9cc6"/>
<rect x="486.8" y="2735.2" width="19.5" height="19.5" rx="2.5" fill="#0a9cc6"/>
<rect x="546.8" y="2776.2" width="19.5" height="19.5" rx="2.5" fill="#0a9cc6"/>
<rect x="577.8" y="2715.2" width="19.5" height="19.5" rx="2.5" fill="#0a9cc6"/>
<rect x="588.8" y="2770.2" width="19.5" height="19.5" rx="2.5" fill="#0a9cc6"/>
<rect x="610.2" y="2792.8" width="19.5" height="19.5" rx="2.5" fill="#0a9cc6"/>
<rect x="646.8" y="2761.8" width="19.5" height="19.5" rx="2.5" fill="#0a9cc6"/>
<rect x="672.8" y="2768.8" width="19.5" height="19.5" rx="2.5" fill="#0a9cc6"/>
<rect x="685.2" y="2800.2" width="19.5" height="19.5" rx="2.5" fill="#0a9cc6"/>
<rect x="705.2" y="2767.8" width="19.5" height="19.5" rx="2.5" fill="#0a9cc6"/>
<rect x="712.8" y="2785.2" width="19.5" height="19.5" rx="2.5" fill="#0a9cc6"/>
<rect x="726.2" y="2749.2" width="19.5" height="19.5" rx="2.5" fill="#0a9cc6"/>
<rect x="741.2" y="2761.2" width="19.5" height="19.5" rx="2.5" fill="#0a9cc6"/>
<rect x="761.8" y="2823.8" width="19.5" height="19.5" rx="2.5" fill="#0a9cc6"/>
<rect x="766.2" y="2785.2" width="19.5" height="19.5" rx="2.5" fill="#0a9cc6"/>
<rect x="780.2" y="2790.2" width="19.5" height="19.5" rx="2.5" fill="#0a9cc6"/>
<rect x="795.2" y="2736.8" width="19.5" height="19.5" rx="2.5" fill="#0a9cc6"/>
<rect x="805.2" y="2675.2" width="19.5" height="19.5" rx="2.5" fill="#0a9cc6"/>
<rect x="811.8" y="2733.8" width="19.5" height="19.5" rx="2.5" fill="#0a9cc6"/>
<rect x="824.2" y="2706.2" width="19.5" height="19.5" rx="2.5" fill="#0a9cc6"/>
<rect x="832.8" y="2660.2" width="19.5" height="19.5" rx="2.5" fill="#0a9cc6"/>
<rect x="853.8" y="2662.8" width="19.5" height="19.5" rx="2.5" fill="#0a9cc6"/>
<rect x="872.8" y="2656.8" width="19.5" height="19.5" rx="2.5" fill="#0a9cc6"/>
<rect x="920.2" y="2646.8" width="19.5" height="19.5" rx="2.5" fill="#0a9cc6"/>
<rect x="993.8" y="2642.8" width="19.5" height="19.5" rx="2.5" fill="#0a9cc6"/>
<rect x="1077.8" y="2637.8" width="19.5" height="19.5" rx="2.5" fill="#0a9cc6"/>
<rect x="1210.2" y="2631.8" width="19.5" height="19.5" rx="2.5" fill="#0a9cc6"/>
<rect x="1383.8" y="2623.8" width="19.5" height="19.5" rx="2.5" fill="#0a9cc6"/>
<rect x="1410.2" y="2623.8" width="19.5" height="19.5" rx="2.5" fill="#0a9cc6"/>
<polyline points="161.5,2927.5 190,3082 187.5,3020 203,3084 207.5,3052.5 270,3000 381,2969 411,2971.5 440,2971.5 457.5,2921.5 497.5,2963.5 556.5,2963.5 585,2921.5 596.5,2950 621.5,2950 660,2971.5 675,3025 695,3037.5 712.5,3017.5 720,3037.5 740,3017.5 742,3037 752,3017.5 772.5,3152.5 775,3105 785,3063.5 795,3105 806,3039 820,3020 820,2921.5 828.5,2988.5 841,2963.5 857.5,2982.5 884,2982.5 925,2958.5 1004,2960 1087.5,2963.5 1220,2952.5 1390,2941 1414,2921" fill="none" stroke="#ff0000" stroke-width="5.6" stroke-linejoin="round" />
<rect x="152.0" y="2918.0" width="19" height="19" rx="2" fill="#b31b6b"/>
<rect x="180.5" y="3072.5" width="19" height="19" rx="2" fill="#b31b6b"/>
<rect x="178.0" y="3010.5" width="19" height="19" rx="2" fill="#b31b6b"/>
<rect x="193.5" y="3074.5" width="19" height="19" rx="2" fill="#b31b6b"/>
<rect x="198.0" y="3043.0" width="19" height="19" rx="2" fill="#b31b6b"/>
<rect x="260.5" y="2990.5" width="19" height="19" rx="2" fill="#b31b6b"/>
<rect x="371.5" y="2959.5" width="19" height="19" rx="2" fill="#b31b6b"/>
<rect x="401.5" y="2962.0" width="19" height="19" rx="2" fill="#b31b6b"/>
<rect x="430.5" y="2962.0" width="19" height="19" rx="2" fill="#b31b6b"/>
<rect x="448.0" y="2912.0" width="19" height="19" rx="2" fill="#b31b6b"/>
<rect x="488.0" y="2954.0" width="19" height="19" rx="2" fill="#b31b6b"/>
<rect x="547.0" y="2954.0" width="19" height="19" rx="2" fill="#b31b6b"/>
<rect x="575.5" y="2912.0" width="19" height="19" rx="2" fill="#b31b6b"/>
<rect x="587.0" y="2940.5" width="19" height="19" rx="2" fill="#b31b6b"/>
<rect x="612.0" y="2940.5" width="19" height="19" rx="2" fill="#b31b6b"/>
<rect x="650.5" y="2962.0" width="19" height="19" rx="2" fill="#b31b6b"/>
<rect x="665.5" y="3015.5" width="19" height="19" rx="2" fill="#b31b6b"/>
<rect x="685.5" y="3028.0" width="19" height="19" rx="2" fill="#b31b6b"/>
<rect x="703.0" y="3008.0" width="19" height="19" rx="2" fill="#b31b6b"/>
<rect x="710.5" y="3028.0" width="19" height="19" rx="2" fill="#b31b6b"/>
<rect x="730.5" y="3008.0" width="19" height="19" rx="2" fill="#b31b6b"/>
<rect x="732.5" y="3027.5" width="19" height="19" rx="2" fill="#b31b6b"/>
<rect x="742.5" y="3008.0" width="19" height="19" rx="2" fill="#b31b6b"/>
<rect x="763.0" y="3143.0" width="19" height="19" rx="2" fill="#b31b6b"/>
<rect x="765.5" y="3095.5" width="19" height="19" rx="2" fill="#b31b6b"/>
<rect x="775.5" y="3054.0" width="19" height="19" rx="2" fill="#b31b6b"/>
<rect x="785.5" y="3095.5" width="19" height="19" rx="2" fill="#b31b6b"/>
<rect x="796.5" y="3029.5" width="19" height="19" rx="2" fill="#b31b6b"/>
<rect x="810.5" y="3010.5" width="19" height="19" rx="2" fill="#b31b6b"/>
<rect x="810.5" y="2912.0" width="19" height="19" rx="2" fill="#b31b6b"/>
<rect x="819.0" y="2979.0" width="19" height="19" rx="2" fill="#b31b6b"/>
<rect x="831.5" y="2954.0" width="19" height="19" rx="2" fill="#b31b6b"/>
<rect x="848.0" y="2973.0" width="19" height="19" rx="2" fill="#b31b6b"/>
<rect x="874.5" y="2973.0" width="19" height="19" rx="2" fill="#b31b6b"/>
<rect x="915.5" y="2949.0" width="19" height="19" rx="2" fill="#b31b6b"/>
<rect x="994.5" y="2950.5" width="19" height="19" rx="2" fill="#b31b6b"/>
<rect x="1078.0" y="2954.0" width="19" height="19" rx="2" fill="#b31b6b"/>
<rect x="1210.5" y="2943.0" width="19" height="19" rx="2" fill="#b31b6b"/>
<rect x="1380.5" y="2931.5" width="19" height="19" rx="2" fill="#b31b6b"/>
<rect x="1404.5" y="2911.5" width="19" height="19" rx="2" fill="#b31b6b"/>
<rect x="175.5" y="3066.5" width="19" height="19" rx="2" fill="#b31b6b"/>
<polyline points="225.0,3735.0 247.5,3735.0 276.0,3761.0 306.0,3755.0 330.0,3773.5 380.0,3773.5 406.5,3773.5 435.0,3819.0 451.0,3825.0 456.0,3791.0 461.0,3760.0 509.0,3719.0 555.0,3704.0 598.5,3689.0 609.0,3671.0 620.0,3685.0 635.0,3668.0 717.5,3668.0 773.5,3685.0 832.5,3656.5 881.0,3670.0 930.0,3647.5 969.0,3653.5 1009.0,3666.5" fill="none" stroke="#8886c6" stroke-width="4.4" stroke-linejoin="round" />
<rect x="218.8" y="3728.8" width="12.5" height="12.5" rx="3.5" fill="#0a9cc6"/>
<rect x="241.2" y="3728.8" width="12.5" height="12.5" rx="3.5" fill="#0a9cc6"/>
<rect x="269.8" y="3754.8" width="12.5" height="12.5" rx="3.5" fill="#0a9cc6"/>
<rect x="299.8" y="3748.8" width="12.5" height="12.5" rx="3.5" fill="#0a9cc6"/>
<rect x="323.8" y="3767.2" width="12.5" height="12.5" rx="3.5" fill="#0a9cc6"/>
<rect x="373.8" y="3767.2" width="12.5" height="12.5" rx="3.5" fill="#0a9cc6"/>
<rect x="400.2" y="3767.2" width="12.5" height="12.5" rx="3.5" fill="#0a9cc6"/>
<rect x="428.8" y="3812.8" width="12.5" height="12.5" rx="3.5" fill="#0a9cc6"/>
<rect x="444.8" y="3818.8" width="12.5" height="12.5" rx="3.5" fill="#0a9cc6"/>
<rect x="449.8" y="3784.8" width="12.5" height="12.5" rx="3.5" fill="#0a9cc6"/>
<rect x="454.8" y="3753.8" width="12.5" height="12.5" rx="3.5" fill="#0a9cc6"/>
<rect x="502.8" y="3712.8" width="12.5" height="12.5" rx="3.5" fill="#0a9cc6"/>
<rect x="548.8" y="3697.8" width="12.5" height="12.5" rx="3.5" fill="#0a9cc6"/>
<rect x="592.2" y="3682.8" width="12.5" height="12.5" rx="3.5" fill="#0a9cc6"/>
<rect x="602.8" y="3664.8" width="12.5" height="12.5" rx="3.5" fill="#0a9cc6"/>
<rect x="613.8" y="3678.8" width="12.5" height="12.5" rx="3.5" fill="#0a9cc6"/>
<rect x="628.8" y="3661.8" width="12.5" height="12.5" rx="3.5" fill="#0a9cc6"/>
<rect x="711.2" y="3661.8" width="12.5" height="12.5" rx="3.5" fill="#0a9cc6"/>
<rect x="767.2" y="3678.8" width="12.5" height="12.5" rx="3.5" fill="#0a9cc6"/>
<rect x="826.2" y="3650.2" width="12.5" height="12.5" rx="3.5" fill="#0a9cc6"/>
<rect x="874.8" y="3663.8" width="12.5" height="12.5" rx="3.5" fill="#0a9cc6"/>
<rect x="923.8" y="3641.2" width="12.5" height="12.5" rx="3.5" fill="#0a9cc6"/>
<rect x="962.8" y="3647.2" width="12.5" height="12.5" rx="3.5" fill="#0a9cc6"/>
<rect x="1002.8" y="3660.2" width="12.5" height="12.5" rx="3.5" fill="#0a9cc6"/>
<polyline points="225.0,3943.5 247.5,3919.0 276.0,3919.0 304.0,3916.0 328.5,3922.5 380.0,3922.5 406.0,3928.5 435.0,4014.0 450.0,3992.5 456.0,4007.5 461.0,3981.5 509.0,3932.5 555.0,3910.0 599.0,3911.5 609.0,3885.0 621.5,3920.0 635.0,3892.5 716.0,3905.0 773.5,3892.5 834.0,3880.0 881.0,3920.0 928.5,3880.0 969.0,3890.0 1009.0,3900.0" fill="none" stroke="#ff0000" stroke-width="5.2" stroke-linejoin="round" />
<rect x="218.8" y="3937.2" width="12.5" height="12.5" rx="3" fill="#b31b6b"/>
<rect x="241.2" y="3912.8" width="12.5" height="12.5" rx="3" fill="#b31b6b"/>
<rect x="269.8" y="3912.8" width="12.5" height="12.5" rx="3" fill="#b31b6b"/>
<rect x="297.8" y="3909.8" width="12.5" height="12.5" rx="3" fill="#b31b6b"/>
<rect x="322.2" y="3916.2" width="12.5" height="12.5" rx="3" fill="#b31b6b"/>
<rect x="373.8" y="3916.2" width="12.5" height="12.5" rx="3" fill="#b31b6b"/>
<rect x="399.8" y="3922.2" width="12.5" height="12.5" rx="3" fill="#b31b6b"/>
<rect x="428.8" y="4007.8" width="12.5" height="12.5" rx="3" fill="#b31b6b"/>
<rect x="443.8" y="3986.2" width="12.5" height="12.5" rx="3" fill="#b31b6b"/>
<rect x="449.8" y="4001.2" width="12.5" height="12.5" rx="3" fill="#b31b6b"/>
<rect x="454.8" y="3975.2" width="12.5" height="12.5" rx="3" fill="#b31b6b"/>
<rect x="502.8" y="3926.2" width="12.5" height="12.5" rx="3" fill="#b31b6b"/>
<rect x="548.8" y="3903.8" width="12.5" height="12.5" rx="3" fill="#b31b6b"/>
<rect x="592.8" y="3905.2" width="12.5" height="12.5" rx="3" fill="#b31b6b"/>
<rect x="602.8" y="3878.8" width="12.5" height="12.5" rx="3" fill="#b31b6b"/>
<rect x="615.2" y="3913.8" width="12.5" height="12.5" rx="3" fill="#b31b6b"/>
<rect x="628.8" y="3886.2" width="12.5" height="12.5" rx="3" fill="#b31b6b"/>
<rect x="709.8" y="3898.8" width="12.5" height="12.5" rx="3" fill="#b31b6b"/>
<rect x="767.2" y="3886.2" width="12.5" height="12.5" rx="3" fill="#b31b6b"/>
<rect x="827.8" y="3873.8" width="12.5" height="12.5" rx="3" fill="#b31b6b"/>
<rect x="874.8" y="3913.8" width="12.5" height="12.5" rx="3" fill="#b31b6b"/>
<rect x="922.2" y="3873.8" width="12.5" height="12.5" rx="3" fill="#b31b6b"/>
<rect x="962.8" y="3883.8" width="12.5" height="12.5" rx="3" fill="#b31b6b"/>
<rect x="1002.8" y="3893.8" width="12.5" height="12.5" rx="3" fill="#b31b6b"/>
<g font-family='"Liberation Sans", "DejaVu Sans", sans-serif'>
<rect x="142.5" y="92.5" width="72.5" height="123.5" fill="#fff" stroke="#fbb0a6" stroke-width="4.6" />
<text transform="translate(202.0,206.5) rotate(-90)" font-size="65" fill="#ff1d1d" stroke="#ff1d1d" stroke-width="1.6" font-weight="normal" text-anchor="start" textLength="97.5" lengthAdjust="spacingAndGlyphs" >SB5</text>
<rect x="271.5" y="61" width="72.0" height="157" fill="#fff" stroke="#bcb4e0" stroke-width="4.6" />
<text transform="translate(331.0,208.5) rotate(-90)" font-size="65" fill="#261c86" stroke="#261c86" stroke-width="1.6" font-weight="normal" text-anchor="start" textLength="146" lengthAdjust="spacingAndGlyphs" >MFS5</text>
<rect x="448.5" y="91.5" width="71.5" height="123.5" fill="#fff" stroke="#fbb0a6" stroke-width="4.6" />
<text transform="translate(508.0,205.5) rotate(-90)" font-size="65" fill="#ff1d1d" stroke="#ff1d1d" stroke-width="1.6" font-weight="normal" text-anchor="start" textLength="97.5" lengthAdjust="spacingAndGlyphs" >SB4</text>
<rect x="530" y="61" width="71.5" height="157" fill="#fff" stroke="#bcb4e0" stroke-width="4.6" />
<text transform="translate(589.5,208.5) rotate(-90)" font-size="65" fill="#261c86" stroke="#261c86" stroke-width="1.6" font-weight="normal" text-anchor="start" textLength="146" lengthAdjust="spacingAndGlyphs" >MFS3</text>
<rect x="746" y="86" width="74" height="124" fill="#fff" stroke="#fbb0a6" stroke-width="4.6" />
<text transform="translate(805.5,200.5) rotate(-90)" font-size="65" fill="#ff1d1d" stroke="#ff1d1d" stroke-width="1.6" font-weight="normal" text-anchor="start" textLength="97.5" lengthAdjust="spacingAndGlyphs" >SB3</text>
<rect x="1127.5" y="51.5" width="72.5" height="152.5" fill="#fff" stroke="none" stroke-width="0" />
<path d="M1127.5,51.5L1127.5,204L1200,204L1200,51.5" fill="none" stroke="#bcb4e0" stroke-width="4.6"/>
<text transform="translate(1187.0,194.5) rotate(-90)" font-size="65" fill="#261c86" stroke="#261c86" stroke-width="1.6" font-weight="normal" text-anchor="start" textLength="139.5" lengthAdjust="spacingAndGlyphs" >MFS2</text>
<rect x="1210" y="81.5" width="71.5" height="122.5" fill="#fff" stroke="#fbb0a6" stroke-width="4.6" />
<text transform="translate(1269.5,194.5) rotate(-90)" font-size="65" fill="#ff1d1d" stroke="#ff1d1d" stroke-width="1.6" font-weight="normal" text-anchor="start" textLength="97.5" lengthAdjust="spacingAndGlyphs" >SB2</text>
<rect x="1407.5" y="51.5" width="71.5" height="147.0" fill="#fff" stroke="none" stroke-width="0" />
<path d="M1407.5,51.5L1407.5,198.5L1479,198.5L1479,51.5" fill="none" stroke="#bcb4e0" stroke-width="4.6"/>
<text transform="translate(1467.0,189.0) rotate(-90)" font-size="65" fill="#261c86" stroke="#261c86" stroke-width="1.6" font-weight="normal" text-anchor="start" textLength="131" lengthAdjust="spacingAndGlyphs" >MFS1</text>
<rect x="1801.5" y="75" width="71.0" height="124" fill="#fff" stroke="#fbb0a6" stroke-width="4.6" />
<text transform="translate(1861.0,191.0) rotate(-90)" font-size="65" fill="#ff1d1d" stroke="#ff1d1d" stroke-width="1.6" font-weight="normal" text-anchor="start" textLength="89.5" lengthAdjust="spacingAndGlyphs" >SB1</text>
<text transform="translate(92,236.5) rotate(-90)" font-size="42" fill="#111" stroke="#111" stroke-width="1.51" font-weight="normal" text-anchor="start" textLength="169" lengthAdjust="spacingAndGlyphs" >Seq. strat.</text>
<rect x="724" y="230" width="126" height="211.5" fill="#fff" stroke="#0f9444" stroke-width="6.2" />
<text transform="translate(765,388) rotate(-90)" font-size="42" fill="#111" stroke="#111" stroke-width="1.51" font-weight="normal" text-anchor="start" textLength="112" lengthAdjust="spacingAndGlyphs" >onset</text>
<text transform="translate(797,416) rotate(-90)" font-size="42" fill="#111" stroke="#111" stroke-width="1.51" font-weight="normal" text-anchor="start" textLength="167" lengthAdjust="spacingAndGlyphs" >negative</text>
<text transform="translate(828,416) rotate(-90)" font-size="42" fill="#111" stroke="#111" stroke-width="1.51" font-weight="normal" text-anchor="start" textLength="167" lengthAdjust="spacingAndGlyphs" >anomaly</text>
<text transform="translate(673,1426) rotate(-90)" font-size="42" fill="#111" stroke="#111" stroke-width="1.51" font-weight="normal" text-anchor="start" textLength="67" lengthAdjust="spacingAndGlyphs" >sph.</text>
<text transform="translate(847,1426) rotate(-90)" font-size="42" fill="#111" stroke="#111" stroke-width="1.51" font-weight="normal" text-anchor="start" textLength="67" lengthAdjust="spacingAndGlyphs" >sph.</text>
<line x1="664" y1="1428" x2="664" y2="1447" stroke="#333" stroke-width="2" />
<line x1="838.5" y1="1428" x2="838.5" y2="1447" stroke="#333" stroke-width="2" />
<text transform="translate(714,2975) rotate(-90)" font-size="34" fill="#111" stroke="#111" stroke-width="1.9" font-weight="normal" text-anchor="start" textLength="133" lengthAdjust="spacingAndGlyphs" >Cr-Co-Ni</text>
<text transform="translate(70,563) rotate(-90)" font-size="42" fill="#111" textLength="74" lengthAdjust="spacingAndGlyphs">δ<tspan font-size="27" dy="-10">13</tspan><tspan dy="10">C</tspan></text>
<text transform="translate(99.5,589) rotate(-90)" font-size="32" fill="#111" stroke="#111" stroke-width="0.83" font-weight="bold" text-anchor="start" textLength="139" lengthAdjust="spacingAndGlyphs" >(‰, V-PDB)</text>
<text transform="translate(66,1201) rotate(-90)" font-size="42" fill="#111" textLength="74" lengthAdjust="spacingAndGlyphs">δ<tspan font-size="27" dy="-10">18</tspan><tspan dy="10">O</tspan></text>
<text transform="translate(95.5,1227) rotate(-90)" font-size="32" fill="#111" stroke="#111" stroke-width="0.83" font-weight="bold" text-anchor="start" textLength="139" lengthAdjust="spacingAndGlyphs" >(‰, V-PDB)</text>
<text transform="translate(75,2113) rotate(-90)" font-size="42" fill="#111" textLength="74" lengthAdjust="spacingAndGlyphs">δ<tspan font-size="27" dy="-10">13</tspan><tspan dy="10">C</tspan></text>
<text transform="translate(104.5,2139) rotate(-90)" font-size="32" fill="#111" stroke="#111" stroke-width="0.83" font-weight="bold" text-anchor="start" textLength="139" lengthAdjust="spacingAndGlyphs" >(‰, V-PDB)</text>
<text transform="translate(70,2803) rotate(-90)" font-size="42" fill="#111" textLength="74" lengthAdjust="spacingAndGlyphs">δ<tspan font-size="27" dy="-10">13</tspan><tspan dy="10">C</tspan></text>
<text transform="translate(99.5,2829) rotate(-90)" font-size="32" fill="#111" stroke="#111" stroke-width="0.83" font-weight="bold" text-anchor="start" textLength="139" lengthAdjust="spacingAndGlyphs" >(‰, V-PDB)</text>
<text transform="translate(70,3082) rotate(-90)" font-size="42" fill="#111" textLength="74" lengthAdjust="spacingAndGlyphs">δ<tspan font-size="27" dy="-10">18</tspan><tspan dy="10">O</tspan></text>
<text transform="translate(99.5,3108) rotate(-90)" font-size="32" fill="#111" stroke="#111" stroke-width="0.83" font-weight="bold" text-anchor="start" textLength="139" lengthAdjust="spacingAndGlyphs" >(‰, V-PDB)</text>
<text transform="translate(77,3770) rotate(-90)" font-size="42" fill="#111" textLength="74" lengthAdjust="spacingAndGlyphs">δ<tspan font-size="27" dy="-10">13</tspan><tspan dy="10">C</tspan></text>
<text transform="translate(106.5,3796) rotate(-90)" font-size="32" fill="#111" stroke="#111" stroke-width="0.83" font-weight="bold" text-anchor="start" textLength="139" lengthAdjust="spacingAndGlyphs" >(‰, V-PDB)</text>
<text transform="translate(77,3967) rotate(-90)" font-size="42" fill="#111" textLength="74" lengthAdjust="spacingAndGlyphs">δ<tspan font-size="27" dy="-10">18</tspan><tspan dy="10">O</tspan></text>
<text transform="translate(106.5,3993) rotate(-90)" font-size="32" fill="#111" stroke="#111" stroke-width="0.83" font-weight="bold" text-anchor="start" textLength="139" lengthAdjust="spacingAndGlyphs" >(‰, V-PDB)</text>
<text transform="translate(98.5,1547) rotate(-90)" font-size="41" fill="#111" stroke="#111" stroke-width="1.48" font-weight="normal" text-anchor="start" textLength="72" lengthAdjust="spacingAndGlyphs" >Lith.</text>
<text transform="translate(105,2332) rotate(-90)" font-size="41" fill="#111" stroke="#111" stroke-width="1.48" font-weight="normal" text-anchor="start" textLength="72" lengthAdjust="spacingAndGlyphs" >Lith.</text>
<text transform="translate(106,4112) rotate(-90)" font-size="41" fill="#111" stroke="#111" stroke-width="1.48" font-weight="normal" text-anchor="start" textLength="72" lengthAdjust="spacingAndGlyphs" >Lith.</text>
<text transform="translate(106,3290) rotate(-90)" font-size="41" fill="#111" stroke="#111" stroke-width="1.48" font-weight="normal" text-anchor="start" textLength="118" lengthAdjust="spacingAndGlyphs" >Colour</text>
<text transform="translate(107,1786) rotate(-90)" font-size="58" fill="#111" stroke="#111" stroke-width="2.09" font-weight="normal" text-anchor="start" textLength="39" lengthAdjust="spacingAndGlyphs" >D</text>
<text transform="translate(112,2528) rotate(-90)" font-size="58" fill="#111" stroke="#111" stroke-width="2.09" font-weight="normal" text-anchor="start" textLength="38" lengthAdjust="spacingAndGlyphs" >C</text>
<text transform="translate(116,3516) rotate(-90)" font-size="58" fill="#111" stroke="#111" stroke-width="2.09" font-weight="normal" text-anchor="start" textLength="36" lengthAdjust="spacingAndGlyphs" >B</text>
<text transform="translate(112,4262) rotate(-90)" font-size="58" fill="#111" stroke="#111" stroke-width="2.09" font-weight="normal" text-anchor="start" textLength="37" lengthAdjust="spacingAndGlyphs" >A</text>
<text transform="translate(195.25,1729) rotate(-90)" font-size="39" fill="#111" stroke="#111" stroke-width="1.4" font-weight="normal" text-anchor="end" textLength="66" lengthAdjust="spacingAndGlyphs" >240</text>
<text transform="translate(469.25,1729) rotate(-90)" font-size="39" fill="#111" stroke="#111" stroke-width="1.4" font-weight="normal" text-anchor="end" textLength="66" lengthAdjust="spacingAndGlyphs" >200</text>
<text transform="translate(820.75,1729) rotate(-90)" font-size="39" fill="#111" stroke="#111" stroke-width="1.4" font-weight="normal" text-anchor="end" textLength="66" lengthAdjust="spacingAndGlyphs" >150</text>
<text transform="translate(1168.25,1729) rotate(-90)" font-size="39" fill="#111" stroke="#111" stroke-width="1.4" font-weight="normal" text-anchor="end" textLength="66" lengthAdjust="spacingAndGlyphs" >100</text>
<text transform="translate(1508.25,1729) rotate(-90)" font-size="39" fill="#111" stroke="#111" stroke-width="1.4" font-weight="normal" text-anchor="end" textLength="43.5" lengthAdjust="spacingAndGlyphs" >50</text>
<text transform="translate(1855.75,1729) rotate(-90)" font-size="39" fill="#111" stroke="#111" stroke-width="1.4" font-weight="normal" text-anchor="end" textLength="21" lengthAdjust="spacingAndGlyphs" >0</text>
<text transform="translate(343.75,2483) rotate(-90)" font-size="39" fill="#111" stroke="#111" stroke-width="1.4" font-weight="normal" text-anchor="end" textLength="66" lengthAdjust="spacingAndGlyphs" >200</text>
<text transform="translate(625.75,2483) rotate(-90)" font-size="39" fill="#111" stroke="#111" stroke-width="1.4" font-weight="normal" text-anchor="end" textLength="66" lengthAdjust="spacingAndGlyphs" >160</text>
<text transform="translate(896.25,2483) rotate(-90)" font-size="39" fill="#111" stroke="#111" stroke-width="1.4" font-weight="normal" text-anchor="end" textLength="66" lengthAdjust="spacingAndGlyphs" >120</text>
<text transform="translate(1178.75,2483) rotate(-90)" font-size="39" fill="#111" stroke="#111" stroke-width="1.4" font-weight="normal" text-anchor="end" textLength="43.5" lengthAdjust="spacingAndGlyphs" >80</text>
<text transform="translate(1448.75,2483) rotate(-90)" font-size="39" fill="#111" stroke="#111" stroke-width="1.4" font-weight="normal" text-anchor="end" textLength="43.5" lengthAdjust="spacingAndGlyphs" >40</text>
<text transform="translate(1725.75,2483) rotate(-90)" font-size="39" fill="#111" stroke="#111" stroke-width="1.4" font-weight="normal" text-anchor="end" textLength="21" lengthAdjust="spacingAndGlyphs" >0</text>
<text transform="translate(474.75,3458) rotate(-90)" font-size="39" fill="#111" stroke="#111" stroke-width="1.4" font-weight="normal" text-anchor="end" textLength="66" lengthAdjust="spacingAndGlyphs" >160</text>
<text transform="translate(753.75,3458) rotate(-90)" font-size="39" fill="#111" stroke="#111" stroke-width="1.4" font-weight="normal" text-anchor="end" textLength="66" lengthAdjust="spacingAndGlyphs" >120</text>
<text transform="translate(1026.25,3458) rotate(-90)" font-size="39" fill="#111" stroke="#111" stroke-width="1.4" font-weight="normal" text-anchor="end" textLength="43.5" lengthAdjust="spacingAndGlyphs" >80</text>
<text transform="translate(1298.75,3458) rotate(-90)" font-size="39" fill="#111" stroke="#111" stroke-width="1.4" font-weight="normal" text-anchor="end" textLength="43.5" lengthAdjust="spacingAndGlyphs" >40</text>
<text transform="translate(1569.75,3458) rotate(-90)" font-size="39" fill="#111" stroke="#111" stroke-width="1.4" font-weight="normal" text-anchor="end" textLength="21" lengthAdjust="spacingAndGlyphs" >0</text>
<text transform="translate(201.5,4209) rotate(-90)" font-size="40" fill="#111" stroke="#111" stroke-width="1.44" font-weight="normal" text-anchor="end" textLength="66" lengthAdjust="spacingAndGlyphs" >120</text>
<text transform="translate(339.0,4209) rotate(-90)" font-size="40" fill="#111" stroke="#111" stroke-width="1.44" font-weight="normal" text-anchor="end" textLength="66" lengthAdjust="spacingAndGlyphs" >100</text>
<text transform="translate(469.0,4209) rotate(-90)" font-size="40" fill="#111" stroke="#111" stroke-width="1.44" font-weight="normal" text-anchor="end" textLength="43.5" lengthAdjust="spacingAndGlyphs" >80</text>
<text transform="translate(609.0,4209) rotate(-90)" font-size="40" fill="#111" stroke="#111" stroke-width="1.44" font-weight="normal" text-anchor="end" textLength="43.5" lengthAdjust="spacingAndGlyphs" >60</text>
<text transform="translate(747.0,4209) rotate(-90)" font-size="40" fill="#111" stroke="#111" stroke-width="1.44" font-weight="normal" text-anchor="end" textLength="43.5" lengthAdjust="spacingAndGlyphs" >40</text>
<text transform="translate(885.0,4209) rotate(-90)" font-size="40" fill="#111" stroke="#111" stroke-width="1.44" font-weight="normal" text-anchor="end" textLength="43.5" lengthAdjust="spacingAndGlyphs" >20</text>
<text transform="translate(1025.0,4209) rotate(-90)" font-size="40" fill="#111" stroke="#111" stroke-width="1.44" font-weight="normal" text-anchor="end" textLength="21" lengthAdjust="spacingAndGlyphs" >0</text>
<text transform="translate(1898.5,335.5) rotate(-90)" font-size="37" fill="#111" stroke="#111" stroke-width="1.33" font-weight="normal" text-anchor="end" textLength="19.2" lengthAdjust="spacingAndGlyphs" >4</text>
<text transform="translate(1898.5,401.6) rotate(-90)" font-size="37" fill="#111" stroke="#111" stroke-width="1.33" font-weight="normal" text-anchor="end" textLength="19.2" lengthAdjust="spacingAndGlyphs" >3</text>
<text transform="translate(1898.5,467.7) rotate(-90)" font-size="37" fill="#111" stroke="#111" stroke-width="1.33" font-weight="normal" text-anchor="end" textLength="19.2" lengthAdjust="spacingAndGlyphs" >2</text>
<text transform="translate(1898.5,533.8) rotate(-90)" font-size="37" fill="#111" stroke="#111" stroke-width="1.33" font-weight="normal" text-anchor="end" textLength="19.2" lengthAdjust="spacingAndGlyphs" >1</text>
<text transform="translate(1898.5,599.9) rotate(-90)" font-size="37" fill="#111" stroke="#111" stroke-width="1.33" font-weight="normal" text-anchor="end" textLength="19.2" lengthAdjust="spacingAndGlyphs" >0</text>
<text transform="translate(1898.5,666.0) rotate(-90)" font-size="37" fill="#111" stroke="#111" stroke-width="1.33" font-weight="normal" text-anchor="end" textLength="38.5" lengthAdjust="spacingAndGlyphs" >−1</text>
<text transform="translate(1898.5,732.1) rotate(-90)" font-size="37" fill="#111" stroke="#111" stroke-width="1.33" font-weight="normal" text-anchor="end" textLength="38.5" lengthAdjust="spacingAndGlyphs" >−2</text>
<text transform="translate(1897.5,890.7) rotate(-90)" font-size="37" fill="#111" stroke="#111" stroke-width="1.33" font-weight="normal" text-anchor="end" textLength="19.2" lengthAdjust="spacingAndGlyphs" >8</text>
<text transform="translate(1897.5,1027.3) rotate(-90)" font-size="37" fill="#111" stroke="#111" stroke-width="1.33" font-weight="normal" text-anchor="end" textLength="19.2" lengthAdjust="spacingAndGlyphs" >4</text>
<text transform="translate(1897.5,1163.9) rotate(-90)" font-size="37" fill="#111" stroke="#111" stroke-width="1.33" font-weight="normal" text-anchor="end" textLength="19.2" lengthAdjust="spacingAndGlyphs" >0</text>
<text transform="translate(1897.5,1300.5) rotate(-90)" font-size="37" fill="#111" stroke="#111" stroke-width="1.33" font-weight="normal" text-anchor="end" textLength="38.5" lengthAdjust="spacingAndGlyphs" >−4</text>
<text transform="translate(1897.5,1437.1) rotate(-90)" font-size="37" fill="#111" stroke="#111" stroke-width="1.33" font-weight="normal" text-anchor="end" textLength="38.5" lengthAdjust="spacingAndGlyphs" >−8</text>
<text transform="translate(1769,1921.6) rotate(-90)" font-size="37" fill="#111" stroke="#111" stroke-width="1.33" font-weight="normal" text-anchor="end" textLength="19.2" lengthAdjust="spacingAndGlyphs" >4</text>
<text transform="translate(1769,1988.5) rotate(-90)" font-size="37" fill="#111" stroke="#111" stroke-width="1.33" font-weight="normal" text-anchor="end" textLength="19.2" lengthAdjust="spacingAndGlyphs" >2</text>
<text transform="translate(1769,2055.4) rotate(-90)" font-size="37" fill="#111" stroke="#111" stroke-width="1.33" font-weight="normal" text-anchor="end" textLength="19.2" lengthAdjust="spacingAndGlyphs" >0</text>
<text transform="translate(1769,2122.3) rotate(-90)" font-size="37" fill="#111" stroke="#111" stroke-width="1.33" font-weight="normal" text-anchor="end" textLength="38.5" lengthAdjust="spacingAndGlyphs" >−2</text>
<text transform="translate(1769,2189.2) rotate(-90)" font-size="37" fill="#111" stroke="#111" stroke-width="1.33" font-weight="normal" text-anchor="end" textLength="38.5" lengthAdjust="spacingAndGlyphs" >−4</text>
<text transform="translate(1769,2256.1) rotate(-90)" font-size="37" fill="#111" stroke="#111" stroke-width="1.33" font-weight="normal" text-anchor="end" textLength="38.5" lengthAdjust="spacingAndGlyphs" >−6</text>
<text transform="translate(1625,2642.1) rotate(-90)" font-size="40" fill="#111" stroke="#111" stroke-width="1.44" font-weight="normal" text-anchor="end" textLength="20.8" lengthAdjust="spacingAndGlyphs" >2</text>
<text transform="translate(1625,2713.6) rotate(-90)" font-size="40" fill="#111" stroke="#111" stroke-width="1.44" font-weight="normal" text-anchor="end" textLength="20.8" lengthAdjust="spacingAndGlyphs" >0</text>
<text transform="translate(1625,2784.6) rotate(-90)" font-size="40" fill="#111" stroke="#111" stroke-width="1.44" font-weight="normal" text-anchor="end" textLength="41.6" lengthAdjust="spacingAndGlyphs" >−2</text>
<text transform="translate(1625,2899.6) rotate(-90)" font-size="40" fill="#111" stroke="#111" stroke-width="1.44" font-weight="normal" text-anchor="end" textLength="20.8" lengthAdjust="spacingAndGlyphs" >4</text>
<text transform="translate(1625,2969.6) rotate(-90)" font-size="40" fill="#111" stroke="#111" stroke-width="1.44" font-weight="normal" text-anchor="end" textLength="20.8" lengthAdjust="spacingAndGlyphs" >0</text>
<text transform="translate(1625,3039.6) rotate(-90)" font-size="40" fill="#111" stroke="#111" stroke-width="1.44" font-weight="normal" text-anchor="end" textLength="41.6" lengthAdjust="spacingAndGlyphs" >−4</text>
<text transform="translate(1625,3109.6) rotate(-90)" font-size="40" fill="#111" stroke="#111" stroke-width="1.44" font-weight="normal" text-anchor="end" textLength="41.6" lengthAdjust="spacingAndGlyphs" >−8</text>
<text transform="translate(1063.5,3593.1) rotate(-90)" font-size="38" fill="#111" stroke="#111" stroke-width="1.37" font-weight="normal" text-anchor="end" textLength="39.5" lengthAdjust="spacingAndGlyphs" >+4</text>
<text transform="translate(1063.5,3706.6) rotate(-90)" font-size="38" fill="#111" stroke="#111" stroke-width="1.37" font-weight="normal" text-anchor="end" textLength="19.8" lengthAdjust="spacingAndGlyphs" >0</text>
<text transform="translate(1063.5,3803.1) rotate(-90)" font-size="38" fill="#111" stroke="#111" stroke-width="1.37" font-weight="normal" text-anchor="end" textLength="39.5" lengthAdjust="spacingAndGlyphs" >−4</text>
<text transform="translate(1063.5,3901.1) rotate(-90)" font-size="38" fill="#111" stroke="#111" stroke-width="1.37" font-weight="normal" text-anchor="end" textLength="19.8" lengthAdjust="spacingAndGlyphs" >0</text>
<text transform="translate(1063.5,3982.1) rotate(-90)" font-size="38" fill="#111" stroke="#111" stroke-width="1.37" font-weight="normal" text-anchor="end" textLength="39.5" lengthAdjust="spacingAndGlyphs" >−8</text>
<text transform="translate(201.5,3554) rotate(-90)" font-size="52" fill="#111" stroke="#111" stroke-width="1.35" font-weight="bold" text-anchor="start" textLength="25" lengthAdjust="spacingAndGlyphs" >?</text>
<text transform="translate(532.5,3567) rotate(-90)" font-size="52" fill="#111" stroke="#111" stroke-width="1.35" font-weight="bold" text-anchor="start" textLength="25" lengthAdjust="spacingAndGlyphs" >?</text>
<text transform="translate(697.5,3564) rotate(-90)" font-size="52" fill="#111" stroke="#111" stroke-width="1.35" font-weight="bold" text-anchor="start" textLength="25" lengthAdjust="spacingAndGlyphs" >?</text>
<text transform="translate(1115.5,2572) rotate(-90)" font-size="52" fill="#111" stroke="#111" stroke-width="1.35" font-weight="bold" text-anchor="start" textLength="25" lengthAdjust="spacingAndGlyphs" >?</text>
<text transform="translate(1122.5,3579) rotate(-90)" font-size="52" fill="#111" stroke="#111" stroke-width="1.35" font-weight="bold" text-anchor="start" textLength="25" lengthAdjust="spacingAndGlyphs" >?</text>
</g>
<g font-family='"Liberation Sans", "DejaVu Sans", sans-serif'>
<rect x="1962.5" y="261" width="311" height="1701.5" fill="#fff" stroke="#0a0a0a" stroke-width="5.2" />
<rect x="1962.5" y="2018.5" width="311" height="1335.5" fill="#fff" stroke="#0a0a0a" stroke-width="5.2" />
<text transform="translate(2043,961) rotate(-90)" font-size="61" fill="#000" stroke="#000" stroke-width="1.7" font-weight="bold" text-anchor="start" textLength="353" lengthAdjust="spacingAndGlyphs" >MINERALOGY</text>
<rect x="2079.5" y="891.5" width="65" height="66" fill="#0a9de2" stroke="#0d6fa3" stroke-width="2" />
<rect x="2163.5" y="892" width="65" height="66" fill="#ff0020" stroke="#111" stroke-width="4.6" />
<rect x="2083" y="575.5" width="59" height="60" fill="#0a9de2" stroke="#f01020" stroke-width="7" />
<rect x="2079" y="571.5" width="67" height="68" fill="none" stroke="#7a2020" stroke-width="1.2" />
<text transform="translate(2129.6,868) rotate(-90)" font-size="52" fill="#111" stroke="#111" stroke-width="1.87" font-weight="normal" text-anchor="start" textLength="139" lengthAdjust="spacingAndGlyphs" >Calcite</text>
<text transform="translate(2210,868) rotate(-90)" font-size="52" fill="#111" stroke="#111" stroke-width="1.87" font-weight="normal" text-anchor="start" textLength="196" lengthAdjust="spacingAndGlyphs" >Dolomite</text>
<text transform="translate(2120,549) rotate(-90)" font-size="52" fill="#111" stroke="#111" stroke-width="1.87" font-weight="normal" text-anchor="start" textLength="232" lengthAdjust="spacingAndGlyphs" >Calcite and</text>
<text transform="translate(2170,549) rotate(-90)" font-size="52" fill="#111" stroke="#111" stroke-width="1.87" font-weight="normal" text-anchor="start" textLength="192" lengthAdjust="spacingAndGlyphs" >dolomite</text>
<text transform="translate(2038,1898) rotate(-90)" font-size="61" fill="#000" stroke="#000" stroke-width="1.7" font-weight="bold" text-anchor="start" textLength="550" lengthAdjust="spacingAndGlyphs" >CARBONATE PHASES</text>
<text transform="translate(2133,1445) rotate(-90)" font-size="52" fill="#111" stroke="#111" stroke-width="1.87" font-weight="normal" text-anchor="start" textLength="170" lengthAdjust="spacingAndGlyphs" >Oncoids</text>
<text transform="translate(2211,1440.5) rotate(-90)" font-size="52" fill="#111" stroke="#111" stroke-width="1.87" font-weight="normal" text-anchor="start" textLength="311.1" lengthAdjust="spacingAndGlyphs" >Calcite cement</text>
<text transform="translate(2128,1830) rotate(-90)" font-size="52" fill="#111" stroke="#111" stroke-width="1.87" font-weight="normal" text-anchor="start" textLength="246" lengthAdjust="spacingAndGlyphs" >Microbialite</text>
<text transform="translate(2211,1829.5) rotate(-90)" font-size="52" fill="#111" stroke="#111" stroke-width="1.87" font-weight="normal" text-anchor="start" textLength="117" lengthAdjust="spacingAndGlyphs" >Ooids</text>
<path d="M2088,1501L2140,1476L2140,1526Z" fill="#fff" stroke="#6a6a6a" stroke-width="4.6" stroke-linejoin="miter"/>
<rect x="2168.5" y="1473.5" width="53" height="52" fill="#7bc000" stroke="#2c3c12" stroke-width="3.4" />
<polygon points="2123.4,1855.6 2135.4,1867.6 2123.0,1880.0 2135.4,1892.4 2123.4,1904.4 2111.0,1892.0 2098.6,1904.4 2086.6,1892.4 2099.0,1880.0 2086.6,1867.6 2098.6,1855.6 2111.0,1868.0" fill="#fff" stroke="#555" stroke-width="4.4"/>
<ellipse cx="2194" cy="1881" rx="26.5" ry="26.5" fill="#fff" stroke="#666" stroke-width="4.4"/>
<text transform="translate(2038.5,3303.5) rotate(-90)" font-size="61" fill="#000" stroke="#000" stroke-width="1.7" font-weight="bold" text-anchor="start" textLength="535" lengthAdjust="spacingAndGlyphs" >LITHOLOGY LEGEND</text>
<text transform="translate(2143,3236.5) rotate(-90)" font-size="52" fill="#111" stroke="#111" stroke-width="1.87" font-weight="normal" text-anchor="start" textLength="221.3" lengthAdjust="spacingAndGlyphs" >Limestone</text>
<text transform="translate(2228,3232.5) rotate(-90)" font-size="52" fill="#111" stroke="#111" stroke-width="1.87" font-weight="normal" text-anchor="start" textLength="307.0" lengthAdjust="spacingAndGlyphs" >Conglomerate</text>
<text transform="translate(2137,2765.5) rotate(-90)" font-size="52" fill="#111" stroke="#111" stroke-width="1.87" font-weight="normal" text-anchor="start" textLength="226.4" lengthAdjust="spacingAndGlyphs" >Sandstone</text>
<text transform="translate(2222,2765.5) rotate(-90)" font-size="52" fill="#111" stroke="#111" stroke-width="1.87" font-weight="normal" text-anchor="start" textLength="135.7" lengthAdjust="spacingAndGlyphs" >Shales</text>
<text transform="translate(2140,2371.5) rotate(-90)" font-size="52" fill="#111" stroke="#111" stroke-width="1.87" font-weight="normal" text-anchor="start" textLength="115.3" lengthAdjust="spacingAndGlyphs" >Marls</text>
<text transform="translate(2218,2361.5) rotate(-90)" font-size="52" fill="#111" stroke="#111" stroke-width="1.87" font-weight="normal" text-anchor="start" textLength="122.4" lengthAdjust="spacingAndGlyphs" >Ooids</text>
<rect x="2082" y="3244.5" width="70.5" height="70" fill="#fff" stroke="#222" stroke-width="2.6" />
<line x1="2097" y1="3244.5" x2="2097" y2="3314.5" stroke="#222" stroke-width="2.4" />
<line x1="2113" y1="3244.5" x2="2113" y2="3314.5" stroke="#222" stroke-width="2.4" />
<line x1="2130" y1="3244.5" x2="2130" y2="3314.5" stroke="#222" stroke-width="2.4" />
<line x1="2142" y1="3244.5" x2="2142" y2="3314.5" stroke="#222" stroke-width="2.4" />
<line x1="2082" y1="3266" x2="2097" y2="3266" stroke="#222" stroke-width="2.2" />
<line x1="2082" y1="3290" x2="2097" y2="3290" stroke="#222" stroke-width="2.2" />
<line x1="2097" y1="3258" x2="2113" y2="3258" stroke="#222" stroke-width="2.2" />
<line x1="2097" y1="3300" x2="2113" y2="3300" stroke="#222" stroke-width="2.2" />
<line x1="2113" y1="3270" x2="2130" y2="3270" stroke="#222" stroke-width="2.2" />
<line x1="2113" y1="3292" x2="2130" y2="3292" stroke="#222" stroke-width="2.2" />
<line x1="2130" y1="3255" x2="2142" y2="3255" stroke="#222" stroke-width="2.2" />
<line x1="2130" y1="3282" x2="2142" y2="3282" stroke="#222" stroke-width="2.2" />
<line x1="2142" y1="3262" x2="2152" y2="3262" stroke="#222" stroke-width="2.2" />
<line x1="2142" y1="3302" x2="2152" y2="3302" stroke="#222" stroke-width="2.2" />
<rect x="2170.5" y="3244.5" width="70.5" height="70" fill="#fff" stroke="#333" stroke-width="2.6" />
<circle cx="2180" cy="3254" r="4.3" fill="#fff" stroke="#333" stroke-width="2"/>
<circle cx="2215" cy="3256" r="4.3" fill="#fff" stroke="#333" stroke-width="2"/>
<circle cx="2232" cy="3268" r="4.3" fill="#fff" stroke="#333" stroke-width="2"/>
<circle cx="2196" cy="3270" r="4.3" fill="#fff" stroke="#333" stroke-width="2"/>
<circle cx="2180" cy="3284" r="4.3" fill="#fff" stroke="#333" stroke-width="2"/>
<circle cx="2214" cy="3288" r="4.3" fill="#fff" stroke="#333" stroke-width="2"/>
<circle cx="2232" cy="3298" r="4.3" fill="#fff" stroke="#333" stroke-width="2"/>
<circle cx="2196" cy="3300" r="4.3" fill="#fff" stroke="#333" stroke-width="2"/>
<circle cx="2181" cy="3306" r="4.3" fill="#fff" stroke="#333" stroke-width="2"/>
<circle cx="2214" cy="3306" r="4.3" fill="#fff" stroke="#333" stroke-width="2"/>
<rect x="2079" y="2778" width="69.5" height="69.5" fill="#fff" stroke="#444" stroke-width="3" />
<circle cx="2088.2" cy="2787.5" r="4.8" fill="#000"/>
<circle cx="2121.2" cy="2787.5" r="4.8" fill="#000"/>
<circle cx="2102.7" cy="2800.1" r="4.8" fill="#000"/>
<circle cx="2140.6" cy="2800.1" r="4.8" fill="#000"/>
<circle cx="2088.2" cy="2813.7" r="4.8" fill="#000"/>
<circle cx="2121.2" cy="2813.7" r="4.8" fill="#000"/>
<circle cx="2104.7" cy="2825.3" r="4.8" fill="#000"/>
<circle cx="2141.6" cy="2826.3" r="4.8" fill="#000"/>
<circle cx="2089.1" cy="2836.0" r="4.8" fill="#000"/>
<circle cx="2121.2" cy="2836.0" r="4.8" fill="#000"/>
<rect x="2167" y="2778" width="70" height="69.5" fill="#fff" stroke="#444" stroke-width="3" />
<line x1="2176.5" y1="2779" x2="2176.5" y2="2847" stroke="#555" stroke-width="2.6" stroke-dasharray="11 6" stroke-dashoffset="8"/>
<line x1="2192" y1="2779" x2="2192" y2="2847" stroke="#555" stroke-width="2.6" stroke-dasharray="11 6" stroke-dashoffset="0"/>
<line x1="2208.5" y1="2779" x2="2208.5" y2="2847" stroke="#555" stroke-width="2.6" stroke-dasharray="11 6" stroke-dashoffset="8"/>
<line x1="2224" y1="2779" x2="2224" y2="2847" stroke="#555" stroke-width="2.6" stroke-dasharray="11 6" stroke-dashoffset="0"/>
<rect x="2082.5" y="2386" width="69.5" height="70" fill="#fff" stroke="#666" stroke-width="3" />
<polyline points="2095,2395 2088,2400 2095,2405" fill="none" stroke="#444" stroke-width="2.4" stroke-linejoin="round" />
<polyline points="2112.5,2395 2105.5,2400 2112.5,2405" fill="none" stroke="#444" stroke-width="2.4" stroke-linejoin="round" />
<polyline points="2130,2392 2123,2397 2130,2402" fill="none" stroke="#444" stroke-width="2.4" stroke-linejoin="round" />
<polyline points="2147.5,2397 2140.5,2402 2147.5,2407" fill="none" stroke="#444" stroke-width="2.4" stroke-linejoin="round" />
<polyline points="2095,2416.5 2088,2421.5 2095,2426.5" fill="none" stroke="#444" stroke-width="2.4" stroke-linejoin="round" />
<polyline points="2112.5,2416.5 2105.5,2421.5 2112.5,2426.5" fill="none" stroke="#444" stroke-width="2.4" stroke-linejoin="round" />
<polyline points="2130,2413.5 2123,2418.5 2130,2423.5" fill="none" stroke="#444" stroke-width="2.4" stroke-linejoin="round" />
<polyline points="2147.5,2418.5 2140.5,2423.5 2147.5,2428.5" fill="none" stroke="#444" stroke-width="2.4" stroke-linejoin="round" />
<polyline points="2095,2438 2088,2443 2095,2448" fill="none" stroke="#444" stroke-width="2.4" stroke-linejoin="round" />
<polyline points="2112.5,2438 2105.5,2443 2112.5,2448" fill="none" stroke="#444" stroke-width="2.4" stroke-linejoin="round" />
<polyline points="2130,2435 2123,2440 2130,2445" fill="none" stroke="#444" stroke-width="2.4" stroke-linejoin="round" />
<polyline points="2147.5,2440 2140.5,2445 2147.5,2450" fill="none" stroke="#444" stroke-width="2.4" stroke-linejoin="round" />
<ellipse cx="2208.5" cy="2423.5" rx="14.5" ry="17" fill="#9a9a9a" stroke="#6e6e6e" stroke-width="4"/>
<ellipse cx="2208.5" cy="2423.5" rx="7" ry="9" fill="#e8e8e8" stroke="#777" stroke-width="2.5"/>
</g>
</g>
</svg>
</body>
</html>
